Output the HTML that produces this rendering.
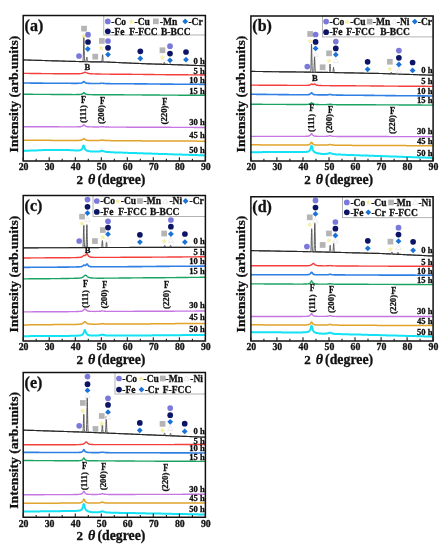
<!DOCTYPE html>
<html><head><meta charset="utf-8"><style>
html,body{margin:0;padding:0;background:#fff;}
body{width:445px;height:550px;overflow:hidden;font-family:"Liberation Serif",serif;}
svg{display:block;will-change:transform;}
</style></head><body>
<svg width="445" height="550" viewBox="0 0 445 550">
<rect width="445" height="550" fill="#fff"/>
<rect x="103.8" y="15.5" width="101.6" height="19.5" fill="#fff" stroke="#a0a0a0" stroke-width="0.8"/>
<polyline fill="none" stroke="#5a5a5a" stroke-width="1.0" stroke-linejoin="round" points="23.2,59.9 23.9,59.9 24.5,59.9 25.2,60.0 25.8,60.0 26.5,60.0 27.1,60.0 27.8,60.0 28.4,60.1 29.1,60.1 29.7,60.1 30.4,60.1 31.0,60.1 31.7,60.2 32.3,60.2 33.0,60.2 33.6,60.2 34.3,60.2 34.9,60.2 35.6,60.3 36.2,60.3 36.9,60.3 37.5,60.3 38.2,60.3 38.8,60.4 39.5,60.4 40.1,60.4 40.8,60.4 41.4,60.4 42.1,60.5 42.7,60.5 43.4,60.5 44.0,60.5 44.7,60.5 45.3,60.6 46.0,60.6 46.6,60.6 47.3,60.6 47.9,60.6 48.6,60.7 49.2,60.7 49.9,60.7 50.5,60.7 51.2,60.7 51.8,60.8 52.5,60.8 53.1,60.8 53.8,60.8 54.4,60.8 55.1,60.8 55.7,60.9 56.4,60.9 57.0,60.9 57.7,60.9 58.3,60.9 59.0,61.0 59.6,61.0 60.3,61.0 60.9,61.0 61.6,61.0 62.2,61.1 62.9,61.1 63.5,61.1 64.2,61.1 64.8,61.1 65.5,61.2 66.1,61.2 66.8,61.2 67.5,61.2 68.1,61.2 68.8,61.3 69.4,61.3 70.1,61.3 70.7,61.3 71.4,61.3 72.0,61.3 72.7,61.4 73.3,61.4 74.0,61.4 74.6,61.4 75.3,61.4 75.9,61.5 76.6,61.5 77.2,61.5 77.9,61.5 78.5,61.5 79.2,61.6 79.8,61.6 80.5,61.6 81.1,61.6 81.7,61.6 81.8,61.6 81.8,61.6 81.8,61.6 81.9,61.6 82.0,61.6 82.1,61.6 82.2,61.6 82.3,61.6 82.4,61.6 82.4,61.6 82.5,61.6 82.6,61.6 82.7,61.6 82.8,61.6 82.8,61.5 82.9,61.3 83.0,60.9 83.1,60.6 83.1,60.0 83.2,58.6 83.3,56.3 83.4,53.0 83.5,48.9 83.6,44.4 83.7,40.2 83.7,38.3 83.8,37.2 83.8,36.2 83.9,36.2 83.9,37.2 84.0,39.0 84.0,40.2 84.1,44.4 84.2,48.9 84.2,50.5 84.3,53.0 84.4,55.5 84.4,56.3 84.5,58.6 84.5,58.7 84.6,60.1 84.6,60.5 84.7,60.9 84.7,61.3 84.8,61.3 84.9,61.5 84.9,61.5 84.9,61.6 85.0,61.6 85.0,61.6 85.0,61.7 85.1,61.7 85.1,61.7 85.2,61.7 85.2,61.7 85.3,61.7 85.4,61.7 85.4,61.7 85.5,61.7 85.5,61.7 85.6,61.6 85.6,61.6 85.7,61.6 85.7,61.5 85.8,61.5 85.9,61.4 85.9,61.2 86.0,61.1 86.1,60.7 86.2,60.1 86.3,59.6 86.3,59.4 86.5,58.6 86.6,57.8 86.7,57.3 86.8,57.1 87.0,57.3 87.0,57.3 87.1,57.8 87.2,58.6 87.3,59.4 87.5,60.2 87.6,60.7 87.6,60.9 87.7,61.2 87.8,61.4 88.0,61.6 88.1,61.7 88.2,61.7 88.3,61.7 88.3,61.7 88.5,61.7 88.6,61.7 88.7,61.7 88.8,61.7 88.9,61.7 88.9,61.7 89.1,61.7 89.2,61.7 89.3,61.7 89.4,61.7 89.6,61.7 89.6,61.7 89.7,61.7 89.8,61.7 90.2,61.7 90.9,61.8 91.5,61.8 92.2,61.8 92.8,61.8 93.5,61.8 94.1,61.8 94.8,61.8 95.4,61.8 96.1,61.8 96.7,61.9 97.4,61.9 98.0,61.9 98.7,61.9 99.3,61.9 100.0,61.9 100.4,61.9 100.5,61.9 100.6,61.9 100.6,61.9 100.7,61.9 100.8,61.9 100.9,61.9 101.0,61.9 101.0,61.9 101.1,61.9 101.2,61.9 101.3,61.9 101.3,61.9 101.4,61.9 101.5,61.9 101.6,61.9 101.7,61.8 101.8,61.7 101.9,61.5 101.9,61.1 102.0,61.1 102.0,60.4 102.1,59.5 102.2,58.3 102.3,57.1 102.4,55.9 102.5,55.0 102.6,54.7 102.7,55.0 102.8,55.9 102.9,57.1 103.0,58.3 103.0,59.5 103.1,60.4 103.2,61.1 103.2,61.2 103.3,61.5 103.4,61.7 103.5,61.9 103.6,61.9 103.7,61.9 103.8,62.0 103.9,62.0 103.9,62.0 104.0,62.0 104.0,62.0 104.1,62.0 104.2,62.0 104.3,62.0 104.4,62.0 104.5,62.0 104.5,62.0 104.6,62.0 104.7,62.0 105.2,62.0 105.8,62.0 106.5,62.0 107.1,62.0 107.8,62.1 108.4,62.1 109.1,62.1 109.7,62.1 110.4,62.2 111.1,62.2 111.7,62.2 112.4,62.3 113.0,62.3 113.7,62.3 114.3,62.4 115.0,62.4 115.6,62.4 116.3,62.5 116.9,62.5 117.6,62.5 118.2,62.5 118.9,62.6 119.5,62.6 120.2,62.6 120.8,62.7 121.5,62.7 122.1,62.7 122.8,62.8 123.4,62.8 124.1,62.8 124.7,62.8 125.4,62.9 126.0,62.9 126.7,62.9 127.3,63.0 128.0,63.0 128.6,63.0 129.3,63.1 129.9,63.1 130.6,63.1 131.2,63.1 131.9,63.2 132.5,63.2 133.2,63.2 133.8,63.2 134.5,63.3 135.1,63.3 135.8,63.3 136.4,63.4 137.1,63.4 137.7,63.4 138.4,63.4 139.0,63.5 139.7,63.5 140.3,63.5 141.0,63.5 141.6,63.6 142.3,63.6 142.9,63.6 143.6,63.6 144.2,63.6 144.9,63.7 145.5,63.7 146.2,63.7 146.8,63.8 147.5,63.8 148.1,63.8 148.8,63.8 149.4,63.9 150.1,63.9 150.7,63.9 151.4,63.9 152.0,64.0 152.7,64.0 153.3,64.0 154.0,64.0 154.7,64.0 155.3,64.1 156.0,64.1 156.6,64.1 157.3,64.1 157.9,64.1 158.6,64.2 159.2,64.2 159.9,64.2 160.5,64.2 161.2,64.2 161.3,64.2 161.4,64.2 161.6,64.3 161.7,64.3 161.8,64.3 161.9,64.3 162.1,64.3 162.2,64.3 162.3,64.3 162.4,64.3 162.5,64.3 162.6,64.3 162.7,64.3 162.8,64.3 162.9,64.3 163.0,64.3 163.1,64.3 163.2,64.2 163.3,64.2 163.4,64.1 163.5,63.9 163.7,63.6 163.8,63.4 163.8,63.3 163.9,63.0 164.0,62.6 164.2,62.4 164.3,62.3 164.4,62.4 164.4,62.4 164.5,62.7 164.7,63.0 164.8,63.4 164.9,63.7 165.0,63.9 165.1,64.0 165.1,64.1 165.3,64.2 165.4,64.3 165.5,64.3 165.6,64.4 165.7,64.4 165.8,64.4 165.9,64.4 166.0,64.4 166.1,64.4 166.3,64.4 166.4,64.4 166.4,64.4 166.5,64.4 166.6,64.4 166.8,64.4 166.9,64.4 167.0,64.4 167.0,64.4 167.1,64.4 167.1,64.4 167.3,64.4 167.3,64.4 167.4,64.4 167.5,64.4 167.7,64.4 167.8,64.4 167.9,64.4 168.1,64.5 168.2,64.5 168.3,64.5 168.4,64.5 168.6,64.5 168.7,64.5 168.8,64.5 169.0,64.5 169.1,64.5 169.2,64.4 169.4,64.4 169.5,64.3 169.6,64.2 169.7,64.1 169.9,64.0 170.0,63.8 170.1,63.7 170.3,63.7 170.4,63.8 170.5,63.9 170.7,64.0 170.8,64.1 170.9,64.3 171.1,64.4 171.2,64.5 171.3,64.5 171.4,64.5 171.6,64.5 171.7,64.6 171.8,64.6 172.0,64.6 172.1,64.6 172.2,64.6 172.4,64.6 172.5,64.6 172.6,64.6 172.7,64.6 172.9,64.6 173.0,64.6 173.1,64.6 173.3,64.6 173.5,64.6 174.2,64.6 174.8,64.7 175.5,64.7 176.1,64.7 176.8,64.7 177.4,64.7 178.1,64.8 178.7,64.8 179.4,64.8 180.0,64.8 180.7,64.8 181.3,64.9 182.0,64.9 182.6,64.9 183.3,65.0 183.9,65.0 184.6,65.0 185.2,65.0 185.9,65.0 186.5,65.1 187.2,65.1 187.8,65.1 188.5,65.1 189.1,65.2 189.8,65.2 190.4,65.2 191.1,65.2 191.7,65.3 192.4,65.3 193.0,65.3 193.7,65.3 194.3,65.4 195.0,65.4 195.6,65.4 196.3,65.5 197.0,65.5 197.6,65.5 198.3,65.5 198.9,65.5 199.6,65.6 200.2,65.6 200.9,65.6 201.5,65.6 202.2,65.7 202.8,65.7 203.5,65.7 204.1,65.8 204.8,65.8 205.4,65.8"/>
<polyline fill="none" stroke="#262626" stroke-width="1.15" points="23.2,59.9 23.9,59.9 24.5,59.9 25.2,60.0 25.8,60.0 26.5,60.0 27.1,60.0 27.8,60.0 28.4,60.1 29.1,60.1 29.7,60.1 30.4,60.1 31.0,60.1 31.7,60.2 32.3,60.2 33.0,60.2 33.6,60.2 34.3,60.2 34.9,60.2 35.6,60.3 36.2,60.3 36.9,60.3 37.5,60.3 38.2,60.3 38.8,60.4 39.5,60.4 40.1,60.4 40.8,60.4 41.4,60.4 42.1,60.5 42.7,60.5 43.4,60.5 44.0,60.5 44.7,60.5 45.3,60.6 46.0,60.6 46.6,60.6 47.3,60.6 47.9,60.6 48.6,60.7 49.2,60.7 49.9,60.7 50.5,60.7 51.2,60.7 51.8,60.8 52.5,60.8 53.1,60.8 53.8,60.8 54.4,60.8 55.1,60.8 55.7,60.9 56.4,60.9 57.0,60.9 57.7,60.9 58.3,60.9 59.0,61.0 59.6,61.0 60.3,61.0 60.9,61.0 61.6,61.0 62.2,61.1 62.9,61.1 63.5,61.1 64.2,61.1 64.8,61.1 65.5,61.2 66.1,61.2 66.8,61.2 67.5,61.2 68.1,61.2 68.8,61.3 69.4,61.3 70.1,61.3 70.7,61.3 71.4,61.3 72.0,61.3 72.7,61.4 73.3,61.4 74.0,61.4 74.6,61.4 75.3,61.4 75.9,61.5 76.6,61.5 77.2,61.5 77.9,61.5 78.5,61.5 79.2,61.6 79.8,61.6 80.5,61.6 81.1,61.6 81.8,61.6 82.4,61.6 83.1,61.6 83.7,61.6 84.4,61.7 85.0,61.7 85.7,61.7 86.3,61.7 87.0,61.7 87.6,61.7 88.3,61.7 88.9,61.7 89.6,61.7 90.2,61.8 90.9,61.8 91.5,61.8 92.2,61.8 92.8,61.8 93.5,61.8 94.1,61.8 94.8,61.8 95.4,61.8 96.1,61.8 96.7,61.9 97.4,61.9 98.0,61.9 98.7,61.9 99.3,61.9 100.0,61.9 100.6,61.9 101.3,61.9 101.9,61.9 102.6,61.9 103.2,62.0 103.9,62.0 104.5,62.0 105.2,62.0 105.8,62.0 106.5,62.0 107.1,62.0 107.8,62.1 108.4,62.1 109.1,62.1 109.7,62.1 110.4,62.2 111.1,62.2 111.7,62.2 112.4,62.3 113.0,62.3 113.7,62.3 114.3,62.4 115.0,62.4 115.6,62.4 116.3,62.5 116.9,62.5 117.6,62.5 118.2,62.5 118.9,62.6 119.5,62.6 120.2,62.6 120.8,62.7 121.5,62.7 122.1,62.7 122.8,62.8 123.4,62.8 124.1,62.8 124.7,62.8 125.4,62.9 126.0,62.9 126.7,62.9 127.3,63.0 128.0,63.0 128.6,63.0 129.3,63.1 129.9,63.1 130.6,63.1 131.2,63.1 131.9,63.2 132.5,63.2 133.2,63.2 133.8,63.2 134.5,63.3 135.1,63.3 135.8,63.3 136.4,63.4 137.1,63.4 137.7,63.4 138.4,63.4 139.0,63.5 139.7,63.5 140.3,63.5 141.0,63.5 141.6,63.6 142.3,63.6 142.9,63.6 143.6,63.6 144.2,63.6 144.9,63.7 145.5,63.7 146.2,63.7 146.8,63.8 147.5,63.8 148.1,63.8 148.8,63.8 149.4,63.9 150.1,63.9 150.7,63.9 151.4,63.9 152.0,64.0 152.7,64.0 153.3,64.0 154.0,64.0 154.7,64.0 155.3,64.1 156.0,64.1 156.6,64.1 157.3,64.1 157.9,64.1 158.6,64.2 159.2,64.2 159.9,64.2 160.5,64.2 161.2,64.2 161.8,64.3 162.5,64.3 163.1,64.3 163.8,64.3 164.4,64.3 165.1,64.4 165.7,64.4 166.4,64.4 167.0,64.4 167.7,64.4 168.3,64.5 169.0,64.5 169.6,64.5 170.3,64.5 170.9,64.5 171.6,64.6 172.2,64.6 172.9,64.6 173.5,64.6 174.2,64.6 174.8,64.7 175.5,64.7 176.1,64.7 176.8,64.7 177.4,64.7 178.1,64.8 178.7,64.8 179.4,64.8 180.0,64.8 180.7,64.8 181.3,64.9 182.0,64.9 182.6,64.9 183.3,65.0 183.9,65.0 184.6,65.0 185.2,65.0 185.9,65.0 186.5,65.1 187.2,65.1 187.8,65.1 188.5,65.1 189.1,65.2 189.8,65.2 190.4,65.2 191.1,65.2 191.7,65.3 192.4,65.3 193.0,65.3 193.7,65.3 194.3,65.4 195.0,65.4 195.6,65.4 196.3,65.5 197.0,65.5 197.6,65.5 198.3,65.5 198.9,65.5 199.6,65.6 200.2,65.6 200.9,65.6 201.5,65.6 202.2,65.7 202.8,65.7 203.5,65.7 204.1,65.8 204.8,65.8 205.4,65.8"/>
<polyline fill="none" stroke="#f4403c" stroke-width="1.4" stroke-linejoin="round" points="23.2,73.4 23.9,73.4 24.5,73.4 25.2,73.4 25.8,73.4 26.5,73.4 27.1,73.4 27.8,73.4 28.4,73.4 29.1,73.4 29.7,73.5 30.4,73.5 31.0,73.5 31.7,73.5 32.3,73.5 33.0,73.5 33.6,73.5 34.3,73.5 34.9,73.5 35.6,73.5 36.2,73.5 36.9,73.5 37.5,73.5 38.2,73.5 38.8,73.5 39.5,73.5 40.1,73.5 40.8,73.5 41.4,73.6 42.1,73.6 42.7,73.6 43.4,73.6 44.0,73.6 44.7,73.6 45.3,73.6 46.0,73.6 46.6,73.6 47.3,73.6 47.9,73.6 48.6,73.6 49.2,73.6 49.9,73.6 50.5,73.6 51.2,73.6 51.8,73.6 52.5,73.6 53.1,73.7 53.8,73.7 54.4,73.7 55.1,73.7 55.7,73.7 56.4,73.7 57.0,73.7 57.7,73.7 58.3,73.7 59.0,73.7 59.6,73.7 60.3,73.7 60.9,73.7 61.6,73.7 62.2,73.7 62.9,73.7 63.5,73.7 64.2,73.7 64.8,73.7 65.5,73.7 66.1,73.8 66.8,73.8 67.5,73.8 68.1,73.8 68.8,73.8 69.4,73.8 70.1,73.8 70.7,73.8 71.1,73.8 71.4,73.8 71.7,73.8 72.0,73.8 72.3,73.8 72.7,73.8 72.9,73.8 73.3,73.8 73.4,73.8 74.0,73.8 74.0,73.8 74.6,73.8 75.2,73.8 75.3,73.8 75.8,73.8 75.9,73.8 76.4,73.8 76.6,73.8 77.0,73.8 77.2,73.7 77.5,73.7 77.9,73.7 78.1,73.7 78.5,73.7 78.7,73.7 79.2,73.7 79.3,73.7 79.8,73.6 79.9,73.6 80.5,73.6 81.1,73.5 81.1,73.5 81.6,73.4 81.8,73.4 82.2,73.3 82.4,73.2 82.8,73.1 83.1,73.0 83.4,72.9 83.7,72.8 84.0,72.7 84.4,72.5 84.6,72.4 85.0,72.3 85.2,72.3 85.7,72.4 85.7,72.4 86.3,72.7 86.9,72.9 87.0,73.0 87.5,73.2 87.6,73.2 88.1,73.3 88.3,73.4 88.7,73.5 88.9,73.5 89.3,73.6 89.6,73.6 89.8,73.7 90.2,73.7 90.4,73.7 90.9,73.8 91.0,73.8 91.5,73.8 91.6,73.8 92.2,73.8 92.8,73.9 92.8,73.9 93.4,73.9 93.5,73.9 93.9,73.9 94.1,73.9 94.5,73.9 94.8,73.9 95.1,73.9 95.4,74.0 95.7,74.0 96.1,74.0 96.3,74.0 96.7,74.0 96.9,74.0 97.4,74.0 97.5,74.0 98.0,74.0 98.6,74.0 98.7,74.0 99.2,74.0 99.3,74.0 100.0,74.0 100.6,74.0 101.3,74.1 101.9,74.1 102.6,74.1 103.2,74.1 103.9,74.1 104.5,74.1 105.2,74.1 105.8,74.1 106.5,74.1 107.1,74.1 107.8,74.1 108.4,74.1 109.1,74.1 109.7,74.1 110.4,74.2 111.1,74.2 111.7,74.2 112.4,74.2 113.0,74.2 113.7,74.2 114.3,74.2 115.0,74.2 115.6,74.2 116.3,74.2 116.9,74.2 117.6,74.2 118.2,74.2 118.9,74.2 119.5,74.2 120.2,74.2 120.8,74.3 121.5,74.3 122.1,74.3 122.8,74.3 123.4,74.3 124.1,74.3 124.7,74.3 125.4,74.3 126.0,74.3 126.7,74.3 127.3,74.3 128.0,74.3 128.6,74.3 129.3,74.3 129.9,74.3 130.6,74.3 131.2,74.3 131.9,74.4 132.5,74.4 133.2,74.4 133.8,74.4 134.5,74.4 135.1,74.4 135.8,74.4 136.4,74.4 137.1,74.4 137.7,74.4 138.4,74.4 139.0,74.4 139.7,74.4 140.3,74.4 141.0,74.4 141.6,74.4 142.3,74.4 142.9,74.4 143.6,74.5 144.2,74.5 144.9,74.5 145.5,74.5 146.2,74.5 146.8,74.5 147.5,74.5 148.1,74.5 148.8,74.5 149.4,74.5 150.1,74.5 150.7,74.5 151.4,74.5 152.0,74.5 152.7,74.5 153.3,74.5 154.0,74.5 154.7,74.6 155.3,74.6 156.0,74.6 156.6,74.6 157.3,74.6 157.9,74.6 158.6,74.6 159.2,74.6 159.9,74.6 160.5,74.6 161.2,74.6 161.8,74.6 162.5,74.6 163.1,74.6 163.8,74.6 164.4,74.6 165.1,74.6 165.7,74.7 166.4,74.7 167.0,74.7 167.7,74.7 168.3,74.7 169.0,74.7 169.6,74.7 170.3,74.7 170.9,74.7 171.6,74.7 172.2,74.7 172.9,74.7 173.5,74.7 174.2,74.7 174.8,74.7 175.5,74.7 176.1,74.7 176.8,74.7 177.4,74.8 178.1,74.8 178.7,74.8 179.4,74.8 180.0,74.8 180.7,74.8 181.3,74.8 182.0,74.8 182.6,74.8 183.3,74.8 183.9,74.8 184.6,74.8 185.2,74.8 185.9,74.8 186.5,74.8 187.2,74.8 187.8,74.8 188.5,74.9 189.1,74.9 189.8,74.9 190.4,74.9 191.1,74.9 191.7,74.9 192.4,74.9 193.0,74.9 193.7,74.9 194.3,74.9 195.0,74.9 195.6,74.9 196.3,74.9 197.0,74.9 197.6,74.9 198.3,74.9 198.9,74.9 199.6,74.9 200.2,75.0 200.9,75.0 201.5,75.0 202.2,75.0 202.8,75.0 203.5,75.0 204.1,75.0 204.8,75.0 205.4,75.0"/>
<polyline fill="none" stroke="#2f7fe4" stroke-width="1.6" stroke-linejoin="round" points="23.2,83.0 23.9,83.0 24.5,83.0 25.2,83.0 25.8,83.0 26.5,83.0 27.1,83.0 27.8,83.0 28.4,83.0 29.1,83.0 29.7,83.0 30.4,83.1 31.0,83.1 31.7,83.1 32.3,83.1 33.0,83.1 33.6,83.1 34.3,83.1 34.9,83.1 35.6,83.1 36.2,83.1 36.9,83.1 37.5,83.1 38.2,83.1 38.8,83.1 39.5,83.1 40.1,83.1 40.8,83.1 41.4,83.1 42.1,83.1 42.7,83.1 43.4,83.2 44.0,83.2 44.7,83.2 45.3,83.2 46.0,83.2 46.6,83.2 47.3,83.2 47.9,83.2 48.6,83.2 49.2,83.2 49.9,83.2 50.5,83.2 51.2,83.2 51.8,83.2 52.5,83.2 53.1,83.2 53.8,83.2 54.4,83.2 55.1,83.2 55.7,83.2 56.4,83.3 57.0,83.3 57.7,83.3 58.3,83.3 59.0,83.3 59.6,83.3 60.3,83.3 60.9,83.3 61.6,83.3 62.2,83.3 62.9,83.3 63.5,83.3 64.2,83.3 64.8,83.3 65.5,83.3 66.1,83.3 66.8,83.3 67.5,83.3 68.1,83.3 68.8,83.3 69.4,83.3 70.1,83.3 70.7,83.3 71.4,83.4 72.0,83.4 72.7,83.4 73.3,83.4 74.0,83.4 74.6,83.4 75.3,83.4 75.9,83.4 76.6,83.4 76.8,83.4 77.1,83.4 77.2,83.4 77.4,83.4 77.7,83.3 77.9,83.3 78.0,83.3 78.3,83.3 78.5,83.3 78.6,83.3 78.9,83.3 79.2,83.3 79.5,83.3 79.8,83.3 79.8,83.3 80.0,83.3 80.3,83.2 80.5,83.2 80.6,83.2 80.9,83.2 81.1,83.1 81.2,83.1 81.5,83.0 81.8,83.0 81.8,83.0 82.1,82.8 82.4,82.7 82.4,82.7 82.7,82.5 83.0,82.2 83.1,82.1 83.3,81.9 83.6,81.6 83.7,81.5 83.8,81.5 84.1,81.6 84.4,81.8 84.4,81.9 84.7,82.2 85.0,82.5 85.3,82.7 85.6,82.9 85.7,82.9 85.9,83.0 86.2,83.1 86.3,83.1 86.5,83.2 86.8,83.2 87.0,83.2 87.1,83.3 87.4,83.3 87.6,83.3 87.7,83.3 87.9,83.3 88.2,83.4 88.3,83.4 88.5,83.4 88.8,83.4 88.9,83.4 89.1,83.4 89.4,83.4 89.6,83.4 89.7,83.4 90.0,83.4 90.2,83.4 90.3,83.4 90.6,83.5 90.9,83.5 91.5,83.5 92.2,83.5 92.8,83.5 93.0,83.5 93.4,83.5 93.5,83.5 93.7,83.5 94.1,83.5 94.5,83.5 94.8,83.5 94.9,83.5 95.3,83.5 95.4,83.5 95.7,83.5 96.1,83.5 96.5,83.5 96.7,83.5 96.9,83.5 97.3,83.5 97.4,83.5 97.6,83.5 98.0,83.5 98.4,83.5 98.7,83.5 98.8,83.5 99.2,83.5 99.3,83.5 99.6,83.5 100.0,83.5 100.4,83.4 100.6,83.4 100.8,83.4 101.2,83.3 101.3,83.3 101.6,83.3 101.9,83.2 102.3,83.2 102.6,83.2 102.7,83.2 103.1,83.3 103.2,83.3 103.5,83.4 103.9,83.4 104.3,83.5 104.5,83.5 104.7,83.5 105.1,83.5 105.2,83.5 105.5,83.5 105.8,83.6 106.2,83.6 106.5,83.6 106.6,83.6 107.0,83.6 107.1,83.6 107.4,83.6 107.8,83.6 108.2,83.6 108.4,83.6 108.6,83.6 109.0,83.6 109.1,83.6 109.4,83.6 109.7,83.6 110.1,83.6 110.4,83.7 110.5,83.7 110.9,83.7 111.1,83.7 111.3,83.7 111.7,83.7 112.4,83.7 113.0,83.7 113.7,83.7 114.3,83.7 115.0,83.7 115.6,83.7 116.3,83.7 116.9,83.7 117.6,83.7 118.2,83.7 118.9,83.7 119.5,83.7 120.2,83.7 120.8,83.7 121.5,83.8 122.1,83.8 122.8,83.8 123.4,83.8 124.1,83.8 124.7,83.8 125.4,83.8 126.0,83.8 126.7,83.8 127.3,83.8 128.0,83.8 128.6,83.8 129.3,83.8 129.9,83.8 130.6,83.8 131.2,83.8 131.9,83.8 132.5,83.8 133.2,83.8 133.8,83.8 134.5,83.9 135.1,83.9 135.8,83.9 136.4,83.9 137.1,83.9 137.7,83.9 138.4,83.9 139.0,83.9 139.7,83.9 140.3,83.9 141.0,83.9 141.6,83.9 142.3,83.9 142.9,83.9 143.6,83.9 144.2,83.9 144.9,83.9 145.5,83.9 146.2,83.9 146.8,83.9 147.5,84.0 148.1,84.0 148.8,84.0 149.4,84.0 150.1,84.0 150.7,84.0 151.4,84.0 152.0,84.0 152.7,84.0 153.3,84.0 154.0,84.0 154.7,84.0 155.3,84.0 156.0,84.0 156.6,84.0 157.3,84.0 157.9,84.0 158.6,84.0 159.2,84.0 159.9,84.0 160.5,84.1 161.2,84.1 161.8,84.1 162.5,84.1 163.1,84.1 163.8,84.1 164.4,84.1 165.1,84.1 165.7,84.1 166.4,84.1 167.0,84.1 167.7,84.1 168.3,84.1 169.0,84.1 169.6,84.1 170.3,84.1 170.9,84.1 171.6,84.1 172.2,84.1 172.9,84.1 173.5,84.2 174.2,84.2 174.8,84.2 175.5,84.2 176.1,84.2 176.8,84.2 177.4,84.2 178.1,84.2 178.7,84.2 179.4,84.2 180.0,84.2 180.7,84.2 181.3,84.2 182.0,84.2 182.6,84.2 183.3,84.2 183.9,84.2 184.6,84.2 185.2,84.2 185.9,84.2 186.5,84.3 187.2,84.3 187.8,84.3 188.5,84.3 189.1,84.3 189.8,84.3 190.4,84.3 191.1,84.3 191.7,84.3 192.4,84.3 193.0,84.3 193.7,84.3 194.3,84.3 195.0,84.3 195.6,84.3 196.3,84.3 197.0,84.3 197.6,84.3 198.3,84.3 198.9,84.3 199.6,84.4 200.2,84.4 200.9,84.4 201.5,84.4 202.2,84.4 202.8,84.4 203.5,84.4 204.1,84.4 204.8,84.4 205.4,84.4"/>
<polyline fill="none" stroke="#1aa362" stroke-width="1.4" stroke-linejoin="round" points="23.2,94.3 23.9,94.3 24.5,94.3 25.2,94.3 25.8,94.3 26.5,94.3 27.1,94.3 27.8,94.3 28.4,94.3 29.1,94.3 29.7,94.3 30.4,94.3 31.0,94.3 31.7,94.3 32.3,94.3 33.0,94.4 33.6,94.4 34.3,94.4 34.9,94.4 35.6,94.4 36.2,94.4 36.9,94.4 37.5,94.4 38.2,94.4 38.8,94.4 39.5,94.4 40.1,94.4 40.8,94.4 41.4,94.4 42.1,94.4 42.7,94.4 43.4,94.4 44.0,94.4 44.7,94.4 45.3,94.4 46.0,94.4 46.6,94.4 47.3,94.4 47.9,94.4 48.6,94.4 49.2,94.4 49.9,94.4 50.5,94.4 51.2,94.5 51.8,94.5 52.5,94.5 53.1,94.5 53.8,94.5 54.4,94.5 55.1,94.5 55.7,94.5 56.4,94.5 57.0,94.5 57.7,94.5 58.3,94.5 59.0,94.5 59.6,94.5 60.3,94.5 60.9,94.5 61.6,94.5 62.2,94.5 62.9,94.5 63.5,94.5 64.2,94.5 64.8,94.5 65.5,94.5 66.1,94.5 66.8,94.5 67.5,94.5 68.1,94.5 68.8,94.5 69.4,94.5 70.1,94.5 70.7,94.5 71.4,94.5 72.0,94.5 72.7,94.6 73.3,94.6 74.0,94.6 74.6,94.6 75.3,94.6 75.9,94.5 76.6,94.5 76.8,94.5 77.1,94.5 77.2,94.5 77.4,94.5 77.7,94.5 77.9,94.5 78.0,94.5 78.3,94.5 78.5,94.5 78.6,94.5 78.9,94.5 79.2,94.5 79.5,94.5 79.8,94.5 79.8,94.5 80.0,94.4 80.3,94.4 80.5,94.4 80.6,94.4 80.9,94.4 81.1,94.3 81.2,94.3 81.5,94.2 81.8,94.2 81.8,94.2 82.1,94.0 82.4,93.9 82.4,93.9 82.7,93.7 83.0,93.4 83.1,93.3 83.3,93.1 83.6,92.8 83.7,92.8 83.8,92.7 84.1,92.8 84.4,93.0 84.4,93.1 84.7,93.4 85.0,93.7 85.3,93.9 85.6,94.1 85.7,94.1 85.9,94.2 86.2,94.3 86.3,94.3 86.5,94.3 86.8,94.4 87.0,94.4 87.1,94.4 87.4,94.5 87.6,94.5 87.7,94.5 87.9,94.5 88.2,94.5 88.3,94.5 88.5,94.5 88.8,94.6 88.9,94.6 89.1,94.6 89.4,94.6 89.6,94.6 89.7,94.6 90.0,94.6 90.2,94.6 90.3,94.6 90.6,94.6 90.9,94.6 91.5,94.6 92.2,94.6 92.8,94.7 93.5,94.7 94.1,94.7 94.8,94.7 95.4,94.7 96.1,94.7 96.7,94.7 97.4,94.7 98.0,94.7 98.7,94.7 99.3,94.7 100.0,94.7 100.6,94.7 101.3,94.7 101.9,94.7 102.6,94.7 103.2,94.7 103.9,94.7 104.5,94.7 105.2,94.7 105.8,94.7 106.5,94.8 107.1,94.8 107.8,94.8 108.4,94.8 109.1,94.8 109.7,94.8 110.4,94.8 111.1,94.8 111.7,94.8 112.4,94.8 113.0,94.8 113.7,94.8 114.3,94.8 115.0,94.8 115.6,94.8 116.3,94.8 116.9,94.8 117.6,94.8 118.2,94.8 118.9,94.8 119.5,94.8 120.2,94.8 120.8,94.8 121.5,94.8 122.1,94.8 122.8,94.8 123.4,94.8 124.1,94.9 124.7,94.9 125.4,94.9 126.0,94.9 126.7,94.9 127.3,94.9 128.0,94.9 128.6,94.9 129.3,94.9 129.9,94.9 130.6,94.9 131.2,94.9 131.9,94.9 132.5,94.9 133.2,94.9 133.8,94.9 134.5,94.9 135.1,94.9 135.8,94.9 136.4,94.9 137.1,94.9 137.7,94.9 138.4,94.9 139.0,94.9 139.7,94.9 140.3,94.9 141.0,94.9 141.6,94.9 142.3,95.0 142.9,95.0 143.6,95.0 144.2,95.0 144.9,95.0 145.5,95.0 146.2,95.0 146.8,95.0 147.5,95.0 148.1,95.0 148.8,95.0 149.4,95.0 150.1,95.0 150.7,95.0 151.4,95.0 152.0,95.0 152.7,95.0 153.3,95.0 154.0,95.0 154.7,95.0 155.3,95.0 156.0,95.0 156.6,95.0 157.3,95.0 157.9,95.0 158.6,95.0 159.2,95.0 159.9,95.0 160.5,95.1 161.2,95.1 161.8,95.1 162.5,95.1 163.1,95.1 163.8,95.1 164.4,95.1 165.1,95.1 165.7,95.1 166.4,95.1 167.0,95.1 167.7,95.1 168.3,95.1 169.0,95.1 169.6,95.1 170.3,95.1 170.9,95.1 171.6,95.1 172.2,95.1 172.9,95.1 173.5,95.1 174.2,95.1 174.8,95.1 175.5,95.1 176.1,95.1 176.8,95.1 177.4,95.1 178.1,95.1 178.7,95.2 179.4,95.2 180.0,95.2 180.7,95.2 181.3,95.2 182.0,95.2 182.6,95.2 183.3,95.2 183.9,95.2 184.6,95.2 185.2,95.2 185.9,95.2 186.5,95.2 187.2,95.2 187.8,95.2 188.5,95.2 189.1,95.2 189.8,95.2 190.4,95.2 191.1,95.2 191.7,95.2 192.4,95.2 193.0,95.2 193.7,95.2 194.3,95.2 195.0,95.2 195.6,95.2 196.3,95.2 197.0,95.3 197.6,95.3 198.3,95.3 198.9,95.3 199.6,95.3 200.2,95.3 200.9,95.3 201.5,95.3 202.2,95.3 202.8,95.3 203.5,95.3 204.1,95.3 204.8,95.3 205.4,95.3"/>
<polyline fill="none" stroke="#c676e2" stroke-width="1.4" stroke-linejoin="round" points="23.2,126.7 23.9,126.7 24.5,126.7 25.2,126.7 25.8,126.7 26.5,126.7 27.1,126.7 27.8,126.7 28.4,126.7 29.1,126.7 29.7,126.7 30.4,126.7 31.0,126.7 31.7,126.7 32.3,126.7 33.0,126.7 33.6,126.7 34.3,126.7 34.9,126.7 35.6,126.8 36.2,126.8 36.9,126.8 37.5,126.8 38.2,126.8 38.8,126.8 39.5,126.8 40.1,126.8 40.8,126.8 41.4,126.8 42.1,126.8 42.7,126.8 43.4,126.8 44.0,126.8 44.7,126.8 45.3,126.8 46.0,126.8 46.6,126.8 47.3,126.8 47.9,126.8 48.6,126.8 49.2,126.8 49.9,126.8 50.5,126.8 51.2,126.8 51.8,126.8 52.5,126.8 53.1,126.8 53.8,126.8 54.4,126.8 55.1,126.8 55.7,126.8 56.4,126.8 57.0,126.8 57.7,126.8 58.3,126.8 59.0,126.9 59.6,126.9 60.3,126.9 60.9,126.9 61.6,126.9 62.2,126.9 62.9,126.9 63.5,126.9 64.2,126.9 64.8,126.9 65.5,126.9 66.1,126.9 66.8,126.9 67.5,126.9 68.1,126.9 68.8,126.9 69.4,126.9 70.1,126.9 70.7,126.9 71.4,126.9 72.0,126.9 72.7,126.9 73.3,126.9 74.0,126.9 74.6,126.9 75.3,126.9 75.9,126.9 76.0,126.9 76.4,126.9 76.6,126.9 76.7,126.9 77.0,126.9 77.2,126.9 77.3,126.9 77.7,126.8 77.9,126.8 78.0,126.8 78.3,126.8 78.5,126.8 78.6,126.8 79.0,126.8 79.2,126.8 79.3,126.8 79.6,126.8 79.8,126.7 79.9,126.7 80.3,126.7 80.5,126.7 80.6,126.6 80.9,126.6 81.1,126.5 81.2,126.5 81.6,126.4 81.8,126.3 81.9,126.3 82.2,126.1 82.4,126.0 82.5,125.9 82.9,125.6 83.1,125.3 83.2,125.2 83.5,124.9 83.7,124.8 83.8,124.8 84.2,124.9 84.4,125.1 84.5,125.2 84.8,125.6 85.0,125.8 85.2,125.9 85.5,126.1 85.7,126.2 85.8,126.3 86.1,126.4 86.3,126.5 86.5,126.5 86.8,126.6 87.0,126.7 87.1,126.7 87.4,126.7 87.6,126.7 87.8,126.8 88.1,126.8 88.3,126.8 88.4,126.8 88.7,126.8 88.9,126.8 89.1,126.9 89.4,126.9 89.6,126.9 89.7,126.9 90.0,126.9 90.2,126.9 90.4,126.9 90.7,126.9 90.9,126.9 91.0,126.9 91.3,126.9 91.5,126.9 91.7,126.9 92.2,126.9 92.8,126.9 93.0,127.0 93.4,127.0 93.5,127.0 93.7,127.0 94.1,127.0 94.5,127.0 94.8,127.0 94.9,127.0 95.3,127.0 95.4,127.0 95.7,127.0 96.1,127.0 96.5,127.0 96.7,127.0 96.9,127.0 97.3,127.0 97.4,127.0 97.6,127.0 98.0,127.0 98.4,127.0 98.7,127.0 98.8,126.9 99.2,126.9 99.3,126.9 99.6,126.9 100.0,126.9 100.4,126.9 100.6,126.8 100.8,126.8 101.2,126.8 101.3,126.8 101.6,126.7 101.9,126.7 102.3,126.6 102.6,126.6 102.7,126.7 103.1,126.7 103.2,126.7 103.5,126.8 103.9,126.8 104.3,126.9 104.5,126.9 104.7,126.9 105.1,127.0 105.2,127.0 105.5,127.0 105.8,127.0 106.2,127.0 106.5,127.0 106.6,127.0 107.0,127.0 107.1,127.0 107.4,127.0 107.8,127.0 108.2,127.0 108.4,127.0 108.6,127.0 109.0,127.0 109.1,127.1 109.4,127.1 109.7,127.1 110.1,127.1 110.4,127.1 110.5,127.1 110.9,127.1 111.1,127.1 111.3,127.1 111.7,127.1 112.4,127.1 113.0,127.1 113.7,127.1 114.3,127.1 115.0,127.1 115.6,127.1 116.3,127.1 116.9,127.1 117.6,127.1 118.2,127.1 118.9,127.1 119.5,127.1 120.2,127.1 120.8,127.1 121.5,127.1 122.1,127.1 122.8,127.1 123.4,127.1 124.1,127.1 124.7,127.1 125.4,127.1 126.0,127.1 126.7,127.2 127.3,127.2 128.0,127.2 128.6,127.2 129.3,127.2 129.9,127.2 130.6,127.2 131.2,127.2 131.9,127.2 132.5,127.2 133.2,127.2 133.8,127.2 134.5,127.2 135.1,127.2 135.8,127.2 136.4,127.2 137.1,127.2 137.7,127.2 138.4,127.2 139.0,127.2 139.7,127.2 140.3,127.2 141.0,127.2 141.6,127.2 142.3,127.2 142.9,127.2 143.6,127.2 144.2,127.2 144.9,127.2 145.5,127.2 146.2,127.2 146.8,127.2 147.5,127.2 148.1,127.2 148.8,127.3 149.4,127.3 150.1,127.3 150.7,127.3 151.4,127.3 152.0,127.3 152.7,127.3 153.3,127.3 154.0,127.3 154.7,127.3 155.3,127.3 156.0,127.3 156.6,127.3 157.3,127.3 157.9,127.3 158.6,127.3 159.2,127.3 159.9,127.3 160.5,127.3 161.2,127.3 161.8,127.3 162.5,127.3 163.1,127.3 163.8,127.3 164.4,127.3 165.1,127.3 165.7,127.3 166.4,127.3 167.0,127.3 167.7,127.3 168.3,127.3 169.0,127.3 169.6,127.3 170.3,127.3 170.9,127.3 171.6,127.4 172.2,127.4 172.9,127.4 173.5,127.4 174.2,127.4 174.8,127.4 175.5,127.4 176.1,127.4 176.8,127.4 177.4,127.4 178.1,127.4 178.7,127.4 179.4,127.4 180.0,127.4 180.7,127.4 181.3,127.4 182.0,127.4 182.6,127.4 183.3,127.4 183.9,127.4 184.6,127.4 185.2,127.4 185.9,127.4 186.5,127.4 187.2,127.4 187.8,127.4 188.5,127.4 189.1,127.4 189.8,127.4 190.4,127.4 191.1,127.4 191.7,127.4 192.4,127.4 193.0,127.4 193.7,127.4 194.3,127.5 195.0,127.5 195.6,127.5 196.3,127.5 197.0,127.5 197.6,127.5 198.3,127.5 198.9,127.5 199.6,127.5 200.2,127.5 200.9,127.5 201.5,127.5 202.2,127.5 202.8,127.5 203.5,127.5 204.1,127.5 204.8,127.5 205.4,127.5"/>
<polyline fill="none" stroke="#e1a32a" stroke-width="1.5" stroke-linejoin="round" points="23.2,140.2 23.9,140.2 24.5,140.2 25.2,140.2 25.8,140.2 26.5,140.2 27.1,140.2 27.8,140.2 28.4,140.2 29.1,140.2 29.7,140.2 30.4,140.2 31.0,140.2 31.7,140.2 32.3,140.2 33.0,140.3 33.6,140.3 34.3,140.3 34.9,140.3 35.6,140.3 36.2,140.3 36.9,140.3 37.5,140.3 38.2,140.3 38.8,140.3 39.5,140.3 40.1,140.3 40.8,140.3 41.4,140.3 42.1,140.3 42.7,140.3 43.4,140.3 44.0,140.3 44.7,140.3 45.3,140.3 46.0,140.3 46.6,140.3 47.3,140.3 47.9,140.3 48.6,140.3 49.2,140.3 49.9,140.3 50.5,140.3 51.2,140.3 51.8,140.4 52.5,140.4 53.1,140.4 53.8,140.4 54.4,140.4 55.1,140.4 55.7,140.4 56.4,140.4 57.0,140.4 57.7,140.4 58.3,140.4 59.0,140.4 59.6,140.4 60.3,140.4 60.9,140.4 61.6,140.4 62.2,140.4 62.9,140.4 63.5,140.4 64.2,140.4 64.8,140.4 65.5,140.4 66.1,140.4 66.8,140.4 67.5,140.4 68.1,140.4 68.8,140.4 69.4,140.4 70.1,140.4 70.7,140.4 71.4,140.4 72.0,140.4 72.7,140.4 73.3,140.4 74.0,140.4 74.6,140.4 75.3,140.4 75.9,140.4 76.0,140.4 76.4,140.4 76.6,140.4 76.7,140.4 77.0,140.4 77.2,140.4 77.3,140.4 77.7,140.4 77.9,140.4 78.0,140.4 78.3,140.4 78.5,140.4 78.6,140.4 79.0,140.4 79.2,140.4 79.3,140.4 79.6,140.3 79.8,140.3 79.9,140.3 80.3,140.3 80.5,140.3 80.6,140.2 80.9,140.2 81.1,140.2 81.2,140.1 81.6,140.0 81.8,140.0 81.9,139.9 82.2,139.8 82.4,139.7 82.5,139.6 82.9,139.3 83.1,139.1 83.2,139.0 83.5,138.7 83.7,138.6 83.8,138.6 84.2,138.7 84.4,138.9 84.5,139.0 84.8,139.3 85.0,139.5 85.2,139.6 85.5,139.8 85.7,139.9 85.8,140.0 86.1,140.1 86.3,140.1 86.5,140.2 86.8,140.2 87.0,140.3 87.1,140.3 87.4,140.3 87.6,140.3 87.8,140.4 88.1,140.4 88.3,140.4 88.4,140.4 88.7,140.4 88.9,140.4 89.1,140.4 89.4,140.5 89.6,140.5 89.7,140.5 90.0,140.5 90.2,140.5 90.4,140.5 90.7,140.5 90.9,140.5 91.0,140.5 91.3,140.5 91.4,140.5 91.5,140.5 91.7,140.5 91.9,140.5 92.2,140.5 92.3,140.5 92.8,140.5 92.8,140.5 93.2,140.5 93.5,140.5 93.7,140.5 94.1,140.5 94.6,140.5 94.8,140.5 95.0,140.5 95.4,140.5 95.5,140.5 96.0,140.5 96.1,140.5 96.4,140.5 96.7,140.5 96.9,140.5 97.3,140.5 97.4,140.5 97.8,140.5 98.0,140.5 98.2,140.5 98.7,140.5 99.1,140.5 99.3,140.4 99.6,140.4 100.0,140.4 100.1,140.4 100.5,140.3 100.6,140.3 101.0,140.2 101.3,140.2 101.4,140.1 101.9,140.1 101.9,140.0 102.3,140.0 102.6,140.0 102.8,140.1 103.2,140.2 103.7,140.2 103.9,140.3 104.2,140.3 104.5,140.4 104.6,140.4 105.1,140.5 105.2,140.5 105.5,140.5 105.8,140.5 106.0,140.5 106.4,140.6 106.5,140.6 106.9,140.6 107.1,140.6 107.3,140.6 107.8,140.6 108.3,140.6 108.4,140.6 108.7,140.6 109.1,140.6 109.2,140.6 109.6,140.6 109.7,140.6 110.1,140.6 110.4,140.6 110.5,140.6 111.0,140.7 111.1,140.7 111.4,140.7 111.7,140.7 111.9,140.7 112.4,140.7 112.8,140.7 113.0,140.7 113.3,140.7 113.7,140.7 114.3,140.7 115.0,140.7 115.6,140.7 116.3,140.7 116.9,140.7 117.6,140.7 118.2,140.7 118.9,140.7 119.5,140.7 120.2,140.7 120.8,140.7 121.5,140.7 122.1,140.7 122.8,140.7 123.4,140.7 124.1,140.7 124.7,140.8 125.4,140.8 126.0,140.8 126.7,140.8 127.3,140.8 128.0,140.8 128.6,140.8 129.3,140.8 129.9,140.8 130.6,140.8 131.2,140.8 131.9,140.8 132.5,140.8 133.2,140.8 133.8,140.8 134.5,140.8 135.1,140.8 135.8,140.8 136.4,140.8 137.1,140.8 137.7,140.8 138.4,140.8 139.0,140.8 139.7,140.8 140.3,140.8 141.0,140.8 141.6,140.8 142.3,140.9 142.9,140.9 143.6,140.9 144.2,140.9 144.9,140.9 145.5,140.9 146.2,140.9 146.8,140.9 147.5,140.9 148.1,140.9 148.8,140.9 149.4,140.9 150.1,140.9 150.7,140.9 151.4,140.9 152.0,140.9 152.7,140.9 153.3,140.9 154.0,140.9 154.7,140.9 155.3,140.9 156.0,140.9 156.6,140.9 157.3,140.9 157.9,140.9 158.6,140.9 159.2,140.9 159.9,140.9 160.5,141.0 161.2,141.0 161.8,141.0 162.5,141.0 163.1,141.0 163.8,141.0 164.4,141.0 165.1,141.0 165.7,141.0 166.4,141.0 167.0,141.0 167.7,141.0 168.3,141.0 169.0,141.0 169.6,141.0 170.3,141.0 170.9,141.0 171.6,141.0 172.2,141.0 172.9,141.0 173.5,141.0 174.2,141.0 174.8,141.0 175.5,141.0 176.1,141.0 176.8,141.0 177.4,141.0 178.1,141.0 178.7,141.1 179.4,141.1 180.0,141.1 180.7,141.1 181.3,141.1 182.0,141.1 182.6,141.1 183.3,141.1 183.9,141.1 184.6,141.1 185.2,141.1 185.9,141.1 186.5,141.1 187.2,141.1 187.8,141.1 188.5,141.1 189.1,141.1 189.8,141.1 190.4,141.1 191.1,141.1 191.7,141.1 192.4,141.1 193.0,141.1 193.7,141.1 194.3,141.1 195.0,141.1 195.6,141.1 196.3,141.1 197.0,141.2 197.6,141.2 198.3,141.2 198.9,141.2 199.6,141.2 200.2,141.2 200.9,141.2 201.5,141.2 202.2,141.2 202.8,141.2 203.5,141.2 204.1,141.2 204.8,141.2 205.4,141.2"/>
<polyline fill="none" stroke="#12e2f4" stroke-width="2.0" stroke-linejoin="round" points="23.2,150.9 23.9,150.9 24.5,150.8 25.2,150.8 25.8,150.8 26.5,150.8 27.1,150.7 27.8,150.7 28.4,150.7 29.1,150.7 29.7,150.6 30.4,150.6 31.0,150.6 31.7,150.6 32.3,150.5 33.0,150.5 33.6,150.5 34.3,150.5 34.9,150.4 35.6,150.4 36.2,150.4 36.9,150.4 37.5,150.3 38.2,150.3 38.8,150.3 39.5,150.3 40.1,150.2 40.8,150.2 41.4,150.2 42.1,150.2 42.7,150.1 43.4,150.1 44.0,150.1 44.7,150.1 45.3,150.0 46.0,150.0 46.6,150.0 47.3,150.0 47.9,149.9 48.6,149.9 49.2,149.9 49.9,149.9 50.5,149.9 51.2,149.9 51.8,149.9 52.5,149.9 53.1,149.9 53.8,150.0 54.4,150.0 55.1,150.0 55.7,150.0 56.4,150.0 57.0,150.0 57.7,150.0 58.3,150.0 59.0,150.0 59.6,150.0 60.3,150.0 60.9,150.1 61.6,150.1 62.2,150.1 62.9,150.1 63.5,150.1 64.2,150.1 64.8,150.1 65.5,150.1 66.1,150.1 66.8,150.1 67.5,150.1 68.1,150.1 68.8,150.1 69.4,150.1 70.1,150.2 70.7,150.2 71.4,150.2 72.0,150.3 72.7,150.3 73.3,150.3 74.0,150.3 74.6,150.4 75.3,150.4 75.9,150.4 76.6,150.4 76.9,150.4 77.1,150.4 77.2,150.4 77.4,150.4 77.7,150.4 77.9,150.4 78.0,150.4 78.3,150.4 78.5,150.4 78.6,150.4 78.9,150.4 79.2,150.4 79.2,150.4 79.5,150.3 79.8,150.3 79.8,150.3 80.1,150.2 80.4,150.1 80.5,150.1 80.7,150.0 81.0,149.9 81.1,149.8 81.2,149.7 81.5,149.5 81.8,149.3 81.8,149.2 82.1,148.8 82.4,148.2 82.7,147.4 83.0,146.6 83.1,146.4 83.3,145.8 83.6,145.5 83.7,145.6 83.9,145.9 84.2,146.7 84.4,147.3 84.5,147.6 84.8,148.4 85.0,148.9 85.1,149.0 85.3,149.5 85.6,149.8 85.7,149.9 85.9,150.1 86.2,150.3 86.3,150.4 86.5,150.5 86.8,150.6 87.0,150.7 87.1,150.7 87.4,150.8 87.6,150.9 87.7,150.9 88.0,151.0 88.3,151.1 88.6,151.1 88.9,151.2 88.9,151.2 89.2,151.2 89.4,151.2 89.6,151.3 89.7,151.3 89.8,151.3 90.0,151.3 90.2,151.3 90.3,151.4 90.4,151.4 90.6,151.4 90.9,151.4 91.4,151.5 91.5,151.5 91.9,151.5 92.2,151.5 92.4,151.5 92.8,151.5 93.0,151.5 93.5,151.5 94.0,151.6 94.1,151.6 94.5,151.6 94.8,151.6 95.0,151.6 95.4,151.6 95.6,151.6 96.1,151.6 96.6,151.6 96.7,151.6 97.1,151.6 97.4,151.6 97.6,151.6 98.0,151.6 98.2,151.6 98.7,151.5 99.2,151.5 99.3,151.5 99.7,151.4 100.0,151.4 100.2,151.3 100.6,151.2 100.8,151.1 101.3,151.0 101.8,150.8 101.9,150.8 102.3,150.8 102.6,150.8 102.9,150.9 103.2,151.0 103.4,151.0 103.9,151.3 104.4,151.4 104.5,151.5 104.9,151.6 105.2,151.7 105.5,151.7 105.8,151.8 106.0,151.8 106.5,151.9 107.0,151.9 107.1,152.0 107.5,152.0 107.8,152.0 108.1,152.0 108.4,152.1 108.6,152.1 109.1,152.1 109.6,152.1 109.7,152.1 110.1,152.2 110.4,152.2 110.7,152.2 111.1,152.2 111.2,152.2 111.7,152.2 112.2,152.3 112.4,152.3 112.7,152.3 113.0,152.3 113.3,152.3 113.7,152.3 113.8,152.3 114.3,152.4 115.0,152.4 115.6,152.4 116.3,152.4 116.9,152.5 117.6,152.5 118.2,152.5 118.9,152.5 119.5,152.6 120.2,152.6 120.8,152.6 121.5,152.6 122.1,152.6 122.8,152.7 123.4,152.7 124.1,152.7 124.7,152.7 125.4,152.8 126.0,152.8 126.7,152.8 127.3,152.8 128.0,152.8 128.6,152.9 129.3,152.9 129.9,152.9 130.6,152.9 131.2,153.0 131.9,153.0 132.5,153.0 133.2,153.0 133.8,153.0 134.5,153.1 135.1,153.1 135.8,153.1 136.4,153.1 137.1,153.2 137.7,153.2 138.4,153.2 139.0,153.2 139.7,153.2 140.3,153.3 141.0,153.3 141.6,153.3 142.3,153.3 142.9,153.3 143.6,153.4 144.2,153.4 144.9,153.4 145.5,153.4 146.2,153.5 146.8,153.5 147.5,153.5 148.1,153.5 148.8,153.5 149.4,153.6 150.1,153.6 150.7,153.6 151.4,153.6 152.0,153.7 152.7,153.7 153.3,153.7 154.0,153.7 154.7,153.7 155.3,153.8 156.0,153.8 156.6,153.8 157.3,153.8 157.9,153.8 158.6,153.9 159.2,153.9 159.9,153.9 160.5,153.9 161.2,154.0 161.8,154.0 162.5,154.0 163.1,154.0 163.8,154.0 164.4,154.1 165.1,154.1 165.7,154.1 166.4,154.1 167.0,154.1 167.7,154.2 168.3,154.2 169.0,154.2 169.6,154.2 170.3,154.3 170.9,154.3 171.6,154.3 172.2,154.3 172.9,154.3 173.5,154.4 174.2,154.4 174.8,154.4 175.5,154.4 176.1,154.4 176.8,154.5 177.4,154.5 178.1,154.5 178.7,154.5 179.4,154.5 180.0,154.6 180.7,154.6 181.3,154.6 182.0,154.6 182.6,154.7 183.3,154.7 183.9,154.7 184.6,154.7 185.2,154.7 185.9,154.8 186.5,154.8 187.2,154.8 187.8,154.8 188.5,154.8 189.1,154.9 189.8,154.9 190.4,154.9 191.1,154.9 191.7,155.0 192.4,155.0 193.0,155.0 193.7,155.0 194.3,155.0 195.0,155.1 195.6,155.1 196.3,155.1 197.0,155.1 197.6,155.1 198.3,155.2 198.9,155.2 199.6,155.2 200.2,155.2 200.9,155.3 201.5,155.3 202.2,155.3 202.8,155.3 203.5,155.3 204.1,155.4 204.8,155.4 205.4,155.4"/>
<rect x="81.2" y="25.8" width="5.7" height="5.7" fill="#b4b4b4"/>
<polygon points="83.50,32.90 84.29,34.81 86.35,34.97 84.78,36.32 85.26,38.33 83.50,37.25 81.74,38.33 82.22,36.32 80.65,34.97 82.71,34.81" fill="#f6efa8"/>
<circle cx="88.0" cy="34.7" r="2.85" fill="#7a78da"/>
<circle cx="88.0" cy="42.0" r="2.85" fill="#0c1565"/>
<path d="M87.8 46.1L90.7 49.0L87.8 51.9L84.9 49.0Z" fill="#1a72d8"/>
<circle cx="79.0" cy="56.0" r="2.85" fill="#7a78da"/>
<rect x="92.4" y="53.8" width="5.7" height="5.7" fill="#b4b4b4"/>
<rect x="99.0" y="38.1" width="5.7" height="5.7" fill="#b4b4b4"/>
<polygon points="101.10,45.10 101.89,47.01 103.95,47.17 102.38,48.52 102.86,50.53 101.10,49.45 99.34,50.53 99.82,48.52 98.25,47.17 100.31,47.01" fill="#f6efa8"/>
<circle cx="108.0" cy="41.0" r="2.85" fill="#7a78da"/>
<circle cx="108.0" cy="47.8" r="2.85" fill="#0c1565"/>
<path d="M108.0 51.7L110.9 54.6L108.0 57.5L105.1 54.6Z" fill="#1a72d8"/>
<circle cx="140.3" cy="51.3" r="2.85" fill="#0c1565"/>
<path d="M140.3 55.6L143.2 58.5L140.3 61.4L137.4 58.5Z" fill="#1a72d8"/>
<rect x="159.6" y="47.4" width="5.7" height="5.7" fill="#b4b4b4"/>
<polygon points="162.40,54.70 163.19,56.61 165.25,56.77 163.68,58.12 164.16,60.13 162.40,59.05 160.64,60.13 161.12,58.12 159.55,56.77 161.61,56.61" fill="#f6efa8"/>
<circle cx="170.0" cy="46.2" r="2.85" fill="#7a78da"/>
<circle cx="170.0" cy="53.6" r="2.85" fill="#0c1565"/>
<path d="M170.0 57.4L172.9 60.3L170.0 63.2L167.1 60.3Z" fill="#1a72d8"/>
<circle cx="186.0" cy="52.0" r="2.85" fill="#0c1565"/>
<path d="M186.0 56.8L188.9 59.7L186.0 62.6L183.1 59.7Z" fill="#1a72d8"/>
<circle cx="107.8" cy="21.4" r="2.85" fill="#7a78da"/>
<text x="111.3" y="24.6" font-family="Liberation Serif" font-weight="bold" stroke="#111" stroke-width="0.3" font-size="9.5" fill="#111">-Co</text>
<polygon points="131.30,18.70 132.09,20.61 134.15,20.77 132.58,22.12 133.06,24.13 131.30,23.05 129.54,24.13 130.02,22.12 128.45,20.77 130.51,20.61" fill="#f6efa8"/>
<text x="134.6" y="24.6" font-family="Liberation Serif" font-weight="bold" stroke="#111" stroke-width="0.3" font-size="9.5" fill="#111">-Cu</text>
<rect x="153.0" y="18.5" width="5.7" height="5.7" fill="#b4b4b4"/>
<text x="159.8" y="24.6" font-family="Liberation Serif" font-weight="bold" stroke="#111" stroke-width="0.3" font-size="9.5" fill="#111">-Mn</text>
<path d="M185.2 18.5L188.1 21.4L185.2 24.3L182.3 21.4Z" fill="#1a72d8"/>
<text x="188.4" y="24.6" font-family="Liberation Serif" font-weight="bold" stroke="#111" stroke-width="0.3" font-size="9.5" fill="#111">-Cr</text>
<circle cx="107.8" cy="31.3" r="2.85" fill="#0c1565"/>
<text x="111.3" y="34.5" font-family="Liberation Serif" font-weight="bold" stroke="#111" stroke-width="0.3" font-size="9.5" fill="#111">-Fe</text>
<text x="129.2" y="34.5" font-family="Liberation Serif" font-weight="bold" stroke="#111" stroke-width="0.3" font-size="9.5" fill="#111">F-FCC</text>
<text x="161.0" y="34.5" font-family="Liberation Serif" font-weight="bold" stroke="#111" stroke-width="0.3" font-size="9.5" fill="#111">B-BCC</text>
<path d="M23.2 15.5H205.4V161.0H23.2Z" fill="none" stroke="#111" stroke-width="1.5"/>
<path d="M23.2 161.0V157.2M36.2 161.0V158.7M49.2 161.0V157.2M62.2 161.0V158.7M75.3 161.0V157.2M88.3 161.0V158.7M101.3 161.0V157.2M114.3 161.0V158.7M127.3 161.0V157.2M140.3 161.0V158.7M153.3 161.0V157.2M166.4 161.0V158.7M179.4 161.0V157.2M192.4 161.0V158.7M205.4 161.0V157.2" stroke="#1a1a1a" stroke-width="1.1"/>
<text x="23.6" y="170.3" font-family="Liberation Serif" font-weight="bold" stroke="#111" stroke-width="0.3" font-size="9.8" text-anchor="middle" fill="#111">20</text>
<text x="49.6" y="170.3" font-family="Liberation Serif" font-weight="bold" stroke="#111" stroke-width="0.3" font-size="9.8" text-anchor="middle" fill="#111">30</text>
<text x="75.7" y="170.3" font-family="Liberation Serif" font-weight="bold" stroke="#111" stroke-width="0.3" font-size="9.8" text-anchor="middle" fill="#111">40</text>
<text x="101.7" y="170.3" font-family="Liberation Serif" font-weight="bold" stroke="#111" stroke-width="0.3" font-size="9.8" text-anchor="middle" fill="#111">50</text>
<text x="127.7" y="170.3" font-family="Liberation Serif" font-weight="bold" stroke="#111" stroke-width="0.3" font-size="9.8" text-anchor="middle" fill="#111">60</text>
<text x="153.8" y="170.3" font-family="Liberation Serif" font-weight="bold" stroke="#111" stroke-width="0.3" font-size="9.8" text-anchor="middle" fill="#111">70</text>
<text x="179.8" y="170.3" font-family="Liberation Serif" font-weight="bold" stroke="#111" stroke-width="0.3" font-size="9.8" text-anchor="middle" fill="#111">80</text>
<text x="205.8" y="170.3" font-family="Liberation Serif" font-weight="bold" stroke="#111" stroke-width="0.3" font-size="9.8" text-anchor="middle" fill="#111">90</text>
<text x="76.5" y="184.0" font-family="Liberation Serif" font-weight="bold" stroke="#111" stroke-width="0.3" font-size="13" fill="#111">2</text>
<text x="88.0" y="184.1" font-family="Liberation Serif" font-weight="bold" stroke="#111" stroke-width="0.3" font-style="italic" font-size="14" fill="#111">&#952;</text>
<text x="97.4" y="184.0" font-family="Liberation Serif" font-weight="bold" stroke="#111" stroke-width="0.3" font-size="13.8" fill="#111">(degree)</text>
<text transform="translate(17.6 152.4) rotate(-90) scale(1 0.93)" font-family="Liberation Serif" font-weight="bold" stroke="#111" stroke-width="0.3" font-size="13.65" fill="#111">Intensity (arb.units)</text>
<text x="24.6" y="30.5" font-family="Liberation Serif" font-weight="bold" stroke="#111" stroke-width="0.3" font-size="16" fill="#111">(a)</text>
<text x="204.8" y="63.6" font-family="Liberation Serif" font-weight="bold" stroke="#111" stroke-width="0.3" font-size="8.6" text-anchor="end" fill="#111">0 h</text>
<text x="204.8" y="73.7" font-family="Liberation Serif" font-weight="bold" stroke="#111" stroke-width="0.3" font-size="8.6" text-anchor="end" fill="#111">5 h</text>
<text x="204.8" y="82.8" font-family="Liberation Serif" font-weight="bold" stroke="#111" stroke-width="0.3" font-size="8.6" text-anchor="end" fill="#111">10 h</text>
<text x="204.8" y="93.9" font-family="Liberation Serif" font-weight="bold" stroke="#111" stroke-width="0.3" font-size="8.6" text-anchor="end" fill="#111">15 h</text>
<text x="204.8" y="125.4" font-family="Liberation Serif" font-weight="bold" stroke="#111" stroke-width="0.3" font-size="8.6" text-anchor="end" fill="#111">30 h</text>
<text x="204.8" y="137.5" font-family="Liberation Serif" font-weight="bold" stroke="#111" stroke-width="0.3" font-size="8.6" text-anchor="end" fill="#111">45 h</text>
<text x="204.8" y="152.5" font-family="Liberation Serif" font-weight="bold" stroke="#111" stroke-width="0.3" font-size="8.6" text-anchor="end" fill="#111">50 h</text>
<text transform="translate(83.5 102.6) scale(0.85 1)" font-family="Liberation Serif" font-weight="bold" stroke="#111" stroke-width="0.3" font-size="9.6" text-anchor="middle" fill="#111">F</text>
<text transform="translate(85.5 123.1) rotate(-90) scale(1 0.84)" font-family="Liberation Serif" font-weight="bold" stroke="#111" stroke-width="0.3" font-size="8.8" fill="#111">(111)</text>
<text transform="translate(102.4 103.8) scale(0.85 1)" font-family="Liberation Serif" font-weight="bold" stroke="#111" stroke-width="0.3" font-size="9.6" text-anchor="middle" fill="#111">F</text>
<text transform="translate(104.3 124.0) rotate(-90) scale(1 0.84)" font-family="Liberation Serif" font-weight="bold" stroke="#111" stroke-width="0.3" font-size="8.8" fill="#111">(200)</text>
<text transform="translate(164.8 104.6) scale(0.85 1)" font-family="Liberation Serif" font-weight="bold" stroke="#111" stroke-width="0.3" font-size="9.6" text-anchor="middle" fill="#111">F</text>
<text transform="translate(166.6 124.5) rotate(-90) scale(1 0.84)" font-family="Liberation Serif" font-weight="bold" stroke="#111" stroke-width="0.3" font-size="8.8" fill="#111">(220)</text>
<rect x="322.4" y="16.0" width="110.7" height="20.9" fill="#fff" stroke="#a0a0a0" stroke-width="0.8"/>
<polyline fill="none" stroke="#5a5a5a" stroke-width="1.0" stroke-linejoin="round" points="250.9,71.4 251.6,71.4 252.2,71.4 252.9,71.4 253.5,71.4 254.2,71.4 254.8,71.4 255.5,71.5 256.1,71.5 256.8,71.5 257.4,71.5 258.1,71.5 258.7,71.5 259.4,71.5 260.0,71.5 260.7,71.5 261.3,71.5 262.0,71.5 262.6,71.5 263.3,71.6 263.9,71.6 264.6,71.6 265.2,71.6 265.9,71.6 266.5,71.6 267.2,71.6 267.8,71.6 268.5,71.6 269.1,71.6 269.8,71.6 270.4,71.6 271.1,71.6 271.7,71.7 272.4,71.7 273.0,71.7 273.7,71.7 274.3,71.7 275.0,71.7 275.6,71.7 276.3,71.7 276.9,71.7 277.6,71.7 278.2,71.7 278.9,71.7 279.5,71.8 280.2,71.8 280.8,71.8 281.5,71.8 282.1,71.8 282.8,71.8 283.4,71.8 284.1,71.8 284.7,71.8 285.4,71.8 286.0,71.8 286.7,71.8 287.3,71.8 288.0,71.9 288.6,71.9 289.3,71.9 289.9,71.9 290.6,71.9 291.2,71.9 291.9,71.9 292.5,71.9 293.2,71.9 293.8,71.9 294.5,71.9 295.2,71.9 295.8,71.9 296.5,72.0 297.1,72.0 297.8,72.0 298.4,72.0 299.1,72.0 299.7,72.0 300.4,72.0 301.0,72.0 301.7,72.0 302.3,72.0 303.0,72.0 303.6,72.0 304.3,72.1 304.9,72.1 305.6,72.1 306.2,72.1 306.9,72.1 307.5,72.1 308.2,72.1 308.8,72.1 309.4,72.1 309.5,72.1 309.5,72.1 309.5,72.1 309.6,72.1 309.7,72.1 309.8,72.1 309.9,72.1 310.0,72.1 310.1,72.1 310.1,72.1 310.2,72.1 310.3,72.1 310.4,72.1 310.5,72.1 310.5,72.0 310.6,71.8 310.7,71.3 310.8,71.0 310.8,70.4 310.9,68.8 311.0,66.2 311.1,62.6 311.2,58.1 311.3,53.1 311.4,48.4 311.4,46.3 311.5,45.2 311.5,44.0 311.6,45.2 311.7,48.4 311.8,53.1 311.9,58.1 312.0,62.6 312.1,65.3 312.1,66.2 312.2,68.8 312.3,70.4 312.4,71.2 312.4,71.3 312.4,71.8 312.5,71.8 312.5,72.0 312.6,72.0 312.6,72.1 312.6,72.1 312.7,72.2 312.7,72.2 312.8,72.2 312.8,72.2 312.9,72.2 312.9,72.2 313.0,72.2 313.0,72.2 313.1,72.2 313.1,72.2 313.2,72.2 313.2,72.2 313.3,72.2 313.3,72.2 313.4,72.2 313.4,72.2 313.5,72.2 313.5,72.2 313.5,72.1 313.6,72.1 313.6,72.0 313.6,72.0 313.7,71.7 313.8,71.2 313.9,70.3 314.0,68.8 314.0,68.2 314.1,66.7 314.2,64.1 314.3,61.2 314.4,58.5 314.5,56.6 314.5,55.9 314.6,56.6 314.7,57.3 314.7,58.5 314.8,61.2 314.9,64.1 315.0,66.7 315.1,68.8 315.2,70.3 315.3,71.2 315.3,71.6 315.4,71.7 315.5,72.0 315.5,72.1 315.6,72.2 315.7,72.2 315.8,72.2 315.9,72.2 316.0,72.2 316.0,72.2 316.1,72.2 316.2,72.2 316.3,72.2 316.4,72.2 316.5,72.2 316.5,72.2 316.6,72.2 316.6,72.3 317.3,72.3 317.9,72.3 318.6,72.3 319.2,72.3 319.9,72.3 320.5,72.3 321.2,72.3 321.8,72.3 322.5,72.4 323.1,72.4 323.8,72.4 324.4,72.4 325.1,72.4 325.7,72.4 326.4,72.4 327.0,72.4 327.7,72.4 327.8,72.4 327.9,72.5 328.0,72.5 328.1,72.5 328.2,72.5 328.3,72.5 328.3,72.5 328.4,72.5 328.5,72.5 328.6,72.5 328.7,72.5 328.8,72.5 328.8,72.5 328.9,72.5 329.0,72.4 329.0,72.4 329.1,72.4 329.2,72.2 329.3,71.9 329.4,71.5 329.5,70.7 329.6,69.6 329.6,68.6 329.7,68.2 329.8,66.7 329.8,65.3 329.9,64.3 330.0,64.0 330.1,64.3 330.2,65.3 330.3,66.5 330.3,66.7 330.4,68.2 330.5,69.6 330.6,70.7 330.7,71.5 330.8,72.0 330.9,72.2 330.9,72.4 331.0,72.5 331.1,72.5 331.2,72.5 331.3,72.5 331.4,72.5 331.4,72.5 331.4,72.5 331.5,72.5 331.5,72.5 331.6,72.5 331.6,72.5 331.6,72.5 331.7,72.5 331.7,72.5 331.8,72.5 331.8,72.5 331.9,72.5 331.9,72.5 331.9,72.5 332.0,72.5 332.0,72.5 332.1,72.5 332.1,72.5 332.2,72.5 332.2,72.5 332.3,72.5 332.4,72.5 332.5,72.5 332.5,72.5 332.6,72.5 332.7,72.4 332.8,72.2 332.9,72.0 332.9,71.9 333.0,71.4 333.1,70.7 333.2,69.9 333.3,69.0 333.4,68.1 333.5,67.5 333.5,67.2 333.6,67.5 333.7,68.1 333.8,69.0 333.9,69.9 334.0,70.8 334.1,71.4 334.2,71.9 334.2,72.0 334.3,72.2 334.4,72.4 334.5,72.5 334.5,72.5 334.6,72.6 334.7,72.6 334.8,72.6 334.8,72.6 334.9,72.6 335.0,72.6 335.1,72.6 335.2,72.6 335.3,72.6 335.4,72.6 335.5,72.6 335.5,72.6 335.5,72.6 335.6,72.6 336.1,72.6 336.8,72.6 337.4,72.6 338.1,72.6 338.8,72.6 339.4,72.7 340.1,72.7 340.7,72.7 341.4,72.7 342.0,72.7 342.7,72.7 343.3,72.7 344.0,72.7 344.6,72.8 345.3,72.8 345.9,72.8 346.6,72.8 347.2,72.8 347.9,72.8 348.5,72.8 349.2,72.8 349.8,72.9 350.5,72.9 351.1,72.9 351.8,72.9 352.4,72.9 353.1,72.9 353.7,72.9 354.4,73.0 355.0,73.0 355.7,73.0 356.3,73.0 357.0,73.0 357.6,73.0 358.3,73.0 358.9,73.0 359.6,73.1 360.2,73.1 360.9,73.1 361.5,73.1 362.2,73.1 362.8,73.1 363.5,73.1 364.1,73.2 364.8,73.2 365.4,73.2 366.1,73.2 366.7,73.2 367.4,73.2 368.0,73.2 368.7,73.2 369.3,73.3 370.0,73.3 370.6,73.3 371.3,73.3 371.9,73.3 372.6,73.3 373.2,73.3 373.9,73.4 374.5,73.4 375.2,73.4 375.8,73.4 376.5,73.4 377.1,73.4 377.8,73.4 378.4,73.4 379.1,73.5 379.7,73.5 380.4,73.5 381.1,73.5 381.7,73.5 382.4,73.5 383.0,73.6 383.7,73.6 384.3,73.6 385.0,73.6 385.6,73.6 386.3,73.7 386.9,73.7 387.6,73.7 388.2,73.7 388.2,73.7 388.4,73.7 388.5,73.7 388.6,73.7 388.7,73.8 388.9,73.8 388.9,73.8 389.0,73.8 389.1,73.8 389.2,73.8 389.3,73.8 389.5,73.8 389.5,73.8 389.6,73.8 389.7,73.8 389.8,73.8 390.0,73.8 390.1,73.7 390.2,73.7 390.2,73.7 390.3,73.6 390.5,73.5 390.6,73.3 390.7,73.1 390.8,72.8 390.8,72.8 391.0,72.6 391.1,72.4 391.2,72.3 391.3,72.4 391.4,72.6 391.5,72.6 391.6,72.8 391.7,73.1 391.8,73.3 391.9,73.5 392.1,73.7 392.1,73.7 392.2,73.8 392.3,73.8 392.4,73.9 392.6,73.9 392.7,73.9 392.8,73.9 392.8,73.9 392.9,73.9 393.1,73.9 393.2,73.9 393.3,73.9 393.4,73.9 393.4,73.9 393.6,73.9 393.7,73.9 393.8,73.9 393.9,73.9 394.0,73.9 394.1,73.9 394.2,73.9 394.2,73.9 394.3,73.9 394.5,73.9 394.6,73.9 394.7,73.9 394.8,74.0 395.0,74.0 395.1,74.0 395.2,74.0 395.3,74.0 395.4,74.0 395.5,74.0 395.6,74.0 395.7,74.0 395.8,74.0 396.0,74.0 396.0,74.0 396.1,73.9 396.2,73.9 396.3,73.8 396.4,73.7 396.6,73.5 396.7,73.3 396.7,73.3 396.8,73.0 396.9,72.8 397.1,72.6 397.2,72.5 397.3,72.6 397.3,72.6 397.4,72.8 397.6,73.0 397.7,73.3 397.8,73.5 397.9,73.7 398.0,73.8 398.1,73.9 398.2,74.0 398.3,74.0 398.4,74.0 398.5,74.1 398.6,74.1 398.7,74.1 398.8,74.1 398.9,74.1 399.0,74.1 399.2,74.1 399.3,74.1 399.3,74.1 399.4,74.1 399.5,74.1 399.7,74.1 399.8,74.1 399.9,74.1 399.9,74.1 400.0,74.1 400.2,74.1 400.6,74.1 401.2,74.2 401.9,74.2 402.5,74.2 403.2,74.2 403.8,74.2 404.5,74.3 405.1,74.3 405.8,74.3 406.4,74.3 407.1,74.3 407.7,74.4 408.4,74.4 409.0,74.4 409.7,74.4 410.3,74.5 411.0,74.5 411.6,74.5 412.3,74.5 412.9,74.5 413.6,74.6 414.2,74.6 414.9,74.6 415.5,74.6 416.2,74.6 416.8,74.7 417.5,74.7 418.1,74.7 418.8,74.7 419.4,74.8 420.1,74.8 420.7,74.8 421.4,74.8 422.0,74.8 422.7,74.9 423.3,74.9 424.0,74.9 424.7,74.9 425.3,74.9 426.0,75.0 426.6,75.0 427.3,75.0 427.9,75.0 428.6,75.1 429.2,75.1 429.9,75.1 430.5,75.1 431.2,75.1 431.8,75.2 432.5,75.2 433.1,75.2"/>
<polyline fill="none" stroke="#262626" stroke-width="1.15" points="250.9,71.4 251.6,71.4 252.2,71.4 252.9,71.4 253.5,71.4 254.2,71.4 254.8,71.4 255.5,71.5 256.1,71.5 256.8,71.5 257.4,71.5 258.1,71.5 258.7,71.5 259.4,71.5 260.0,71.5 260.7,71.5 261.3,71.5 262.0,71.5 262.6,71.5 263.3,71.6 263.9,71.6 264.6,71.6 265.2,71.6 265.9,71.6 266.5,71.6 267.2,71.6 267.8,71.6 268.5,71.6 269.1,71.6 269.8,71.6 270.4,71.6 271.1,71.6 271.7,71.7 272.4,71.7 273.0,71.7 273.7,71.7 274.3,71.7 275.0,71.7 275.6,71.7 276.3,71.7 276.9,71.7 277.6,71.7 278.2,71.7 278.9,71.7 279.5,71.8 280.2,71.8 280.8,71.8 281.5,71.8 282.1,71.8 282.8,71.8 283.4,71.8 284.1,71.8 284.7,71.8 285.4,71.8 286.0,71.8 286.7,71.8 287.3,71.8 288.0,71.9 288.6,71.9 289.3,71.9 289.9,71.9 290.6,71.9 291.2,71.9 291.9,71.9 292.5,71.9 293.2,71.9 293.8,71.9 294.5,71.9 295.2,71.9 295.8,71.9 296.5,72.0 297.1,72.0 297.8,72.0 298.4,72.0 299.1,72.0 299.7,72.0 300.4,72.0 301.0,72.0 301.7,72.0 302.3,72.0 303.0,72.0 303.6,72.0 304.3,72.1 304.9,72.1 305.6,72.1 306.2,72.1 306.9,72.1 307.5,72.1 308.2,72.1 308.8,72.1 309.5,72.1 310.1,72.1 310.8,72.1 311.4,72.2 312.1,72.2 312.7,72.2 313.4,72.2 314.0,72.2 314.7,72.2 315.3,72.2 316.0,72.2 316.6,72.2 317.3,72.3 317.9,72.3 318.6,72.3 319.2,72.3 319.9,72.3 320.5,72.3 321.2,72.3 321.8,72.3 322.5,72.4 323.1,72.4 323.8,72.4 324.4,72.4 325.1,72.4 325.7,72.4 326.4,72.4 327.0,72.4 327.7,72.4 328.3,72.5 329.0,72.5 329.6,72.5 330.3,72.5 330.9,72.5 331.6,72.5 332.2,72.5 332.9,72.5 333.5,72.5 334.2,72.6 334.8,72.6 335.5,72.6 336.1,72.6 336.8,72.6 337.4,72.6 338.1,72.6 338.8,72.6 339.4,72.7 340.1,72.7 340.7,72.7 341.4,72.7 342.0,72.7 342.7,72.7 343.3,72.7 344.0,72.7 344.6,72.8 345.3,72.8 345.9,72.8 346.6,72.8 347.2,72.8 347.9,72.8 348.5,72.8 349.2,72.8 349.8,72.9 350.5,72.9 351.1,72.9 351.8,72.9 352.4,72.9 353.1,72.9 353.7,72.9 354.4,73.0 355.0,73.0 355.7,73.0 356.3,73.0 357.0,73.0 357.6,73.0 358.3,73.0 358.9,73.0 359.6,73.1 360.2,73.1 360.9,73.1 361.5,73.1 362.2,73.1 362.8,73.1 363.5,73.1 364.1,73.2 364.8,73.2 365.4,73.2 366.1,73.2 366.7,73.2 367.4,73.2 368.0,73.2 368.7,73.2 369.3,73.3 370.0,73.3 370.6,73.3 371.3,73.3 371.9,73.3 372.6,73.3 373.2,73.3 373.9,73.4 374.5,73.4 375.2,73.4 375.8,73.4 376.5,73.4 377.1,73.4 377.8,73.4 378.4,73.4 379.1,73.5 379.7,73.5 380.4,73.5 381.1,73.5 381.7,73.5 382.4,73.5 383.0,73.6 383.7,73.6 384.3,73.6 385.0,73.6 385.6,73.6 386.3,73.7 386.9,73.7 387.6,73.7 388.2,73.7 388.9,73.8 389.5,73.8 390.2,73.8 390.8,73.8 391.5,73.8 392.1,73.9 392.8,73.9 393.4,73.9 394.1,73.9 394.7,73.9 395.4,74.0 396.0,74.0 396.7,74.0 397.3,74.0 398.0,74.1 398.6,74.1 399.3,74.1 399.9,74.1 400.6,74.1 401.2,74.2 401.9,74.2 402.5,74.2 403.2,74.2 403.8,74.2 404.5,74.3 405.1,74.3 405.8,74.3 406.4,74.3 407.1,74.3 407.7,74.4 408.4,74.4 409.0,74.4 409.7,74.4 410.3,74.5 411.0,74.5 411.6,74.5 412.3,74.5 412.9,74.5 413.6,74.6 414.2,74.6 414.9,74.6 415.5,74.6 416.2,74.6 416.8,74.7 417.5,74.7 418.1,74.7 418.8,74.7 419.4,74.8 420.1,74.8 420.7,74.8 421.4,74.8 422.0,74.8 422.7,74.9 423.3,74.9 424.0,74.9 424.7,74.9 425.3,74.9 426.0,75.0 426.6,75.0 427.3,75.0 427.9,75.0 428.6,75.1 429.2,75.1 429.9,75.1 430.5,75.1 431.2,75.1 431.8,75.2 432.5,75.2 433.1,75.2"/>
<polyline fill="none" stroke="#f4403c" stroke-width="1.4" stroke-linejoin="round" points="250.9,85.1 251.6,85.1 252.2,85.1 252.9,85.1 253.5,85.1 254.2,85.1 254.8,85.1 255.5,85.1 256.1,85.1 256.8,85.1 257.4,85.1 258.1,85.1 258.7,85.2 259.4,85.2 260.0,85.2 260.7,85.2 261.3,85.2 262.0,85.2 262.6,85.2 263.3,85.2 263.9,85.2 264.6,85.2 265.2,85.2 265.9,85.2 266.5,85.2 267.2,85.2 267.8,85.2 268.5,85.2 269.1,85.2 269.8,85.2 270.4,85.2 271.1,85.2 271.7,85.2 272.4,85.3 273.0,85.3 273.7,85.3 274.3,85.3 275.0,85.3 275.6,85.3 276.3,85.3 276.9,85.3 277.6,85.3 278.2,85.3 278.9,85.3 279.5,85.3 280.2,85.3 280.8,85.3 281.5,85.3 282.1,85.3 282.8,85.3 283.4,85.3 284.1,85.3 284.7,85.3 285.4,85.3 286.0,85.3 286.7,85.3 287.3,85.4 288.0,85.4 288.6,85.4 289.3,85.4 289.9,85.4 290.6,85.4 291.2,85.4 291.9,85.4 292.5,85.4 293.2,85.4 293.8,85.4 294.5,85.4 295.2,85.4 295.8,85.4 296.5,85.4 297.1,85.4 297.8,85.4 298.4,85.4 299.1,85.4 299.7,85.4 300.4,85.4 301.0,85.4 301.7,85.4 302.3,85.4 303.0,85.4 303.6,85.4 304.3,85.4 304.5,85.4 304.8,85.4 304.9,85.4 305.1,85.4 305.4,85.4 305.6,85.4 305.7,85.4 306.0,85.4 306.2,85.4 306.3,85.4 306.6,85.4 306.9,85.4 307.2,85.4 307.5,85.4 307.5,85.4 307.6,85.4 307.7,85.3 307.9,85.3 308.0,85.3 308.2,85.3 308.2,85.3 308.3,85.3 308.5,85.3 308.6,85.3 308.8,85.2 308.9,85.2 309.1,85.2 309.2,85.2 309.4,85.1 309.5,85.1 309.5,85.1 309.7,85.0 309.8,85.0 310.0,84.9 310.1,84.9 310.1,84.9 310.3,84.8 310.4,84.7 310.6,84.6 310.7,84.5 310.8,84.4 310.9,84.4 311.0,84.3 311.2,84.1 311.3,84.1 311.4,84.0 311.5,84.0 311.5,84.0 311.7,84.0 311.8,84.0 312.0,84.1 312.1,84.1 312.1,84.2 312.3,84.3 312.4,84.3 312.6,84.4 312.7,84.5 312.9,84.5 313.0,84.5 313.2,84.5 313.3,84.5 313.4,84.5 313.5,84.5 313.6,84.4 313.8,84.4 313.9,84.3 314.0,84.2 314.1,84.2 314.2,84.1 314.4,84.0 314.5,84.0 314.7,84.0 314.8,84.0 315.0,84.1 315.1,84.2 315.3,84.3 315.3,84.4 315.4,84.4 315.6,84.6 315.6,84.6 315.8,84.8 315.9,84.8 316.0,84.8 316.1,84.9 316.2,85.0 316.4,85.1 316.5,85.1 316.6,85.1 316.7,85.2 316.8,85.2 317.0,85.2 317.1,85.3 317.3,85.3 317.3,85.3 317.4,85.3 317.6,85.3 317.7,85.3 317.9,85.4 317.9,85.4 318.0,85.4 318.2,85.4 318.3,85.4 318.5,85.4 318.6,85.4 318.8,85.4 319.1,85.5 319.2,85.5 319.4,85.5 319.7,85.5 319.9,85.5 319.9,85.5 320.2,85.5 320.5,85.5 320.8,85.5 321.1,85.5 321.2,85.5 321.4,85.5 321.7,85.5 321.8,85.6 322.5,85.6 323.1,85.6 323.8,85.6 324.4,85.6 325.1,85.6 325.7,85.6 326.4,85.6 327.0,85.6 327.7,85.6 328.3,85.6 329.0,85.6 329.6,85.6 330.3,85.7 330.9,85.7 331.6,85.7 332.2,85.7 332.9,85.7 333.5,85.7 334.2,85.7 334.8,85.7 335.5,85.7 336.1,85.7 336.8,85.7 337.4,85.7 338.1,85.7 338.8,85.7 339.4,85.7 340.1,85.7 340.7,85.7 341.4,85.7 342.0,85.7 342.7,85.8 343.3,85.8 344.0,85.8 344.6,85.8 345.3,85.8 345.9,85.8 346.6,85.8 347.2,85.8 347.9,85.8 348.5,85.8 349.2,85.8 349.8,85.8 350.5,85.8 351.1,85.8 351.8,85.8 352.4,85.8 353.1,85.8 353.7,85.8 354.4,85.8 355.0,85.8 355.7,85.8 356.3,85.9 357.0,85.9 357.6,85.9 358.3,85.9 358.9,85.9 359.6,85.9 360.2,85.9 360.9,85.9 361.5,85.9 362.2,85.9 362.8,85.9 363.5,85.9 364.1,85.9 364.8,85.9 365.4,85.9 366.1,85.9 366.7,85.9 367.4,85.9 368.0,85.9 368.7,85.9 369.3,85.9 370.0,85.9 370.6,86.0 371.3,86.0 371.9,86.0 372.6,86.0 373.2,86.0 373.9,86.0 374.5,86.0 375.2,86.0 375.8,86.0 376.5,86.0 377.1,86.0 377.8,86.0 378.4,86.0 379.1,86.0 379.7,86.0 380.4,86.0 381.1,86.0 381.7,86.0 382.4,86.0 383.0,86.0 383.7,86.0 384.3,86.1 385.0,86.1 385.6,86.1 386.3,86.1 386.9,86.1 387.6,86.1 388.2,86.1 388.9,86.1 389.5,86.1 390.2,86.1 390.8,86.1 391.5,86.1 392.1,86.1 392.8,86.1 393.4,86.1 394.1,86.1 394.7,86.1 395.4,86.1 396.0,86.1 396.7,86.1 397.3,86.1 398.0,86.1 398.6,86.2 399.3,86.2 399.9,86.2 400.6,86.2 401.2,86.2 401.9,86.2 402.5,86.2 403.2,86.2 403.8,86.2 404.5,86.2 405.1,86.2 405.8,86.2 406.4,86.2 407.1,86.2 407.7,86.2 408.4,86.2 409.0,86.2 409.7,86.2 410.3,86.2 411.0,86.2 411.6,86.2 412.3,86.3 412.9,86.3 413.6,86.3 414.2,86.3 414.9,86.3 415.5,86.3 416.2,86.3 416.8,86.3 417.5,86.3 418.1,86.3 418.8,86.3 419.4,86.3 420.1,86.3 420.7,86.3 421.4,86.3 422.0,86.3 422.7,86.3 423.3,86.3 424.0,86.3 424.7,86.3 425.3,86.3 426.0,86.3 426.6,86.4 427.3,86.4 427.9,86.4 428.6,86.4 429.2,86.4 429.9,86.4 430.5,86.4 431.2,86.4 431.8,86.4 432.5,86.4 433.1,86.4"/>
<polyline fill="none" stroke="#2f7fe4" stroke-width="1.6" stroke-linejoin="round" points="250.9,94.3 251.6,94.3 252.2,94.3 252.9,94.3 253.5,94.3 254.2,94.3 254.8,94.3 255.5,94.3 256.1,94.3 256.8,94.4 257.4,94.4 258.1,94.4 258.7,94.4 259.4,94.4 260.0,94.4 260.7,94.4 261.3,94.4 262.0,94.4 262.6,94.4 263.3,94.4 263.9,94.4 264.6,94.4 265.2,94.4 265.9,94.4 266.5,94.4 267.2,94.5 267.8,94.5 268.5,94.5 269.1,94.5 269.8,94.5 270.4,94.5 271.1,94.5 271.7,94.5 272.4,94.5 273.0,94.5 273.7,94.5 274.3,94.5 275.0,94.5 275.6,94.5 276.3,94.5 276.9,94.5 277.6,94.5 278.2,94.6 278.9,94.6 279.5,94.6 280.2,94.6 280.8,94.6 281.5,94.6 282.1,94.6 282.8,94.6 283.4,94.6 284.1,94.6 284.7,94.6 285.4,94.6 286.0,94.6 286.7,94.6 287.3,94.6 288.0,94.6 288.6,94.6 289.3,94.7 289.9,94.7 290.6,94.7 291.2,94.7 291.9,94.7 292.5,94.7 293.2,94.7 293.8,94.7 294.5,94.7 295.2,94.7 295.8,94.7 296.5,94.7 297.1,94.7 297.8,94.7 298.4,94.7 299.1,94.7 299.7,94.7 300.4,94.7 301.0,94.7 301.7,94.7 302.3,94.8 303.0,94.8 303.6,94.8 304.3,94.8 304.9,94.7 305.3,94.7 305.6,94.7 305.8,94.7 306.1,94.7 306.2,94.7 306.3,94.7 306.6,94.7 306.9,94.7 307.1,94.7 307.4,94.7 307.5,94.7 307.6,94.7 307.9,94.7 308.2,94.6 308.4,94.6 308.7,94.6 308.8,94.6 308.9,94.5 309.2,94.5 309.5,94.4 309.7,94.3 310.0,94.2 310.1,94.1 310.2,94.0 310.5,93.8 310.8,93.4 311.0,93.1 311.3,92.8 311.4,92.7 311.5,92.7 311.8,92.8 312.1,93.1 312.3,93.5 312.6,93.8 312.7,93.9 312.9,94.0 313.1,94.2 313.4,94.3 313.6,94.4 313.9,94.5 314.0,94.6 314.2,94.6 314.4,94.6 314.7,94.7 314.9,94.7 315.2,94.7 315.3,94.7 315.5,94.7 315.7,94.8 316.0,94.8 316.2,94.8 316.5,94.8 316.6,94.8 316.8,94.8 317.0,94.8 317.3,94.8 317.5,94.8 317.9,94.9 318.6,94.9 319.2,94.9 319.9,94.9 320.5,94.9 320.7,94.9 321.1,94.9 321.2,94.9 321.4,94.9 321.8,94.9 322.2,94.9 322.5,94.9 322.6,94.9 323.0,94.9 323.1,94.9 323.4,94.9 323.8,94.9 324.2,94.9 324.4,94.9 324.6,94.9 325.0,94.9 325.1,94.9 325.3,94.9 325.7,94.9 326.1,94.9 326.4,94.9 326.5,94.9 326.9,94.9 327.0,94.9 327.3,94.9 327.7,94.8 328.1,94.8 328.3,94.7 328.5,94.7 328.9,94.6 329.0,94.6 329.3,94.5 329.6,94.5 330.0,94.4 330.3,94.5 330.4,94.5 330.8,94.6 330.9,94.6 331.2,94.7 331.6,94.7 332.0,94.8 332.2,94.9 332.4,94.9 332.8,94.9 332.9,94.9 333.2,94.9 333.5,95.0 333.9,95.0 334.2,95.0 334.3,95.0 334.7,95.0 334.8,95.0 335.1,95.0 335.5,95.0 335.9,95.0 336.1,95.1 336.3,95.1 336.7,95.1 336.8,95.1 337.1,95.1 337.4,95.1 337.8,95.1 338.1,95.1 338.2,95.1 338.6,95.1 338.8,95.1 339.0,95.1 339.4,95.1 340.1,95.1 340.7,95.1 341.4,95.1 342.0,95.1 342.7,95.1 343.3,95.2 344.0,95.2 344.6,95.2 345.3,95.2 345.9,95.2 346.6,95.2 347.2,95.2 347.9,95.2 348.5,95.2 349.2,95.2 349.8,95.2 350.5,95.2 351.1,95.2 351.8,95.2 352.4,95.2 353.1,95.2 353.7,95.3 354.4,95.3 355.0,95.3 355.7,95.3 356.3,95.3 357.0,95.3 357.6,95.3 358.3,95.3 358.9,95.3 359.6,95.3 360.2,95.3 360.9,95.3 361.5,95.3 362.2,95.3 362.8,95.3 363.5,95.3 364.1,95.4 364.8,95.4 365.4,95.4 366.1,95.4 366.7,95.4 367.4,95.4 368.0,95.4 368.7,95.4 369.3,95.4 370.0,95.4 370.6,95.4 371.3,95.4 371.9,95.4 372.6,95.4 373.2,95.4 373.9,95.4 374.5,95.5 375.2,95.5 375.8,95.5 376.5,95.5 377.1,95.5 377.8,95.5 378.4,95.5 379.1,95.5 379.7,95.5 380.4,95.5 381.1,95.5 381.7,95.5 382.4,95.5 383.0,95.5 383.7,95.5 384.3,95.5 385.0,95.5 385.6,95.6 386.3,95.6 386.9,95.6 387.6,95.6 388.2,95.6 388.9,95.6 389.5,95.6 390.2,95.6 390.8,95.6 391.5,95.6 392.1,95.6 392.8,95.6 393.4,95.6 394.1,95.6 394.7,95.6 395.4,95.6 396.0,95.7 396.7,95.7 397.3,95.7 398.0,95.7 398.6,95.7 399.3,95.7 399.9,95.7 400.6,95.7 401.2,95.7 401.9,95.7 402.5,95.7 403.2,95.7 403.8,95.7 404.5,95.7 405.1,95.7 405.8,95.7 406.4,95.8 407.1,95.8 407.7,95.8 408.4,95.8 409.0,95.8 409.7,95.8 410.3,95.8 411.0,95.8 411.6,95.8 412.3,95.8 412.9,95.8 413.6,95.8 414.2,95.8 414.9,95.8 415.5,95.8 416.2,95.8 416.8,95.8 417.5,95.9 418.1,95.9 418.8,95.9 419.4,95.9 420.1,95.9 420.7,95.9 421.4,95.9 422.0,95.9 422.7,95.9 423.3,95.9 424.0,95.9 424.7,95.9 425.3,95.9 426.0,95.9 426.6,95.9 427.3,95.9 427.9,96.0 428.6,96.0 429.2,96.0 429.9,96.0 430.5,96.0 431.2,96.0 431.8,96.0 432.5,96.0 433.1,96.0"/>
<polyline fill="none" stroke="#1aa362" stroke-width="1.4" stroke-linejoin="round" points="250.9,104.3 251.6,104.3 252.2,104.3 252.9,104.3 253.5,104.3 254.2,104.3 254.8,104.3 255.5,104.3 256.1,104.3 256.8,104.3 257.4,104.3 258.1,104.3 258.7,104.3 259.4,104.3 260.0,104.3 260.7,104.3 261.3,104.3 262.0,104.3 262.6,104.4 263.3,104.4 263.9,104.4 264.6,104.4 265.2,104.4 265.9,104.4 266.5,104.4 267.2,104.4 267.8,104.4 268.5,104.4 269.1,104.4 269.8,104.4 270.4,104.4 271.1,104.4 271.7,104.4 272.4,104.4 273.0,104.4 273.7,104.4 274.3,104.4 275.0,104.4 275.6,104.4 276.3,104.4 276.9,104.4 277.6,104.4 278.2,104.4 278.9,104.4 279.5,104.4 280.2,104.4 280.8,104.4 281.5,104.4 282.1,104.4 282.8,104.4 283.4,104.4 284.1,104.4 284.7,104.4 285.4,104.4 286.0,104.4 286.7,104.5 287.3,104.5 288.0,104.5 288.6,104.5 289.3,104.5 289.9,104.5 290.6,104.5 291.2,104.5 291.9,104.5 292.5,104.5 293.2,104.5 293.8,104.5 294.5,104.5 295.2,104.5 295.8,104.5 296.5,104.5 297.1,104.5 297.8,104.5 298.4,104.5 299.1,104.5 299.7,104.5 300.4,104.5 301.0,104.5 301.7,104.5 302.3,104.5 303.0,104.5 303.6,104.5 304.3,104.5 304.5,104.5 304.8,104.5 304.9,104.5 305.1,104.5 305.4,104.5 305.6,104.5 305.7,104.5 306.0,104.5 306.2,104.5 306.3,104.5 306.6,104.4 306.9,104.4 307.2,104.4 307.5,104.4 307.5,104.4 307.7,104.4 308.0,104.4 308.2,104.4 308.3,104.3 308.6,104.3 308.8,104.3 308.9,104.3 309.2,104.2 309.5,104.1 309.5,104.1 309.8,104.0 310.1,103.9 310.1,103.8 310.4,103.7 310.7,103.4 310.8,103.3 311.0,103.1 311.3,102.9 311.4,102.8 311.5,102.8 311.8,102.9 312.1,103.1 312.1,103.1 312.4,103.4 312.7,103.7 313.0,103.9 313.3,104.0 313.4,104.0 313.6,104.1 313.9,104.2 314.0,104.2 314.2,104.3 314.5,104.3 314.7,104.4 314.8,104.4 315.1,104.4 315.3,104.4 315.4,104.4 315.6,104.4 315.9,104.5 316.0,104.5 316.2,104.5 316.5,104.5 316.6,104.5 316.8,104.5 317.1,104.5 317.3,104.5 317.4,104.5 317.7,104.5 317.9,104.5 318.0,104.5 318.3,104.5 318.6,104.5 319.2,104.6 319.9,104.6 320.5,104.6 320.7,104.6 321.1,104.6 321.2,104.6 321.4,104.6 321.8,104.6 322.2,104.6 322.5,104.6 322.6,104.6 323.0,104.6 323.1,104.6 323.4,104.6 323.8,104.6 324.2,104.6 324.4,104.6 324.6,104.6 325.0,104.6 325.1,104.6 325.3,104.6 325.7,104.6 326.1,104.6 326.4,104.6 326.5,104.6 326.9,104.5 327.0,104.5 327.3,104.5 327.7,104.5 328.1,104.5 328.3,104.4 328.5,104.4 328.9,104.4 329.0,104.4 329.3,104.3 329.6,104.3 330.0,104.2 330.3,104.3 330.4,104.3 330.8,104.3 330.9,104.3 331.2,104.4 331.6,104.4 332.0,104.5 332.2,104.5 332.4,104.5 332.8,104.6 332.9,104.6 333.2,104.6 333.5,104.6 333.9,104.6 334.2,104.6 334.3,104.6 334.7,104.6 334.8,104.6 335.1,104.6 335.5,104.6 335.9,104.6 336.1,104.6 336.3,104.6 336.7,104.7 336.8,104.7 337.1,104.7 337.4,104.7 337.8,104.7 338.1,104.7 338.2,104.7 338.6,104.7 338.8,104.7 339.0,104.7 339.4,104.7 340.1,104.7 340.7,104.7 341.4,104.7 342.0,104.7 342.7,104.7 343.3,104.7 344.0,104.7 344.6,104.7 345.3,104.7 345.9,104.7 346.6,104.7 347.2,104.7 347.9,104.7 348.5,104.7 349.2,104.7 349.8,104.7 350.5,104.7 351.1,104.7 351.8,104.7 352.4,104.7 353.1,104.7 353.7,104.7 354.4,104.8 355.0,104.8 355.7,104.8 356.3,104.8 357.0,104.8 357.6,104.8 358.3,104.8 358.9,104.8 359.6,104.8 360.2,104.8 360.9,104.8 361.5,104.8 362.2,104.8 362.8,104.8 363.5,104.8 364.1,104.8 364.8,104.8 365.4,104.8 366.1,104.8 366.7,104.8 367.4,104.8 368.0,104.8 368.7,104.8 369.3,104.8 370.0,104.8 370.6,104.8 371.3,104.8 371.9,104.8 372.6,104.8 373.2,104.8 373.9,104.8 374.5,104.8 375.2,104.8 375.8,104.8 376.5,104.9 377.1,104.9 377.8,104.9 378.4,104.9 379.1,104.9 379.7,104.9 380.4,104.9 381.1,104.9 381.7,104.9 382.4,104.9 383.0,104.9 383.7,104.9 384.3,104.9 385.0,104.9 385.6,104.9 386.3,104.9 386.9,104.9 387.6,104.9 388.2,104.9 388.9,104.9 389.5,104.9 390.2,104.9 390.8,104.9 391.5,104.9 392.1,104.9 392.8,104.9 393.4,104.9 394.1,104.9 394.7,104.9 395.4,104.9 396.0,104.9 396.7,104.9 397.3,104.9 398.0,104.9 398.6,104.9 399.3,105.0 399.9,105.0 400.6,105.0 401.2,105.0 401.9,105.0 402.5,105.0 403.2,105.0 403.8,105.0 404.5,105.0 405.1,105.0 405.8,105.0 406.4,105.0 407.1,105.0 407.7,105.0 408.4,105.0 409.0,105.0 409.7,105.0 410.3,105.0 411.0,105.0 411.6,105.0 412.3,105.0 412.9,105.0 413.6,105.0 414.2,105.0 414.9,105.0 415.5,105.0 416.2,105.0 416.8,105.0 417.5,105.0 418.1,105.0 418.8,105.0 419.4,105.0 420.1,105.0 420.7,105.0 421.4,105.0 422.0,105.1 422.7,105.1 423.3,105.1 424.0,105.1 424.7,105.1 425.3,105.1 426.0,105.1 426.6,105.1 427.3,105.1 427.9,105.1 428.6,105.1 429.2,105.1 429.9,105.1 430.5,105.1 431.2,105.1 431.8,105.1 432.5,105.1 433.1,105.1"/>
<polyline fill="none" stroke="#c676e2" stroke-width="1.4" stroke-linejoin="round" points="250.9,136.4 251.6,136.4 252.2,136.4 252.9,136.4 253.5,136.4 254.2,136.4 254.8,136.4 255.5,136.4 256.1,136.4 256.8,136.4 257.4,136.4 258.1,136.4 258.7,136.4 259.4,136.4 260.0,136.4 260.7,136.4 261.3,136.4 262.0,136.4 262.6,136.4 263.3,136.4 263.9,136.4 264.6,136.4 265.2,136.4 265.9,136.4 266.5,136.4 267.2,136.4 267.8,136.4 268.5,136.4 269.1,136.4 269.8,136.4 270.4,136.4 271.1,136.4 271.7,136.4 272.4,136.4 273.0,136.4 273.7,136.4 274.3,136.4 275.0,136.4 275.6,136.4 276.3,136.4 276.9,136.4 277.6,136.4 278.2,136.4 278.9,136.4 279.5,136.4 280.2,136.4 280.8,136.4 281.5,136.4 282.1,136.4 282.8,136.4 283.4,136.4 284.1,136.4 284.7,136.4 285.4,136.4 286.0,136.4 286.7,136.4 287.3,136.4 288.0,136.4 288.6,136.4 289.3,136.4 289.9,136.4 290.6,136.4 291.2,136.4 291.9,136.4 292.5,136.4 293.2,136.4 293.8,136.4 294.5,136.4 295.2,136.4 295.8,136.4 296.5,136.4 297.1,136.4 297.8,136.4 298.4,136.4 299.1,136.4 299.7,136.4 300.4,136.4 301.0,136.4 301.7,136.4 302.3,136.4 303.0,136.4 303.6,136.4 304.3,136.4 304.5,136.4 304.8,136.4 304.9,136.4 305.1,136.4 305.4,136.4 305.6,136.3 305.7,136.3 306.0,136.3 306.2,136.3 306.3,136.3 306.6,136.3 306.9,136.3 307.2,136.3 307.5,136.2 307.5,136.2 307.7,136.2 308.0,136.2 308.2,136.1 308.3,136.1 308.6,136.1 308.8,136.0 308.9,136.0 309.2,135.9 309.5,135.8 309.5,135.7 309.8,135.6 310.1,135.3 310.1,135.3 310.4,135.0 310.7,134.6 310.8,134.5 311.0,134.1 311.3,133.7 311.4,133.6 311.5,133.6 311.8,133.7 312.1,134.0 312.1,134.1 312.4,134.6 312.7,135.0 313.0,135.3 313.3,135.6 313.4,135.6 313.6,135.7 313.9,135.9 314.0,135.9 314.2,136.0 314.5,136.1 314.7,136.1 314.8,136.1 315.1,136.2 315.3,136.2 315.4,136.2 315.6,136.2 315.9,136.3 316.0,136.3 316.2,136.3 316.5,136.3 316.6,136.3 316.8,136.3 317.1,136.3 317.3,136.3 317.4,136.3 317.7,136.4 317.9,136.4 318.0,136.4 318.3,136.4 318.6,136.4 319.2,136.4 319.9,136.4 320.5,136.4 320.7,136.4 321.1,136.4 321.2,136.4 321.4,136.4 321.8,136.4 322.2,136.4 322.5,136.4 322.6,136.4 323.0,136.4 323.1,136.4 323.4,136.4 323.8,136.4 324.2,136.4 324.4,136.4 324.6,136.4 325.0,136.4 325.1,136.4 325.3,136.4 325.7,136.4 326.1,136.4 326.4,136.3 326.5,136.3 326.9,136.3 327.0,136.3 327.3,136.3 327.7,136.2 328.1,136.2 328.3,136.1 328.5,136.1 328.9,136.0 329.0,135.9 329.3,135.8 329.6,135.7 330.0,135.7 330.3,135.7 330.4,135.7 330.8,135.8 330.9,135.9 331.2,136.0 331.6,136.1 332.0,136.2 332.2,136.2 332.4,136.2 332.8,136.3 332.9,136.3 333.2,136.3 333.5,136.4 333.9,136.4 334.2,136.4 334.3,136.4 334.7,136.4 334.8,136.4 335.1,136.4 335.5,136.4 335.9,136.4 336.1,136.4 336.3,136.4 336.7,136.4 336.8,136.4 337.1,136.5 337.4,136.5 337.8,136.5 338.1,136.5 338.2,136.5 338.6,136.5 338.8,136.5 339.0,136.5 339.4,136.5 340.1,136.5 340.7,136.5 341.4,136.5 342.0,136.5 342.7,136.5 343.3,136.5 344.0,136.5 344.6,136.5 345.3,136.5 345.9,136.5 346.6,136.5 347.2,136.5 347.9,136.5 348.5,136.5 349.2,136.5 349.8,136.5 350.5,136.5 351.1,136.5 351.8,136.5 352.4,136.5 353.1,136.5 353.7,136.5 354.4,136.5 355.0,136.5 355.7,136.5 356.3,136.5 357.0,136.5 357.6,136.5 358.3,136.5 358.9,136.5 359.6,136.5 360.2,136.5 360.9,136.5 361.5,136.5 362.2,136.5 362.8,136.5 363.5,136.5 364.1,136.5 364.8,136.5 365.4,136.5 366.1,136.5 366.7,136.5 367.4,136.5 368.0,136.5 368.7,136.5 369.3,136.5 370.0,136.5 370.6,136.5 371.3,136.5 371.9,136.5 372.6,136.5 373.2,136.5 373.9,136.5 374.5,136.5 375.2,136.5 375.8,136.5 376.5,136.5 377.1,136.5 377.8,136.5 378.4,136.5 379.1,136.5 379.7,136.5 380.4,136.5 381.1,136.5 381.7,136.5 382.4,136.5 383.0,136.5 383.7,136.5 384.3,136.5 385.0,136.5 385.6,136.5 386.3,136.5 386.9,136.5 387.6,136.5 388.2,136.5 388.9,136.6 389.5,136.6 390.2,136.6 390.8,136.6 391.5,136.6 392.1,136.6 392.8,136.6 393.4,136.6 394.1,136.6 394.7,136.6 395.4,136.6 396.0,136.6 396.7,136.6 397.3,136.6 398.0,136.6 398.6,136.6 399.3,136.6 399.9,136.6 400.6,136.6 401.2,136.6 401.9,136.6 402.5,136.6 403.2,136.6 403.8,136.6 404.5,136.6 405.1,136.6 405.8,136.6 406.4,136.6 407.1,136.6 407.7,136.6 408.4,136.6 409.0,136.6 409.7,136.6 410.3,136.6 411.0,136.6 411.6,136.6 412.3,136.6 412.9,136.6 413.6,136.6 414.2,136.6 414.9,136.6 415.5,136.6 416.2,136.6 416.8,136.6 417.5,136.6 418.1,136.6 418.8,136.6 419.4,136.6 420.1,136.6 420.7,136.6 421.4,136.6 422.0,136.6 422.7,136.6 423.3,136.6 424.0,136.6 424.7,136.6 425.3,136.6 426.0,136.6 426.6,136.6 427.3,136.6 427.9,136.6 428.6,136.6 429.2,136.6 429.9,136.6 430.5,136.6 431.2,136.6 431.8,136.6 432.5,136.6 433.1,136.6"/>
<polyline fill="none" stroke="#e1a32a" stroke-width="1.5" stroke-linejoin="round" points="250.9,144.8 251.6,144.8 252.2,144.8 252.9,144.8 253.5,144.8 254.2,144.8 254.8,144.8 255.5,144.8 256.1,144.8 256.8,144.8 257.4,144.8 258.1,144.8 258.7,144.8 259.4,144.8 260.0,144.8 260.7,144.9 261.3,144.9 262.0,144.9 262.6,144.9 263.3,144.9 263.9,144.9 264.6,144.9 265.2,144.9 265.9,144.9 266.5,144.9 267.2,144.9 267.8,144.9 268.5,144.9 269.1,144.9 269.8,144.9 270.4,144.9 271.1,144.9 271.7,144.9 272.4,144.9 273.0,144.9 273.7,144.9 274.3,144.9 275.0,144.9 275.6,144.9 276.3,144.9 276.9,144.9 277.6,144.9 278.2,144.9 278.9,144.9 279.5,145.0 280.2,145.0 280.8,145.0 281.5,145.0 282.1,145.0 282.8,145.0 283.4,145.0 284.1,145.0 284.7,145.0 285.4,145.0 286.0,145.0 286.7,145.0 287.3,145.0 288.0,145.0 288.6,145.0 289.3,145.0 289.9,145.0 290.6,145.0 291.2,145.0 291.9,145.0 292.5,145.0 293.2,145.0 293.8,145.0 294.5,145.0 295.2,145.0 295.8,145.0 296.5,145.0 297.1,145.0 297.8,145.0 298.4,145.0 299.1,145.0 299.7,145.0 300.4,145.0 301.0,145.0 301.7,145.0 302.3,145.0 303.0,145.0 303.6,145.0 304.3,145.0 304.5,145.0 304.8,145.0 304.9,145.0 305.1,145.0 305.4,145.0 305.6,145.0 305.7,145.0 306.0,145.0 306.2,145.0 306.3,145.0 306.6,144.9 306.9,144.9 307.2,144.9 307.5,144.9 307.5,144.9 307.7,144.9 308.0,144.8 308.2,144.8 308.3,144.8 308.6,144.7 308.8,144.7 308.9,144.6 309.2,144.5 309.5,144.4 309.5,144.4 309.8,144.2 310.1,144.0 310.1,144.0 310.4,143.7 310.7,143.3 310.8,143.1 311.0,142.8 311.3,142.4 311.4,142.3 311.5,142.2 311.8,142.4 312.1,142.7 312.1,142.8 312.4,143.3 312.7,143.7 313.0,144.0 313.3,144.2 313.4,144.3 313.6,144.4 313.9,144.6 314.0,144.6 314.2,144.7 314.5,144.7 314.7,144.8 314.8,144.8 315.1,144.9 315.3,144.9 315.4,144.9 315.6,144.9 315.9,145.0 316.0,145.0 316.2,145.0 316.5,145.0 316.6,145.0 316.8,145.0 317.1,145.0 317.3,145.0 317.4,145.0 317.7,145.1 317.9,145.1 318.0,145.1 318.3,145.1 318.6,145.1 319.2,145.1 319.9,145.1 320.5,145.1 320.7,145.1 321.1,145.1 321.2,145.1 321.4,145.1 321.8,145.1 322.2,145.1 322.5,145.1 322.6,145.1 323.0,145.1 323.1,145.1 323.4,145.1 323.8,145.1 324.2,145.1 324.4,145.1 324.6,145.1 325.0,145.1 325.1,145.1 325.3,145.1 325.7,145.1 326.1,145.1 326.4,145.1 326.5,145.1 326.9,145.0 327.0,145.0 327.3,145.0 327.7,145.0 328.1,144.9 328.3,144.8 328.5,144.8 328.9,144.7 329.0,144.7 329.3,144.6 329.6,144.5 330.0,144.4 330.3,144.4 330.4,144.5 330.8,144.6 330.9,144.6 331.2,144.7 331.6,144.8 332.0,144.9 332.2,145.0 332.4,145.0 332.8,145.0 332.9,145.1 333.2,145.1 333.5,145.1 333.9,145.1 334.2,145.2 334.3,145.2 334.7,145.2 334.8,145.2 335.1,145.2 335.5,145.2 335.9,145.2 336.1,145.2 336.3,145.2 336.7,145.2 336.8,145.2 337.1,145.2 337.4,145.2 337.8,145.2 338.1,145.2 338.2,145.2 338.6,145.3 338.8,145.3 339.0,145.3 339.4,145.3 340.1,145.3 340.7,145.3 341.4,145.3 342.0,145.3 342.7,145.3 343.3,145.3 344.0,145.3 344.6,145.3 345.3,145.3 345.9,145.3 346.6,145.3 347.2,145.3 347.9,145.3 348.5,145.3 349.2,145.3 349.8,145.3 350.5,145.3 351.1,145.3 351.8,145.3 352.4,145.4 353.1,145.4 353.7,145.4 354.4,145.4 355.0,145.4 355.7,145.4 356.3,145.4 357.0,145.4 357.6,145.4 358.3,145.4 358.9,145.4 359.6,145.4 360.2,145.4 360.9,145.4 361.5,145.4 362.2,145.4 362.8,145.4 363.5,145.4 364.1,145.4 364.8,145.4 365.4,145.4 366.1,145.4 366.7,145.4 367.4,145.4 368.0,145.4 368.7,145.4 369.3,145.4 370.0,145.5 370.6,145.5 371.3,145.5 371.9,145.5 372.6,145.5 373.2,145.5 373.9,145.5 374.5,145.5 375.2,145.5 375.8,145.5 376.5,145.5 377.1,145.5 377.8,145.5 378.4,145.5 379.1,145.5 379.7,145.5 380.4,145.5 381.1,145.5 381.7,145.5 382.4,145.5 383.0,145.5 383.7,145.5 384.3,145.5 385.0,145.5 385.6,145.5 386.3,145.5 386.9,145.5 387.6,145.5 388.2,145.6 388.9,145.6 389.5,145.6 390.2,145.6 390.8,145.6 391.5,145.6 392.1,145.6 392.8,145.6 393.4,145.6 394.1,145.6 394.7,145.6 395.4,145.6 396.0,145.6 396.7,145.6 397.3,145.6 398.0,145.6 398.6,145.6 399.3,145.6 399.9,145.6 400.6,145.6 401.2,145.6 401.9,145.6 402.5,145.6 403.2,145.6 403.8,145.6 404.5,145.6 405.1,145.6 405.8,145.6 406.4,145.7 407.1,145.7 407.7,145.7 408.4,145.7 409.0,145.7 409.7,145.7 410.3,145.7 411.0,145.7 411.6,145.7 412.3,145.7 412.9,145.7 413.6,145.7 414.2,145.7 414.9,145.7 415.5,145.7 416.2,145.7 416.8,145.7 417.5,145.7 418.1,145.7 418.8,145.7 419.4,145.7 420.1,145.7 420.7,145.7 421.4,145.7 422.0,145.7 422.7,145.7 423.3,145.7 424.0,145.7 424.7,145.8 425.3,145.8 426.0,145.8 426.6,145.8 427.3,145.8 427.9,145.8 428.6,145.8 429.2,145.8 429.9,145.8 430.5,145.8 431.2,145.8 431.8,145.8 432.5,145.8 433.1,145.8"/>
<polyline fill="none" stroke="#12e2f4" stroke-width="2.0" stroke-linejoin="round" points="250.9,152.2 251.6,152.2 252.2,152.2 252.9,152.2 253.5,152.2 254.2,152.2 254.8,152.2 255.5,152.2 256.1,152.2 256.8,152.2 257.4,152.2 258.1,152.2 258.7,152.2 259.4,152.2 260.0,152.2 260.7,152.2 261.3,152.2 262.0,152.2 262.6,152.1 263.3,152.1 263.9,152.1 264.6,152.1 265.2,152.1 265.9,152.1 266.5,152.1 267.2,152.1 267.8,152.1 268.5,152.1 269.1,152.1 269.8,152.1 270.4,152.1 271.1,152.1 271.7,152.1 272.4,152.1 273.0,152.1 273.7,152.1 274.3,152.1 275.0,152.1 275.6,152.1 276.3,152.1 276.9,152.1 277.6,152.1 278.2,152.1 278.9,152.1 279.5,152.1 280.2,152.1 280.8,152.1 281.5,152.1 282.1,152.1 282.8,152.1 283.4,152.1 284.1,152.1 284.7,152.1 285.4,152.1 286.0,152.0 286.7,152.0 287.3,152.0 288.0,152.0 288.6,152.0 289.3,152.0 289.9,152.0 290.6,152.0 291.2,152.0 291.9,152.0 292.5,152.0 293.2,152.0 293.8,152.0 294.5,152.0 295.2,152.0 295.8,152.0 296.5,152.0 297.1,152.0 297.8,152.0 298.4,152.0 299.1,151.9 299.7,151.9 300.4,151.9 301.0,151.9 301.7,151.9 302.3,151.9 303.0,151.9 303.6,151.9 304.3,151.9 304.5,151.9 304.8,151.9 304.9,151.9 305.1,151.9 305.4,151.9 305.6,151.9 305.7,151.9 306.0,151.9 306.2,151.9 306.3,151.9 306.6,151.8 306.9,151.8 307.2,151.8 307.5,151.7 307.5,151.7 307.7,151.7 308.0,151.6 308.2,151.6 308.3,151.5 308.6,151.4 308.8,151.3 308.9,151.2 309.2,151.0 309.5,150.7 309.5,150.7 309.8,150.3 310.1,149.7 310.1,149.7 310.4,149.0 310.7,148.1 310.8,147.7 311.0,147.0 311.3,146.0 311.4,145.7 311.5,145.7 311.8,146.1 312.1,146.9 312.1,147.1 312.4,148.3 312.7,149.3 313.0,150.1 313.3,150.8 313.4,150.9 313.6,151.2 313.9,151.6 314.0,151.7 314.2,151.9 314.5,152.1 314.7,152.2 314.8,152.3 315.1,152.4 315.3,152.6 315.4,152.6 315.6,152.7 315.9,152.8 316.0,152.8 316.2,152.9 316.5,153.0 316.6,153.0 316.8,153.0 317.1,153.1 317.3,153.2 317.4,153.2 317.5,153.2 317.7,153.2 317.9,153.3 318.0,153.3 318.1,153.3 318.3,153.4 318.6,153.4 319.1,153.5 319.2,153.5 319.6,153.6 319.9,153.6 320.1,153.7 320.5,153.7 320.7,153.8 321.2,153.8 321.7,153.9 321.8,153.9 322.2,153.9 322.5,153.9 322.7,153.9 323.1,153.9 323.3,153.9 323.8,153.9 324.3,153.9 324.4,153.9 324.8,153.9 325.1,153.9 325.3,153.9 325.7,153.9 325.9,153.9 326.4,153.8 326.9,153.8 327.0,153.8 327.4,153.7 327.7,153.7 327.9,153.6 328.3,153.5 328.5,153.5 329.0,153.3 329.5,153.1 329.6,153.1 330.0,153.1 330.3,153.1 330.6,153.2 330.9,153.3 331.1,153.4 331.6,153.6 332.1,153.8 332.2,153.8 332.6,153.9 332.9,154.0 333.2,154.0 333.5,154.1 333.7,154.1 334.2,154.2 334.7,154.3 334.8,154.3 335.2,154.3 335.5,154.3 335.8,154.4 336.1,154.4 336.3,154.4 336.8,154.4 337.3,154.5 337.4,154.5 337.8,154.5 338.1,154.5 338.4,154.5 338.8,154.5 338.9,154.6 339.4,154.6 339.9,154.6 340.1,154.6 340.4,154.6 340.7,154.6 341.0,154.6 341.4,154.7 341.5,154.7 342.0,154.7 342.7,154.7 343.3,154.7 344.0,154.8 344.6,154.8 345.3,154.8 345.9,154.8 346.6,154.9 347.2,154.9 347.9,154.9 348.5,154.9 349.2,155.0 349.8,155.0 350.5,155.0 351.1,155.0 351.8,155.1 352.4,155.1 353.1,155.1 353.7,155.1 354.4,155.2 355.0,155.2 355.7,155.2 356.3,155.2 357.0,155.3 357.6,155.3 358.3,155.3 358.9,155.3 359.6,155.3 360.2,155.4 360.9,155.4 361.5,155.4 362.2,155.4 362.8,155.5 363.5,155.5 364.1,155.5 364.8,155.5 365.4,155.6 366.1,155.6 366.7,155.6 367.4,155.6 368.0,155.6 368.7,155.7 369.3,155.7 370.0,155.7 370.6,155.7 371.3,155.8 371.9,155.8 372.6,155.8 373.2,155.8 373.9,155.8 374.5,155.9 375.2,155.9 375.8,155.9 376.5,155.9 377.1,156.0 377.8,156.0 378.4,156.0 379.1,156.0 379.7,156.1 380.4,156.1 381.1,156.1 381.7,156.1 382.4,156.1 383.0,156.2 383.7,156.2 384.3,156.2 385.0,156.2 385.6,156.3 386.3,156.3 386.9,156.3 387.6,156.3 388.2,156.3 388.9,156.4 389.5,156.4 390.2,156.4 390.8,156.4 391.5,156.5 392.1,156.5 392.8,156.5 393.4,156.5 394.1,156.5 394.7,156.6 395.4,156.6 396.0,156.6 396.7,156.6 397.3,156.7 398.0,156.7 398.6,156.7 399.3,156.7 399.9,156.8 400.6,156.8 401.2,156.8 401.9,156.8 402.5,156.8 403.2,156.9 403.8,156.9 404.5,156.9 405.1,156.9 405.8,157.0 406.4,157.0 407.1,157.0 407.7,157.0 408.4,157.0 409.0,157.1 409.7,157.1 410.3,157.1 411.0,157.1 411.6,157.2 412.3,157.2 412.9,157.2 413.6,157.2 414.2,157.2 414.9,157.3 415.5,157.3 416.2,157.3 416.8,157.3 417.5,157.4 418.1,157.4 418.8,157.4 419.4,157.4 420.1,157.4 420.7,157.5 421.4,157.5 422.0,157.5 422.7,157.5 423.3,157.6 424.0,157.6 424.7,157.6 425.3,157.6 426.0,157.7 426.6,157.7 427.3,157.7 427.9,157.7 428.6,157.7 429.2,157.8 429.9,157.8 430.5,157.8 431.2,157.8 431.8,157.9 432.5,157.9 433.1,157.9"/>
<rect x="307.3" y="31.1" width="5.7" height="5.7" fill="#b4b4b4"/>
<polygon points="310.20,38.30 310.99,40.21 313.05,40.37 311.48,41.72 311.96,43.73 310.20,42.65 308.44,43.73 308.92,41.72 307.35,40.37 309.41,40.21" fill="#f6efa8"/>
<circle cx="315.6" cy="34.5" r="2.85" fill="#7a78da"/>
<circle cx="315.6" cy="41.9" r="2.85" fill="#0c1565"/>
<path d="M315.6 45.5L318.5 48.4L315.6 51.3L312.7 48.4Z" fill="#1a72d8"/>
<path d="M315.6 51.5L318.3 56.4L312.9 56.4Z" fill="#fff" stroke="#e2e2e2" stroke-width="0.7"/>
<circle cx="307.3" cy="66.6" r="2.85" fill="#7a78da"/>
<rect x="319.8" y="64.4" width="5.7" height="5.7" fill="#b4b4b4"/>
<rect x="326.2" y="50.5" width="5.7" height="5.7" fill="#b4b4b4"/>
<polygon points="329.10,57.80 329.89,59.71 331.95,59.87 330.38,61.22 330.86,63.23 329.10,62.15 327.34,63.23 327.82,61.22 326.25,59.87 328.31,59.71" fill="#f6efa8"/>
<circle cx="335.8" cy="41.6" r="2.85" fill="#7a78da"/>
<circle cx="335.8" cy="48.4" r="2.85" fill="#0c1565"/>
<path d="M335.8 51.8L338.7 54.7L335.8 57.6L332.9 54.7Z" fill="#1a72d8"/>
<path d="M335.8 57.8L338.5 62.7L333.1 62.7Z" fill="#fff" stroke="#e2e2e2" stroke-width="0.7"/>
<circle cx="367.6" cy="61.8" r="2.85" fill="#0c1565"/>
<path d="M367.6 66.4L370.5 69.3L367.6 72.2L364.7 69.3Z" fill="#1a72d8"/>
<rect x="387.0" y="58.9" width="5.7" height="5.7" fill="#b4b4b4"/>
<polygon points="389.90,65.90 390.69,67.81 392.75,67.97 391.18,69.32 391.66,71.33 389.90,70.25 388.14,71.33 388.62,69.32 387.05,67.97 389.11,67.81" fill="#f6efa8"/>
<circle cx="398.9" cy="50.6" r="2.85" fill="#7a78da"/>
<circle cx="398.9" cy="57.8" r="2.85" fill="#0c1565"/>
<path d="M398.9 61.6L401.8 64.5L398.9 67.4L396.0 64.5Z" fill="#1a72d8"/>
<path d="M398.9 68.1L401.6 73.0L396.2 73.0Z" fill="#fff" stroke="#e2e2e2" stroke-width="0.7"/>
<circle cx="412.6" cy="62.5" r="2.85" fill="#0c1565"/>
<path d="M412.6 67.5L415.5 70.4L412.6 73.3L409.7 70.4Z" fill="#1a72d8"/>
<circle cx="326.1" cy="21.6" r="2.85" fill="#7a78da"/>
<text x="329.4" y="24.8" font-family="Liberation Serif" font-weight="bold" stroke="#111" stroke-width="0.3" font-size="9.5" fill="#111">-Co</text>
<polygon points="347.00,18.90 347.79,20.81 349.85,20.97 348.28,22.32 348.76,24.33 347.00,23.25 345.24,24.33 345.72,22.32 344.15,20.97 346.21,20.81" fill="#f6efa8"/>
<text x="350.2" y="24.8" font-family="Liberation Serif" font-weight="bold" stroke="#111" stroke-width="0.3" font-size="9.5" fill="#111">-Cu</text>
<rect x="366.8" y="18.8" width="5.7" height="5.7" fill="#b4b4b4"/>
<text x="372.8" y="24.8" font-family="Liberation Serif" font-weight="bold" stroke="#111" stroke-width="0.3" font-size="9.5" fill="#111">-Mn</text>
<path d="M394.3 18.9L397.0 23.8L391.6 23.8Z" fill="#fff" stroke="#e2e2e2" stroke-width="0.7"/>
<text x="396.8" y="24.8" font-family="Liberation Serif" font-weight="bold" stroke="#111" stroke-width="0.3" font-size="9.5" fill="#111">-Ni</text>
<path d="M414.8 18.7L417.7 21.6L414.8 24.5L411.9 21.6Z" fill="#1a72d8"/>
<text x="417.8" y="24.8" font-family="Liberation Serif" font-weight="bold" stroke="#111" stroke-width="0.3" font-size="9.5" fill="#111">-Cr</text>
<circle cx="326.1" cy="32.2" r="2.85" fill="#0c1565"/>
<text x="329.4" y="35.4" font-family="Liberation Serif" font-weight="bold" stroke="#111" stroke-width="0.3" font-size="9.5" fill="#111">-Fe</text>
<text x="346.3" y="35.4" font-family="Liberation Serif" font-weight="bold" stroke="#111" stroke-width="0.3" font-size="9.5" fill="#111">F-FCC</text>
<text x="380.2" y="35.4" font-family="Liberation Serif" font-weight="bold" stroke="#111" stroke-width="0.3" font-size="9.5" fill="#111">B-BCC</text>
<path d="M250.9 16.0H433.1V161.0H250.9Z" fill="none" stroke="#111" stroke-width="1.5"/>
<path d="M250.9 161.0V157.2M263.9 161.0V158.7M276.9 161.0V157.2M289.9 161.0V158.7M303.0 161.0V157.2M316.0 161.0V158.7M329.0 161.0V157.2M342.0 161.0V158.7M355.0 161.0V157.2M368.0 161.0V158.7M381.1 161.0V157.2M394.1 161.0V158.7M407.1 161.0V157.2M420.1 161.0V158.7M433.1 161.0V157.2" stroke="#1a1a1a" stroke-width="1.1"/>
<text x="251.3" y="170.3" font-family="Liberation Serif" font-weight="bold" stroke="#111" stroke-width="0.3" font-size="9.8" text-anchor="middle" fill="#111">20</text>
<text x="277.3" y="170.3" font-family="Liberation Serif" font-weight="bold" stroke="#111" stroke-width="0.3" font-size="9.8" text-anchor="middle" fill="#111">30</text>
<text x="303.4" y="170.3" font-family="Liberation Serif" font-weight="bold" stroke="#111" stroke-width="0.3" font-size="9.8" text-anchor="middle" fill="#111">40</text>
<text x="329.4" y="170.3" font-family="Liberation Serif" font-weight="bold" stroke="#111" stroke-width="0.3" font-size="9.8" text-anchor="middle" fill="#111">50</text>
<text x="355.4" y="170.3" font-family="Liberation Serif" font-weight="bold" stroke="#111" stroke-width="0.3" font-size="9.8" text-anchor="middle" fill="#111">60</text>
<text x="381.4" y="170.3" font-family="Liberation Serif" font-weight="bold" stroke="#111" stroke-width="0.3" font-size="9.8" text-anchor="middle" fill="#111">70</text>
<text x="407.5" y="170.3" font-family="Liberation Serif" font-weight="bold" stroke="#111" stroke-width="0.3" font-size="9.8" text-anchor="middle" fill="#111">80</text>
<text x="433.5" y="170.3" font-family="Liberation Serif" font-weight="bold" stroke="#111" stroke-width="0.3" font-size="9.8" text-anchor="middle" fill="#111">90</text>
<text x="304.2" y="184.0" font-family="Liberation Serif" font-weight="bold" stroke="#111" stroke-width="0.3" font-size="13" fill="#111">2</text>
<text x="315.7" y="184.1" font-family="Liberation Serif" font-weight="bold" stroke="#111" stroke-width="0.3" font-style="italic" font-size="14" fill="#111">&#952;</text>
<text x="325.1" y="184.0" font-family="Liberation Serif" font-weight="bold" stroke="#111" stroke-width="0.3" font-size="13.8" fill="#111">(degree)</text>
<text transform="translate(245.3 152.4) rotate(-90) scale(1 0.93)" font-family="Liberation Serif" font-weight="bold" stroke="#111" stroke-width="0.3" font-size="13.65" fill="#111">Intensity (arb.units)</text>
<text x="252.3" y="31.0" font-family="Liberation Serif" font-weight="bold" stroke="#111" stroke-width="0.3" font-size="16" fill="#111">(b)</text>
<text x="432.5" y="73.1" font-family="Liberation Serif" font-weight="bold" stroke="#111" stroke-width="0.3" font-size="8.6" text-anchor="end" fill="#111">0 h</text>
<text x="432.5" y="84.4" font-family="Liberation Serif" font-weight="bold" stroke="#111" stroke-width="0.3" font-size="8.6" text-anchor="end" fill="#111">5 h</text>
<text x="432.5" y="93.7" font-family="Liberation Serif" font-weight="bold" stroke="#111" stroke-width="0.3" font-size="8.6" text-anchor="end" fill="#111">10 h</text>
<text x="432.5" y="103.2" font-family="Liberation Serif" font-weight="bold" stroke="#111" stroke-width="0.3" font-size="8.6" text-anchor="end" fill="#111">15 h</text>
<text x="432.5" y="133.7" font-family="Liberation Serif" font-weight="bold" stroke="#111" stroke-width="0.3" font-size="8.6" text-anchor="end" fill="#111">30 h</text>
<text x="432.5" y="143.5" font-family="Liberation Serif" font-weight="bold" stroke="#111" stroke-width="0.3" font-size="8.6" text-anchor="end" fill="#111">45 h</text>
<text x="432.5" y="155.6" font-family="Liberation Serif" font-weight="bold" stroke="#111" stroke-width="0.3" font-size="8.6" text-anchor="end" fill="#111">50 h</text>
<text transform="translate(311.7 111.0) scale(0.85 1)" font-family="Liberation Serif" font-weight="bold" stroke="#111" stroke-width="0.3" font-size="9.6" text-anchor="middle" fill="#111">F</text>
<text transform="translate(313.9 131.9) rotate(-90) scale(1 0.84)" font-family="Liberation Serif" font-weight="bold" stroke="#111" stroke-width="0.3" font-size="8.8" fill="#111">(111)</text>
<text transform="translate(330.5 112.5) scale(0.85 1)" font-family="Liberation Serif" font-weight="bold" stroke="#111" stroke-width="0.3" font-size="9.6" text-anchor="middle" fill="#111">F</text>
<text transform="translate(332.4 133.0) rotate(-90) scale(1 0.84)" font-family="Liberation Serif" font-weight="bold" stroke="#111" stroke-width="0.3" font-size="8.8" fill="#111">(200)</text>
<text transform="translate(392.4 113.5) scale(0.85 1)" font-family="Liberation Serif" font-weight="bold" stroke="#111" stroke-width="0.3" font-size="9.6" text-anchor="middle" fill="#111">F</text>
<text transform="translate(394.7 134.0) rotate(-90) scale(1 0.84)" font-family="Liberation Serif" font-weight="bold" stroke="#111" stroke-width="0.3" font-size="8.8" fill="#111">(220)</text>
<rect x="93.0" y="195.5" width="112.4" height="21.0" fill="#fff" stroke="#a0a0a0" stroke-width="0.8"/>
<polyline fill="none" stroke="#5a5a5a" stroke-width="1.0" stroke-linejoin="round" points="23.2,247.8 23.9,247.8 24.5,247.8 25.2,247.8 25.8,247.8 26.5,247.8 27.1,247.8 27.8,247.8 28.4,247.8 29.1,247.8 29.7,247.8 30.4,247.8 31.0,247.8 31.7,247.8 32.3,247.8 33.0,247.8 33.6,247.8 34.3,247.8 34.9,247.8 35.6,247.8 36.2,247.8 36.9,247.8 37.5,247.8 38.2,247.8 38.8,247.7 39.5,247.7 40.1,247.7 40.8,247.7 41.4,247.7 42.1,247.7 42.7,247.7 43.4,247.7 44.0,247.7 44.7,247.7 45.3,247.7 46.0,247.7 46.6,247.7 47.3,247.7 47.9,247.7 48.6,247.7 49.2,247.7 49.9,247.7 50.5,247.7 51.2,247.7 51.8,247.7 52.5,247.7 53.1,247.7 53.8,247.7 54.4,247.7 55.1,247.7 55.7,247.7 56.4,247.7 57.0,247.7 57.7,247.7 58.3,247.7 59.0,247.7 59.6,247.7 60.3,247.7 60.9,247.7 61.6,247.7 62.2,247.7 62.9,247.7 63.5,247.7 64.2,247.7 64.8,247.7 65.5,247.7 66.1,247.7 66.8,247.7 67.5,247.7 68.1,247.7 68.8,247.7 69.4,247.6 70.1,247.6 70.7,247.6 71.4,247.6 72.0,247.6 72.7,247.6 73.3,247.6 74.0,247.6 74.6,247.6 75.3,247.6 75.9,247.6 76.6,247.6 77.2,247.6 77.9,247.6 78.5,247.6 79.2,247.6 79.8,247.6 80.5,247.6 81.1,247.6 81.6,247.6 81.7,247.6 81.8,247.6 81.9,247.6 81.9,247.6 82.0,247.6 82.1,247.6 82.2,247.6 82.3,247.6 82.4,247.6 82.4,247.6 82.5,247.6 82.6,247.6 82.7,247.6 82.8,247.5 82.9,247.3 83.0,246.9 83.0,246.2 83.1,245.9 83.1,244.9 83.2,242.8 83.3,239.9 83.4,236.3 83.5,232.2 83.6,228.5 83.7,225.9 83.7,225.2 83.8,224.9 83.9,225.9 84.0,228.5 84.0,232.2 84.1,236.2 84.2,239.9 84.3,242.8 84.4,244.1 84.4,244.9 84.5,246.2 84.6,246.9 84.7,247.3 84.8,247.5 84.9,247.6 85.0,247.6 85.0,247.6 85.0,247.6 85.1,247.6 85.2,247.6 85.3,247.6 85.4,247.6 85.5,247.6 85.6,247.6 85.7,247.6 85.7,247.6 85.8,247.5 85.9,247.5 86.0,247.3 86.0,246.9 86.1,246.2 86.2,244.9 86.3,242.8 86.4,239.8 86.5,236.1 86.6,232.1 86.7,228.3 86.8,225.7 86.9,224.7 87.0,225.7 87.0,225.9 87.1,228.3 87.1,232.1 87.2,236.1 87.3,239.8 87.4,242.8 87.5,244.8 87.6,246.2 87.6,246.4 87.7,246.9 87.8,247.3 87.9,247.5 88.0,247.5 88.1,247.6 88.1,247.6 88.2,247.6 88.3,247.6 88.3,247.6 88.4,247.6 88.5,247.6 88.6,247.6 88.7,247.6 88.8,247.6 88.9,247.6 88.9,247.6 89.0,247.6 89.6,247.6 90.2,247.6 90.9,247.6 91.5,247.6 92.2,247.6 92.8,247.6 93.5,247.6 94.1,247.6 94.8,247.6 95.4,247.6 96.1,247.6 96.7,247.6 97.4,247.6 98.0,247.6 98.7,247.6 99.3,247.5 100.0,247.5 100.2,247.5 100.3,247.5 100.4,247.5 100.5,247.5 100.6,247.5 100.6,247.5 100.7,247.5 100.7,247.5 100.8,247.5 100.9,247.5 101.0,247.5 101.1,247.5 101.2,247.5 101.3,247.5 101.4,247.5 101.5,247.5 101.6,247.3 101.7,247.1 101.7,246.7 101.8,246.1 101.9,245.2 101.9,245.0 102.0,244.0 102.1,242.8 102.2,241.7 102.3,240.8 102.4,240.5 102.5,240.8 102.6,241.7 102.6,242.0 102.7,242.8 102.7,244.0 102.8,245.2 102.9,246.1 103.0,246.7 103.1,247.1 103.2,247.3 103.2,247.4 103.3,247.4 103.4,247.5 103.5,247.5 103.6,247.5 103.7,247.5 103.7,247.5 103.8,247.5 103.9,247.5 103.9,247.5 104.0,247.5 104.1,247.5 104.2,247.5 104.3,247.5 104.3,247.5 104.4,247.5 104.4,247.5 104.5,247.5 104.5,247.5 104.5,247.5 104.6,247.5 104.7,247.5 104.8,247.5 104.9,247.5 104.9,247.5 105.0,247.5 105.1,247.5 105.2,247.5 105.2,247.5 105.3,247.5 105.4,247.5 105.5,247.5 105.6,247.5 105.7,247.4 105.8,247.2 105.8,246.9 105.9,246.9 105.9,246.4 106.0,245.7 106.1,244.8 106.2,243.9 106.3,243.0 106.4,242.4 106.5,242.1 106.6,242.4 106.7,243.0 106.8,243.9 106.9,244.8 107.0,245.7 107.0,246.4 107.1,246.9 107.1,246.9 107.2,247.2 107.3,247.4 107.4,247.5 107.5,247.5 107.6,247.5 107.7,247.5 107.8,247.5 107.8,247.5 107.9,247.5 108.0,247.5 108.0,247.5 108.1,247.5 108.2,247.5 108.3,247.5 108.4,247.5 108.4,247.5 108.5,247.5 108.6,247.5 109.1,247.5 109.7,247.5 110.4,247.5 111.1,247.5 111.7,247.5 112.4,247.5 113.0,247.5 113.7,247.5 114.3,247.5 115.0,247.5 115.6,247.5 116.3,247.5 116.9,247.5 117.6,247.5 118.2,247.5 118.9,247.5 119.5,247.5 120.2,247.5 120.8,247.5 121.5,247.5 122.1,247.5 122.8,247.5 123.4,247.5 124.1,247.5 124.7,247.5 125.4,247.5 126.0,247.5 126.7,247.5 127.3,247.5 128.0,247.5 128.6,247.5 129.3,247.5 129.9,247.4 130.6,247.4 131.2,247.4 131.9,247.4 132.5,247.4 133.2,247.4 133.8,247.4 134.5,247.4 135.1,247.4 135.8,247.4 136.4,247.4 137.1,247.4 137.7,247.4 138.4,247.4 139.0,247.4 139.7,247.4 140.3,247.4 141.0,247.4 141.6,247.4 142.3,247.4 142.9,247.4 143.6,247.4 144.2,247.4 144.9,247.4 145.5,247.4 146.2,247.4 146.8,247.4 147.5,247.4 148.1,247.4 148.8,247.4 149.4,247.4 150.1,247.4 150.7,247.4 151.4,247.4 152.0,247.4 152.7,247.4 153.3,247.4 154.0,247.4 154.7,247.4 155.3,247.4 156.0,247.4 156.6,247.4 157.3,247.4 157.9,247.4 158.6,247.4 159.2,247.4 159.9,247.3 160.5,247.3 161.2,247.3 161.7,247.3 161.8,247.3 161.8,247.3 162.0,247.3 162.1,247.3 162.2,247.3 162.3,247.3 162.4,247.3 162.5,247.3 162.6,247.3 162.7,247.3 162.8,247.3 162.9,247.3 163.1,247.3 163.1,247.3 163.2,247.3 163.3,247.3 163.4,247.3 163.6,247.3 163.7,247.2 163.8,247.1 163.8,247.1 163.9,246.9 164.1,246.7 164.2,246.3 164.3,246.0 164.4,245.7 164.4,245.7 164.5,245.4 164.7,245.3 164.8,245.4 164.9,245.7 165.0,246.0 165.1,246.0 165.2,246.3 165.3,246.7 165.4,246.9 165.5,247.1 165.7,247.2 165.7,247.2 165.8,247.3 165.9,247.3 166.0,247.3 166.2,247.3 166.3,247.3 166.4,247.3 166.4,247.3 166.5,247.3 166.7,247.3 166.8,247.3 166.9,247.3 167.0,247.3 167.0,247.3 167.1,247.3 167.3,247.3 167.4,247.3 167.5,247.3 167.6,247.3 167.6,247.3 167.7,247.3 167.7,247.3 167.8,247.3 167.9,247.3 168.1,247.3 168.2,247.3 168.3,247.3 168.3,247.3 168.4,247.3 168.6,247.3 168.7,247.3 168.8,247.3 168.9,247.3 169.0,247.3 169.0,247.3 169.2,247.3 169.3,247.3 169.4,247.3 169.5,247.2 169.6,247.1 169.7,247.1 169.8,246.9 169.9,246.6 170.0,246.3 170.2,246.0 170.3,245.7 170.3,245.6 170.4,245.4 170.5,245.3 170.7,245.4 170.8,245.6 170.9,246.0 170.9,246.0 171.0,246.3 171.1,246.6 171.3,246.9 171.4,247.1 171.5,247.2 171.6,247.2 171.6,247.3 171.8,247.3 171.9,247.3 172.0,247.3 172.1,247.3 172.2,247.3 172.3,247.3 172.4,247.3 172.5,247.3 172.6,247.3 172.8,247.3 172.9,247.3 172.9,247.3 173.0,247.3 173.1,247.3 173.2,247.3 173.4,247.3 173.5,247.3 173.5,247.3 174.2,247.3 174.8,247.3 175.5,247.3 176.1,247.3 176.8,247.3 177.4,247.3 178.1,247.3 178.7,247.3 179.4,247.3 180.0,247.3 180.7,247.3 181.3,247.3 182.0,247.3 182.6,247.3 183.3,247.3 183.9,247.3 184.6,247.3 185.2,247.3 185.9,247.3 186.5,247.3 187.2,247.3 187.8,247.3 188.5,247.3 189.1,247.3 189.8,247.3 190.4,247.2 191.1,247.2 191.7,247.2 192.4,247.2 193.0,247.2 193.7,247.2 194.3,247.2 195.0,247.2 195.6,247.2 196.3,247.2 197.0,247.2 197.6,247.2 198.3,247.2 198.9,247.2 199.6,247.2 200.2,247.2 200.9,247.2 201.5,247.2 202.2,247.2 202.8,247.2 203.5,247.2 204.1,247.2 204.8,247.2 205.4,247.2"/>
<polyline fill="none" stroke="#262626" stroke-width="1.15" points="23.2,247.8 23.9,247.8 24.5,247.8 25.2,247.8 25.8,247.8 26.5,247.8 27.1,247.8 27.8,247.8 28.4,247.8 29.1,247.8 29.7,247.8 30.4,247.8 31.0,247.8 31.7,247.8 32.3,247.8 33.0,247.8 33.6,247.8 34.3,247.8 34.9,247.8 35.6,247.8 36.2,247.8 36.9,247.8 37.5,247.8 38.2,247.8 38.8,247.7 39.5,247.7 40.1,247.7 40.8,247.7 41.4,247.7 42.1,247.7 42.7,247.7 43.4,247.7 44.0,247.7 44.7,247.7 45.3,247.7 46.0,247.7 46.6,247.7 47.3,247.7 47.9,247.7 48.6,247.7 49.2,247.7 49.9,247.7 50.5,247.7 51.2,247.7 51.8,247.7 52.5,247.7 53.1,247.7 53.8,247.7 54.4,247.7 55.1,247.7 55.7,247.7 56.4,247.7 57.0,247.7 57.7,247.7 58.3,247.7 59.0,247.7 59.6,247.7 60.3,247.7 60.9,247.7 61.6,247.7 62.2,247.7 62.9,247.7 63.5,247.7 64.2,247.7 64.8,247.7 65.5,247.7 66.1,247.7 66.8,247.7 67.5,247.7 68.1,247.7 68.8,247.7 69.4,247.6 70.1,247.6 70.7,247.6 71.4,247.6 72.0,247.6 72.7,247.6 73.3,247.6 74.0,247.6 74.6,247.6 75.3,247.6 75.9,247.6 76.6,247.6 77.2,247.6 77.9,247.6 78.5,247.6 79.2,247.6 79.8,247.6 80.5,247.6 81.1,247.6 81.8,247.6 82.4,247.6 83.1,247.6 83.7,247.6 84.4,247.6 85.0,247.6 85.7,247.6 86.3,247.6 87.0,247.6 87.6,247.6 88.3,247.6 88.9,247.6 89.6,247.6 90.2,247.6 90.9,247.6 91.5,247.6 92.2,247.6 92.8,247.6 93.5,247.6 94.1,247.6 94.8,247.6 95.4,247.6 96.1,247.6 96.7,247.6 97.4,247.6 98.0,247.6 98.7,247.6 99.3,247.5 100.0,247.5 100.6,247.5 101.3,247.5 101.9,247.5 102.6,247.5 103.2,247.5 103.9,247.5 104.5,247.5 105.2,247.5 105.8,247.5 106.5,247.5 107.1,247.5 107.8,247.5 108.4,247.5 109.1,247.5 109.7,247.5 110.4,247.5 111.1,247.5 111.7,247.5 112.4,247.5 113.0,247.5 113.7,247.5 114.3,247.5 115.0,247.5 115.6,247.5 116.3,247.5 116.9,247.5 117.6,247.5 118.2,247.5 118.9,247.5 119.5,247.5 120.2,247.5 120.8,247.5 121.5,247.5 122.1,247.5 122.8,247.5 123.4,247.5 124.1,247.5 124.7,247.5 125.4,247.5 126.0,247.5 126.7,247.5 127.3,247.5 128.0,247.5 128.6,247.5 129.3,247.5 129.9,247.4 130.6,247.4 131.2,247.4 131.9,247.4 132.5,247.4 133.2,247.4 133.8,247.4 134.5,247.4 135.1,247.4 135.8,247.4 136.4,247.4 137.1,247.4 137.7,247.4 138.4,247.4 139.0,247.4 139.7,247.4 140.3,247.4 141.0,247.4 141.6,247.4 142.3,247.4 142.9,247.4 143.6,247.4 144.2,247.4 144.9,247.4 145.5,247.4 146.2,247.4 146.8,247.4 147.5,247.4 148.1,247.4 148.8,247.4 149.4,247.4 150.1,247.4 150.7,247.4 151.4,247.4 152.0,247.4 152.7,247.4 153.3,247.4 154.0,247.4 154.7,247.4 155.3,247.4 156.0,247.4 156.6,247.4 157.3,247.4 157.9,247.4 158.6,247.4 159.2,247.4 159.9,247.3 160.5,247.3 161.2,247.3 161.8,247.3 162.5,247.3 163.1,247.3 163.8,247.3 164.4,247.3 165.1,247.3 165.7,247.3 166.4,247.3 167.0,247.3 167.7,247.3 168.3,247.3 169.0,247.3 169.6,247.3 170.3,247.3 170.9,247.3 171.6,247.3 172.2,247.3 172.9,247.3 173.5,247.3 174.2,247.3 174.8,247.3 175.5,247.3 176.1,247.3 176.8,247.3 177.4,247.3 178.1,247.3 178.7,247.3 179.4,247.3 180.0,247.3 180.7,247.3 181.3,247.3 182.0,247.3 182.6,247.3 183.3,247.3 183.9,247.3 184.6,247.3 185.2,247.3 185.9,247.3 186.5,247.3 187.2,247.3 187.8,247.3 188.5,247.3 189.1,247.3 189.8,247.3 190.4,247.2 191.1,247.2 191.7,247.2 192.4,247.2 193.0,247.2 193.7,247.2 194.3,247.2 195.0,247.2 195.6,247.2 196.3,247.2 197.0,247.2 197.6,247.2 198.3,247.2 198.9,247.2 199.6,247.2 200.2,247.2 200.9,247.2 201.5,247.2 202.2,247.2 202.8,247.2 203.5,247.2 204.1,247.2 204.8,247.2 205.4,247.2"/>
<polyline fill="none" stroke="#f4403c" stroke-width="1.4" stroke-linejoin="round" points="23.2,258.0 23.9,258.0 24.5,258.0 25.2,258.0 25.8,258.0 26.5,258.0 27.1,258.0 27.8,258.0 28.4,258.0 29.1,258.0 29.7,258.0 30.4,258.0 31.0,257.9 31.7,257.9 32.3,257.9 33.0,257.9 33.6,257.9 34.3,257.9 34.9,257.9 35.6,257.9 36.2,257.9 36.9,257.9 37.5,257.9 38.2,257.9 38.8,257.9 39.5,257.9 40.1,257.9 40.8,257.9 41.4,257.9 42.1,257.9 42.7,257.9 43.4,257.9 44.0,257.9 44.7,257.9 45.3,257.8 46.0,257.8 46.6,257.8 47.3,257.8 47.9,257.8 48.6,257.8 49.2,257.8 49.9,257.8 50.5,257.8 51.2,257.8 51.8,257.8 52.5,257.8 53.1,257.8 53.8,257.8 54.4,257.8 55.1,257.8 55.7,257.8 56.4,257.8 57.0,257.8 57.7,257.8 58.3,257.8 59.0,257.8 59.6,257.7 60.3,257.7 60.9,257.7 61.6,257.7 62.2,257.7 62.9,257.7 63.5,257.7 64.2,257.7 64.8,257.7 65.5,257.7 66.1,257.7 66.8,257.7 67.5,257.7 68.1,257.7 68.8,257.7 69.4,257.7 70.1,257.7 70.7,257.6 71.4,257.6 72.0,257.6 72.7,257.6 73.3,257.6 74.0,257.6 74.6,257.6 75.3,257.6 75.9,257.6 76.0,257.6 76.4,257.5 76.6,257.5 76.7,257.5 77.0,257.5 77.2,257.5 77.3,257.5 77.7,257.5 77.9,257.5 78.0,257.5 78.3,257.5 78.5,257.5 78.6,257.5 79.0,257.4 79.2,257.4 79.3,257.4 79.5,257.4 79.6,257.4 79.8,257.4 79.9,257.3 80.1,257.3 80.3,257.3 80.5,257.3 80.6,257.3 80.8,257.2 80.9,257.2 81.1,257.2 81.2,257.1 81.4,257.1 81.6,257.0 81.8,257.0 81.9,256.9 82.1,256.8 82.2,256.7 82.4,256.6 82.5,256.5 82.7,256.4 82.9,256.3 83.1,256.1 83.2,255.9 83.4,255.8 83.5,255.6 83.7,255.5 83.8,255.5 84.0,255.4 84.2,255.5 84.4,255.5 84.5,255.5 84.7,255.6 84.8,255.6 85.0,255.6 85.2,255.6 85.3,255.5 85.5,255.4 85.7,255.2 85.8,255.1 86.0,254.9 86.1,254.7 86.3,254.4 86.5,254.2 86.6,253.9 86.8,253.8 87.0,253.7 87.1,253.8 87.3,254.0 87.4,254.2 87.6,254.5 87.8,254.8 87.9,255.1 88.1,255.3 88.3,255.6 88.4,255.8 88.6,256.1 88.7,256.2 88.9,256.4 89.1,256.5 89.3,256.6 89.4,256.7 89.6,256.8 89.7,256.8 89.9,256.9 90.0,256.9 90.2,257.0 90.4,257.0 90.6,257.1 90.7,257.1 90.9,257.1 91.0,257.2 91.2,257.2 91.3,257.2 91.5,257.2 91.7,257.2 91.9,257.3 92.2,257.3 92.5,257.3 92.8,257.3 93.2,257.4 93.5,257.4 93.8,257.4 94.1,257.4 94.5,257.4 94.8,257.4 95.4,257.4 96.1,257.4 96.7,257.4 97.4,257.4 98.0,257.4 98.7,257.4 99.3,257.4 100.0,257.4 100.6,257.4 101.3,257.4 101.9,257.4 102.6,257.4 103.2,257.4 103.9,257.4 104.5,257.4 105.2,257.4 105.8,257.4 106.5,257.4 107.1,257.4 107.8,257.4 108.4,257.4 109.1,257.4 109.7,257.4 110.4,257.4 111.1,257.4 111.7,257.4 112.4,257.4 113.0,257.4 113.7,257.4 114.3,257.4 115.0,257.4 115.6,257.4 116.3,257.4 116.9,257.4 117.6,257.4 118.2,257.4 118.9,257.4 119.5,257.4 120.2,257.4 120.8,257.3 121.5,257.3 122.1,257.3 122.8,257.3 123.4,257.3 124.1,257.3 124.7,257.3 125.4,257.3 126.0,257.3 126.7,257.3 127.3,257.3 128.0,257.3 128.6,257.3 129.3,257.3 129.9,257.3 130.6,257.3 131.2,257.3 131.9,257.3 132.5,257.3 133.2,257.3 133.8,257.3 134.5,257.3 135.1,257.3 135.8,257.3 136.4,257.3 137.1,257.2 137.7,257.2 138.4,257.2 139.0,257.2 139.7,257.2 140.3,257.2 141.0,257.2 141.6,257.2 142.3,257.2 142.9,257.2 143.6,257.2 144.2,257.2 144.9,257.2 145.5,257.2 146.2,257.2 146.8,257.2 147.5,257.2 148.1,257.2 148.8,257.2 149.4,257.2 150.1,257.2 150.7,257.2 151.4,257.2 152.0,257.1 152.7,257.1 153.3,257.1 154.0,257.1 154.7,257.1 155.3,257.1 156.0,257.1 156.6,257.1 157.3,257.1 157.9,257.1 158.6,257.1 159.2,257.1 159.9,257.1 160.5,257.1 161.2,257.1 161.8,257.1 162.5,257.1 163.1,257.1 163.8,257.1 164.4,257.1 165.1,257.1 165.7,257.1 166.4,257.1 167.0,257.1 167.7,257.0 168.3,257.0 169.0,257.0 169.6,257.0 170.3,257.0 170.9,257.0 171.6,257.0 172.2,257.0 172.9,257.0 173.5,257.0 174.2,257.0 174.8,257.0 175.5,257.0 176.1,257.0 176.8,257.0 177.4,257.0 178.1,257.0 178.7,257.0 179.4,257.0 180.0,257.0 180.7,257.0 181.3,257.0 182.0,257.0 182.6,256.9 183.3,256.9 183.9,256.9 184.6,256.9 185.2,256.9 185.9,256.9 186.5,256.9 187.2,256.9 187.8,256.9 188.5,256.9 189.1,256.9 189.8,256.9 190.4,256.9 191.1,256.9 191.7,256.9 192.4,256.9 193.0,256.9 193.7,256.9 194.3,256.9 195.0,256.9 195.6,256.9 196.3,256.9 197.0,256.9 197.6,256.9 198.3,256.8 198.9,256.8 199.6,256.8 200.2,256.8 200.9,256.8 201.5,256.8 202.2,256.8 202.8,256.8 203.5,256.8 204.1,256.8 204.8,256.8 205.4,256.8"/>
<polyline fill="none" stroke="#2f7fe4" stroke-width="1.6" stroke-linejoin="round" points="23.2,267.4 23.9,267.4 24.5,267.4 25.2,267.4 25.8,267.4 26.5,267.4 27.1,267.4 27.8,267.4 28.4,267.4 29.1,267.4 29.7,267.4 30.4,267.3 31.0,267.3 31.7,267.3 32.3,267.3 33.0,267.3 33.6,267.3 34.3,267.3 34.9,267.3 35.6,267.3 36.2,267.3 36.9,267.3 37.5,267.3 38.2,267.3 38.8,267.3 39.5,267.3 40.1,267.3 40.8,267.3 41.4,267.3 42.1,267.3 42.7,267.3 43.4,267.3 44.0,267.2 44.7,267.2 45.3,267.2 46.0,267.2 46.6,267.2 47.3,267.2 47.9,267.2 48.6,267.2 49.2,267.2 49.9,267.2 50.5,267.2 51.2,267.2 51.8,267.2 52.5,267.2 53.1,267.2 53.8,267.2 54.4,267.2 55.1,267.2 55.7,267.2 56.4,267.2 57.0,267.2 57.7,267.1 58.3,267.1 59.0,267.1 59.6,267.1 60.3,267.1 60.9,267.1 61.6,267.1 62.2,267.1 62.9,267.1 63.5,267.1 64.2,267.1 64.8,267.1 65.5,267.1 66.1,267.1 66.8,267.1 67.5,267.1 68.1,267.1 68.8,267.1 69.4,267.0 70.1,267.0 70.7,267.0 71.4,267.0 72.0,267.0 72.7,267.0 73.3,267.0 74.0,267.0 74.6,267.0 75.3,267.0 75.9,267.0 76.6,266.9 76.8,266.9 77.1,266.9 77.2,266.9 77.4,266.9 77.7,266.9 77.9,266.9 78.0,266.9 78.3,266.9 78.5,266.9 78.6,266.9 78.9,266.9 79.2,266.9 79.5,266.8 79.8,266.8 79.8,266.8 79.9,266.8 80.0,266.8 80.2,266.8 80.3,266.8 80.5,266.7 80.5,266.7 80.6,266.7 80.8,266.7 80.9,266.7 81.1,266.6 81.2,266.6 81.4,266.6 81.5,266.6 81.7,266.5 81.8,266.5 81.8,266.5 82.0,266.4 82.1,266.4 82.3,266.3 82.4,266.2 82.4,266.2 82.6,266.1 82.7,266.0 82.9,265.9 83.0,265.8 83.1,265.7 83.2,265.6 83.3,265.5 83.5,265.3 83.6,265.3 83.7,265.2 83.8,265.2 83.8,265.1 84.0,265.1 84.1,265.1 84.3,265.2 84.4,265.2 84.4,265.3 84.6,265.4 84.7,265.4 84.9,265.5 85.0,265.5 85.2,265.5 85.3,265.4 85.5,265.4 85.6,265.3 85.7,265.3 85.8,265.2 85.9,265.1 86.1,264.8 86.2,264.7 86.3,264.5 86.4,264.4 86.5,264.3 86.7,264.1 86.8,264.0 87.0,264.0 87.1,264.0 87.3,264.1 87.4,264.3 87.6,264.6 87.6,264.7 87.7,264.7 87.9,265.0 87.9,265.2 88.1,265.4 88.2,265.5 88.3,265.6 88.4,265.7 88.5,265.8 88.7,266.0 88.8,266.1 88.9,266.1 89.0,266.2 89.1,266.2 89.3,266.3 89.4,266.3 89.6,266.4 89.6,266.4 89.7,266.4 89.9,266.5 90.0,266.5 90.2,266.5 90.2,266.6 90.3,266.6 90.5,266.6 90.6,266.6 90.8,266.6 90.9,266.6 91.1,266.7 91.4,266.7 91.5,266.7 91.7,266.7 92.0,266.7 92.2,266.7 92.2,266.7 92.5,266.8 92.8,266.8 93.1,266.8 93.4,266.8 93.5,266.8 93.7,266.8 94.0,266.8 94.1,266.8 94.8,266.8 95.4,266.8 96.1,266.8 96.7,266.8 97.4,266.8 98.0,266.8 98.7,266.8 99.3,266.8 100.0,266.8 100.6,266.8 101.3,266.8 101.9,266.8 102.6,266.8 103.2,266.8 103.9,266.8 104.5,266.8 105.2,266.8 105.8,266.8 106.5,266.8 107.1,266.8 107.8,266.8 108.4,266.8 109.1,266.8 109.7,266.8 110.4,266.8 111.1,266.8 111.7,266.8 112.4,266.8 113.0,266.8 113.7,266.7 114.3,266.7 115.0,266.7 115.6,266.7 116.3,266.7 116.9,266.7 117.6,266.7 118.2,266.7 118.9,266.7 119.5,266.7 120.2,266.7 120.8,266.7 121.5,266.7 122.1,266.7 122.8,266.7 123.4,266.7 124.1,266.7 124.7,266.7 125.4,266.7 126.0,266.7 126.7,266.7 127.3,266.7 128.0,266.6 128.6,266.6 129.3,266.6 129.9,266.6 130.6,266.6 131.2,266.6 131.9,266.6 132.5,266.6 133.2,266.6 133.8,266.6 134.5,266.6 135.1,266.6 135.8,266.6 136.4,266.6 137.1,266.6 137.7,266.6 138.4,266.6 139.0,266.6 139.7,266.6 140.3,266.6 141.0,266.6 141.6,266.6 142.3,266.5 142.9,266.5 143.6,266.5 144.2,266.5 144.9,266.5 145.5,266.5 146.2,266.5 146.8,266.5 147.5,266.5 148.1,266.5 148.8,266.5 149.4,266.5 150.1,266.5 150.7,266.5 151.4,266.5 152.0,266.5 152.7,266.5 153.3,266.5 154.0,266.5 154.7,266.5 155.3,266.5 156.0,266.5 156.6,266.4 157.3,266.4 157.9,266.4 158.6,266.4 159.2,266.4 159.9,266.4 160.5,266.4 161.2,266.4 161.8,266.4 162.5,266.4 163.1,266.4 163.8,266.4 164.4,266.4 165.1,266.4 165.7,266.4 166.4,266.4 167.0,266.4 167.7,266.4 168.3,266.4 169.0,266.4 169.6,266.4 170.3,266.3 170.9,266.3 171.6,266.3 172.2,266.3 172.9,266.3 173.5,266.3 174.2,266.3 174.8,266.3 175.5,266.3 176.1,266.3 176.8,266.3 177.4,266.3 178.1,266.3 178.7,266.3 179.4,266.3 180.0,266.3 180.7,266.3 181.3,266.3 182.0,266.3 182.6,266.3 183.3,266.3 183.9,266.3 184.6,266.2 185.2,266.2 185.9,266.2 186.5,266.2 187.2,266.2 187.8,266.2 188.5,266.2 189.1,266.2 189.8,266.2 190.4,266.2 191.1,266.2 191.7,266.2 192.4,266.2 193.0,266.2 193.7,266.2 194.3,266.2 195.0,266.2 195.6,266.2 196.3,266.2 197.0,266.2 197.6,266.2 198.3,266.2 198.9,266.1 199.6,266.1 200.2,266.1 200.9,266.1 201.5,266.1 202.2,266.1 202.8,266.1 203.5,266.1 204.1,266.1 204.8,266.1 205.4,266.1"/>
<polyline fill="none" stroke="#1aa362" stroke-width="1.4" stroke-linejoin="round" points="23.2,278.9 23.9,278.9 24.5,278.9 25.2,278.9 25.8,278.9 26.5,278.9 27.1,278.9 27.8,278.9 28.4,278.9 29.1,278.8 29.7,278.8 30.4,278.8 31.0,278.8 31.7,278.8 32.3,278.8 33.0,278.8 33.6,278.8 34.3,278.8 34.9,278.8 35.6,278.8 36.2,278.8 36.9,278.8 37.5,278.8 38.2,278.8 38.8,278.8 39.5,278.8 40.1,278.7 40.8,278.7 41.4,278.7 42.1,278.7 42.7,278.7 43.4,278.7 44.0,278.7 44.7,278.7 45.3,278.7 46.0,278.7 46.6,278.7 47.3,278.7 47.9,278.7 48.6,278.7 49.2,278.7 49.9,278.7 50.5,278.6 51.2,278.6 51.8,278.6 52.5,278.6 53.1,278.6 53.8,278.6 54.4,278.6 55.1,278.6 55.7,278.6 56.4,278.6 57.0,278.6 57.7,278.6 58.3,278.6 59.0,278.6 59.6,278.6 60.3,278.6 60.9,278.5 61.6,278.5 62.2,278.5 62.9,278.5 63.5,278.5 64.2,278.5 64.8,278.5 65.5,278.5 66.1,278.5 66.8,278.5 67.5,278.5 68.1,278.5 68.8,278.5 69.4,278.4 70.1,278.4 70.7,278.4 71.4,278.4 72.0,278.4 72.7,278.4 72.9,278.4 73.3,278.4 73.4,278.4 74.0,278.4 74.5,278.3 74.6,278.3 75.0,278.3 75.3,278.3 75.5,278.3 75.9,278.3 76.0,278.3 76.6,278.3 77.1,278.2 77.2,278.2 77.6,278.2 77.9,278.2 78.1,278.2 78.5,278.1 78.6,278.1 79.2,278.1 79.7,278.0 79.8,278.0 80.2,278.0 80.5,277.9 80.7,277.9 81.1,277.8 81.2,277.8 81.8,277.6 82.3,277.4 82.4,277.3 82.8,277.1 83.1,277.0 83.3,276.8 83.7,276.4 83.8,276.3 84.4,275.8 84.9,275.3 85.0,275.3 85.4,275.2 85.7,275.2 85.9,275.3 86.3,275.7 86.5,275.8 87.0,276.3 87.5,276.7 87.6,276.8 88.0,277.1 88.3,277.2 88.5,277.3 88.9,277.5 89.1,277.5 89.6,277.7 90.1,277.8 90.2,277.8 90.6,277.9 90.9,277.9 91.1,277.9 91.5,278.0 91.7,278.0 92.2,278.0 92.7,278.0 92.8,278.1 93.2,278.1 93.5,278.1 93.7,278.1 94.1,278.1 94.3,278.1 94.8,278.1 95.3,278.1 95.4,278.1 95.8,278.1 96.1,278.1 96.3,278.1 96.7,278.1 96.9,278.2 97.4,278.2 98.0,278.2 98.7,278.2 99.3,278.2 100.0,278.2 100.6,278.2 101.3,278.2 101.9,278.2 102.6,278.2 103.2,278.2 103.9,278.2 104.5,278.1 105.2,278.1 105.8,278.1 106.5,278.1 107.1,278.1 107.8,278.1 108.4,278.1 109.1,278.1 109.7,278.1 110.4,278.1 111.1,278.1 111.7,278.1 112.4,278.1 113.0,278.1 113.7,278.1 114.3,278.1 115.0,278.1 115.6,278.1 116.3,278.1 116.9,278.1 117.6,278.1 118.2,278.1 118.9,278.0 119.5,278.0 120.2,278.0 120.8,278.0 121.5,278.0 122.1,278.0 122.8,278.0 123.4,278.0 124.1,278.0 124.7,278.0 125.4,278.0 126.0,278.0 126.7,278.0 127.3,278.0 128.0,278.0 128.6,278.0 129.3,278.0 129.9,278.0 130.6,278.0 131.2,277.9 131.9,277.9 132.5,277.9 133.2,277.9 133.8,277.9 134.5,277.9 135.1,277.9 135.8,277.9 136.4,277.9 137.1,277.9 137.7,277.9 138.4,277.9 139.0,277.9 139.7,277.9 140.3,277.9 141.0,277.9 141.6,277.9 142.3,277.9 142.9,277.8 143.6,277.8 144.2,277.8 144.9,277.8 145.5,277.8 146.2,277.8 146.8,277.8 147.5,277.8 148.1,277.8 148.8,277.8 149.4,277.8 150.1,277.8 150.7,277.8 151.4,277.8 152.0,277.8 152.7,277.8 153.3,277.8 154.0,277.7 154.7,277.7 155.3,277.7 156.0,277.7 156.6,277.7 157.3,277.7 157.9,277.7 158.6,277.7 159.2,277.7 159.9,277.7 160.5,277.7 161.2,277.7 161.8,277.7 162.5,277.7 163.1,277.7 163.8,277.7 164.4,277.7 165.1,277.7 165.7,277.6 166.4,277.6 167.0,277.6 167.7,277.6 168.3,277.6 169.0,277.6 169.6,277.6 170.3,277.6 170.9,277.6 171.6,277.6 172.2,277.6 172.9,277.6 173.5,277.6 174.2,277.6 174.8,277.6 175.5,277.6 176.1,277.6 176.8,277.5 177.4,277.5 178.1,277.5 178.7,277.5 179.4,277.5 180.0,277.5 180.7,277.5 181.3,277.5 182.0,277.5 182.6,277.5 183.3,277.5 183.9,277.5 184.6,277.5 185.2,277.5 185.9,277.5 186.5,277.5 187.2,277.5 187.8,277.5 188.5,277.4 189.1,277.4 189.8,277.4 190.4,277.4 191.1,277.4 191.7,277.4 192.4,277.4 193.0,277.4 193.7,277.4 194.3,277.4 195.0,277.4 195.6,277.4 196.3,277.4 197.0,277.4 197.6,277.4 198.3,277.4 198.9,277.4 199.6,277.4 200.2,277.3 200.9,277.3 201.5,277.3 202.2,277.3 202.8,277.3 203.5,277.3 204.1,277.3 204.8,277.3 205.4,277.3"/>
<polyline fill="none" stroke="#c676e2" stroke-width="1.4" stroke-linejoin="round" points="23.2,311.9 23.9,311.9 24.5,311.9 25.2,311.9 25.8,311.9 26.5,311.9 27.1,311.9 27.8,311.9 28.4,311.9 29.1,311.9 29.7,311.9 30.4,311.9 31.0,311.9 31.7,311.9 32.3,311.9 33.0,311.8 33.6,311.8 34.3,311.8 34.9,311.8 35.6,311.8 36.2,311.8 36.9,311.8 37.5,311.8 38.2,311.8 38.8,311.8 39.5,311.8 40.1,311.8 40.8,311.8 41.4,311.8 42.1,311.8 42.7,311.8 43.4,311.8 44.0,311.8 44.7,311.8 45.3,311.8 46.0,311.8 46.6,311.8 47.3,311.8 47.9,311.8 48.6,311.8 49.2,311.8 49.9,311.8 50.5,311.8 51.2,311.8 51.8,311.8 52.5,311.7 53.1,311.7 53.8,311.7 54.4,311.7 55.1,311.7 55.7,311.7 56.4,311.7 57.0,311.7 57.7,311.7 58.3,311.7 59.0,311.7 59.6,311.7 60.3,311.7 60.9,311.7 61.6,311.7 62.2,311.7 62.9,311.7 63.5,311.7 64.2,311.7 64.8,311.7 65.5,311.7 66.1,311.7 66.8,311.7 67.5,311.7 68.1,311.7 68.8,311.6 69.4,311.6 70.1,311.6 70.7,311.6 71.4,311.6 72.0,311.6 72.7,311.6 73.3,311.6 74.0,311.6 74.6,311.6 75.3,311.6 75.5,311.6 75.9,311.6 76.3,311.6 76.6,311.5 76.7,311.5 77.1,311.5 77.2,311.5 77.5,311.5 77.9,311.5 78.3,311.5 78.5,311.5 78.6,311.5 79.0,311.4 79.2,311.4 79.4,311.4 79.8,311.4 80.2,311.4 80.5,311.3 80.6,311.3 81.0,311.3 81.1,311.2 81.4,311.2 81.8,311.1 82.2,311.0 82.4,310.9 82.5,310.8 82.9,310.6 83.1,310.5 83.3,310.3 83.7,309.9 84.1,309.5 84.4,309.3 84.5,309.1 84.9,309.0 85.0,309.0 85.3,309.1 85.7,309.5 86.1,309.9 86.3,310.2 86.5,310.3 86.8,310.6 87.0,310.6 87.2,310.8 87.6,310.9 88.0,311.1 88.3,311.1 88.4,311.1 88.8,311.2 88.9,311.2 89.2,311.3 89.6,311.3 90.0,311.3 90.2,311.4 90.4,311.4 90.7,311.4 90.9,311.4 91.1,311.4 91.4,311.4 91.5,311.4 91.9,311.4 91.9,311.4 92.2,311.4 92.3,311.4 92.7,311.4 92.8,311.4 92.8,311.4 93.1,311.4 93.2,311.4 93.5,311.4 93.7,311.4 93.9,311.4 94.1,311.4 94.3,311.4 94.6,311.5 94.8,311.5 95.0,311.4 95.4,311.4 95.5,311.4 96.0,311.4 96.1,311.4 96.4,311.4 96.7,311.4 96.9,311.4 97.3,311.4 97.4,311.4 97.8,311.4 98.0,311.4 98.2,311.4 98.7,311.4 99.1,311.3 99.3,311.3 99.6,311.3 100.0,311.3 100.1,311.3 100.5,311.2 100.6,311.2 101.0,311.1 101.3,311.0 101.4,311.0 101.9,310.9 101.9,310.9 102.3,310.9 102.6,310.9 102.8,310.9 103.2,311.0 103.7,311.1 103.9,311.1 104.2,311.2 104.5,311.2 104.6,311.2 105.1,311.3 105.2,311.3 105.5,311.3 105.8,311.4 106.0,311.4 106.4,311.4 106.5,311.4 106.9,311.4 107.1,311.4 107.3,311.4 107.8,311.4 108.3,311.4 108.4,311.4 108.7,311.4 109.1,311.4 109.2,311.4 109.6,311.4 109.7,311.4 110.1,311.4 110.4,311.4 110.5,311.4 111.0,311.4 111.1,311.4 111.4,311.4 111.7,311.4 111.9,311.4 112.4,311.4 112.8,311.4 113.0,311.4 113.3,311.4 113.7,311.4 114.3,311.4 115.0,311.4 115.6,311.4 116.3,311.4 116.9,311.4 117.6,311.4 118.2,311.4 118.9,311.4 119.5,311.4 120.2,311.4 120.8,311.4 121.5,311.4 122.1,311.4 122.8,311.4 123.4,311.4 124.1,311.4 124.7,311.4 125.4,311.4 126.0,311.4 126.7,311.4 127.3,311.4 128.0,311.4 128.6,311.4 129.3,311.4 129.9,311.4 130.6,311.4 131.2,311.4 131.9,311.4 132.5,311.4 133.2,311.4 133.8,311.3 134.5,311.3 135.1,311.3 135.8,311.3 136.4,311.3 137.1,311.3 137.7,311.3 138.4,311.3 139.0,311.3 139.7,311.3 140.3,311.3 141.0,311.3 141.6,311.3 142.3,311.3 142.9,311.3 143.6,311.3 144.2,311.3 144.9,311.3 145.5,311.3 146.2,311.3 146.8,311.3 147.5,311.3 148.1,311.3 148.8,311.3 149.4,311.3 150.1,311.3 150.7,311.3 151.4,311.3 152.0,311.3 152.7,311.3 153.3,311.3 154.0,311.3 154.7,311.2 155.3,311.2 156.0,311.2 156.6,311.2 157.3,311.2 157.9,311.2 158.6,311.2 159.2,311.2 159.9,311.2 160.5,311.2 161.2,311.2 161.8,311.2 162.5,311.2 163.1,311.2 163.8,311.2 164.4,311.2 165.1,311.2 165.7,311.2 166.4,311.2 167.0,311.2 167.7,311.2 168.3,311.2 169.0,311.2 169.6,311.2 170.3,311.2 170.9,311.2 171.6,311.2 172.2,311.2 172.9,311.2 173.5,311.2 174.2,311.2 174.8,311.1 175.5,311.1 176.1,311.1 176.8,311.1 177.4,311.1 178.1,311.1 178.7,311.1 179.4,311.1 180.0,311.1 180.7,311.1 181.3,311.1 182.0,311.1 182.6,311.1 183.3,311.1 183.9,311.1 184.6,311.1 185.2,311.1 185.9,311.1 186.5,311.1 187.2,311.1 187.8,311.1 188.5,311.1 189.1,311.1 189.8,311.1 190.4,311.1 191.1,311.1 191.7,311.1 192.4,311.1 193.0,311.1 193.7,311.1 194.3,311.1 195.0,311.1 195.6,311.0 196.3,311.0 197.0,311.0 197.6,311.0 198.3,311.0 198.9,311.0 199.6,311.0 200.2,311.0 200.9,311.0 201.5,311.0 202.2,311.0 202.8,311.0 203.5,311.0 204.1,311.0 204.8,311.0 205.4,311.0"/>
<polyline fill="none" stroke="#e1a32a" stroke-width="1.5" stroke-linejoin="round" points="23.2,324.9 23.9,324.9 24.5,324.9 25.2,324.9 25.8,324.9 26.5,324.9 27.1,324.9 27.8,324.9 28.4,324.9 29.1,324.8 29.7,324.8 30.4,324.8 31.0,324.8 31.7,324.8 32.3,324.8 33.0,324.8 33.6,324.8 34.3,324.8 34.9,324.8 35.6,324.8 36.2,324.8 36.9,324.8 37.5,324.8 38.2,324.8 38.8,324.8 39.5,324.8 40.1,324.8 40.8,324.8 41.4,324.7 42.1,324.7 42.7,324.7 43.4,324.7 44.0,324.7 44.7,324.7 45.3,324.7 46.0,324.7 46.6,324.7 47.3,324.7 47.9,324.7 48.6,324.7 49.2,324.7 49.9,324.7 50.5,324.7 51.2,324.7 51.8,324.7 52.5,324.7 53.1,324.6 53.8,324.6 54.4,324.6 55.1,324.6 55.7,324.6 56.4,324.6 57.0,324.6 57.7,324.6 58.3,324.6 59.0,324.6 59.6,324.6 60.3,324.6 60.9,324.6 61.6,324.6 62.2,324.6 62.9,324.6 63.5,324.6 64.2,324.5 64.8,324.5 65.5,324.5 66.1,324.5 66.8,324.5 67.5,324.5 68.1,324.5 68.8,324.5 69.4,324.5 70.1,324.5 70.7,324.5 71.4,324.5 72.0,324.5 72.7,324.4 73.3,324.4 74.0,324.4 74.6,324.4 75.3,324.4 75.5,324.4 75.9,324.4 76.3,324.4 76.6,324.4 76.7,324.4 77.1,324.3 77.2,324.3 77.5,324.3 77.9,324.3 78.3,324.3 78.5,324.3 78.6,324.3 79.0,324.3 79.2,324.2 79.4,324.2 79.8,324.2 80.2,324.1 80.5,324.1 80.6,324.1 81.0,324.0 81.1,324.0 81.4,324.0 81.8,323.9 82.2,323.7 82.4,323.6 82.5,323.5 82.9,323.3 83.1,323.2 83.3,323.0 83.7,322.6 84.1,322.2 84.4,321.9 84.5,321.8 84.9,321.6 85.0,321.6 85.3,321.7 85.7,322.1 86.1,322.6 86.3,322.9 86.5,323.0 86.8,323.3 87.0,323.4 87.2,323.5 87.6,323.7 88.0,323.8 88.3,323.9 88.4,323.9 88.8,324.0 88.9,324.0 89.2,324.0 89.6,324.1 90.0,324.1 90.2,324.1 90.4,324.1 90.7,324.1 90.9,324.1 91.1,324.2 91.4,324.2 91.5,324.2 91.9,324.2 91.9,324.2 92.2,324.2 92.3,324.2 92.7,324.2 92.8,324.2 92.8,324.2 93.1,324.2 93.2,324.2 93.5,324.2 93.7,324.2 93.9,324.2 94.1,324.2 94.3,324.2 94.6,324.2 94.8,324.2 95.0,324.2 95.4,324.2 95.5,324.2 96.0,324.2 96.1,324.2 96.4,324.2 96.7,324.2 96.9,324.2 97.3,324.2 97.4,324.2 97.8,324.2 98.0,324.2 98.2,324.1 98.7,324.1 99.1,324.1 99.3,324.1 99.6,324.1 100.0,324.0 100.1,324.0 100.5,323.9 100.6,323.9 101.0,323.8 101.3,323.8 101.4,323.8 101.9,323.7 101.9,323.7 102.3,323.6 102.6,323.6 102.8,323.7 103.2,323.7 103.7,323.8 103.9,323.9 104.2,323.9 104.5,324.0 104.6,324.0 105.1,324.0 105.2,324.0 105.5,324.1 105.8,324.1 106.0,324.1 106.4,324.1 106.5,324.1 106.9,324.1 107.1,324.1 107.3,324.1 107.8,324.1 108.3,324.1 108.4,324.1 108.7,324.1 109.1,324.1 109.2,324.1 109.6,324.1 109.7,324.1 110.1,324.1 110.4,324.1 110.5,324.1 111.0,324.1 111.1,324.1 111.4,324.1 111.7,324.1 111.9,324.1 112.4,324.1 112.8,324.1 113.0,324.1 113.3,324.1 113.7,324.1 114.3,324.1 115.0,324.1 115.6,324.1 116.3,324.1 116.9,324.1 117.6,324.1 118.2,324.1 118.9,324.1 119.5,324.1 120.2,324.1 120.8,324.1 121.5,324.1 122.1,324.1 122.8,324.1 123.4,324.1 124.1,324.1 124.7,324.1 125.4,324.1 126.0,324.0 126.7,324.0 127.3,324.0 128.0,324.0 128.6,324.0 129.3,324.0 129.9,324.0 130.6,324.0 131.2,324.0 131.9,324.0 132.5,324.0 133.2,324.0 133.8,324.0 134.5,324.0 135.1,324.0 135.8,324.0 136.4,324.0 137.1,324.0 137.7,324.0 138.4,323.9 139.0,323.9 139.7,323.9 140.3,323.9 141.0,323.9 141.6,323.9 142.3,323.9 142.9,323.9 143.6,323.9 144.2,323.9 144.9,323.9 145.5,323.9 146.2,323.9 146.8,323.9 147.5,323.9 148.1,323.9 148.8,323.9 149.4,323.9 150.1,323.9 150.7,323.8 151.4,323.8 152.0,323.8 152.7,323.8 153.3,323.8 154.0,323.8 154.7,323.8 155.3,323.8 156.0,323.8 156.6,323.8 157.3,323.8 157.9,323.8 158.6,323.8 159.2,323.8 159.9,323.8 160.5,323.8 161.2,323.8 161.8,323.8 162.5,323.8 163.1,323.7 163.8,323.7 164.4,323.7 165.1,323.7 165.7,323.7 166.4,323.7 167.0,323.7 167.7,323.7 168.3,323.7 169.0,323.7 169.6,323.7 170.3,323.7 170.9,323.7 171.6,323.7 172.2,323.7 172.9,323.7 173.5,323.7 174.2,323.7 174.8,323.7 175.5,323.6 176.1,323.6 176.8,323.6 177.4,323.6 178.1,323.6 178.7,323.6 179.4,323.6 180.0,323.6 180.7,323.6 181.3,323.6 182.0,323.6 182.6,323.6 183.3,323.6 183.9,323.6 184.6,323.6 185.2,323.6 185.9,323.6 186.5,323.6 187.2,323.5 187.8,323.5 188.5,323.5 189.1,323.5 189.8,323.5 190.4,323.5 191.1,323.5 191.7,323.5 192.4,323.5 193.0,323.5 193.7,323.5 194.3,323.5 195.0,323.5 195.6,323.5 196.3,323.5 197.0,323.5 197.6,323.5 198.3,323.5 198.9,323.5 199.6,323.4 200.2,323.4 200.9,323.4 201.5,323.4 202.2,323.4 202.8,323.4 203.5,323.4 204.1,323.4 204.8,323.4 205.4,323.4"/>
<polyline fill="none" stroke="#12e2f4" stroke-width="2.0" stroke-linejoin="round" points="23.2,336.2 23.9,336.2 24.5,336.2 25.2,336.2 25.8,336.2 26.5,336.2 27.1,336.2 27.8,336.2 28.4,336.2 29.1,336.2 29.7,336.2 30.4,336.1 31.0,336.1 31.7,336.1 32.3,336.1 33.0,336.1 33.6,336.1 34.3,336.1 34.9,336.1 35.6,336.1 36.2,336.1 36.9,336.1 37.5,336.1 38.2,336.1 38.8,336.1 39.5,336.1 40.1,336.1 40.8,336.1 41.4,336.1 42.1,336.1 42.7,336.1 43.4,336.1 44.0,336.1 44.7,336.1 45.3,336.0 46.0,336.0 46.6,336.0 47.3,336.0 47.9,336.0 48.6,336.0 49.2,336.0 49.9,336.0 50.5,336.0 51.2,336.0 51.8,336.0 52.5,336.0 53.1,336.0 53.8,336.0 54.4,336.0 55.1,336.0 55.7,336.0 56.4,336.0 57.0,336.0 57.7,336.0 58.3,336.0 59.0,335.9 59.6,335.9 60.3,335.9 60.9,335.9 61.6,335.9 62.2,335.9 62.9,335.9 63.5,335.9 64.2,335.9 64.8,335.9 65.5,335.9 66.1,335.9 66.8,335.9 67.5,335.9 68.1,335.9 68.8,335.9 69.4,335.9 70.1,335.8 70.7,335.8 71.4,335.8 72.0,335.8 72.7,335.8 73.3,335.8 74.0,335.8 74.6,335.8 75.3,335.7 75.9,335.7 76.6,335.7 77.1,335.7 77.2,335.7 77.4,335.7 77.7,335.6 77.9,335.6 78.1,335.6 78.4,335.6 78.5,335.6 78.7,335.6 79.0,335.6 79.2,335.5 79.4,335.5 79.7,335.5 79.8,335.5 80.0,335.4 80.3,335.4 80.5,335.4 80.7,335.3 81.0,335.2 81.1,335.2 81.3,335.1 81.6,335.0 81.8,334.9 82.0,334.8 82.3,334.6 82.4,334.5 82.6,334.4 82.9,334.0 83.1,333.8 83.3,333.5 83.6,332.9 83.7,332.6 83.9,332.1 84.2,331.1 84.4,330.8 84.6,330.3 84.9,330.0 85.0,330.0 85.2,330.3 85.5,331.1 85.7,331.5 85.9,332.1 86.2,332.9 86.3,333.1 86.5,333.5 86.8,334.0 87.0,334.1 87.2,334.3 87.5,334.6 87.6,334.7 87.8,334.8 88.1,335.0 88.3,335.0 88.5,335.1 88.8,335.2 88.9,335.2 89.1,335.2 89.4,335.3 89.6,335.3 89.8,335.3 89.8,335.4 90.1,335.4 90.2,335.4 90.4,335.4 90.4,335.4 90.7,335.5 90.9,335.5 91.1,335.5 91.4,335.5 91.5,335.5 91.7,335.5 91.9,335.5 92.0,335.5 92.2,335.5 92.4,335.5 92.4,335.5 92.7,335.5 92.8,335.5 93.0,335.5 93.5,335.6 94.0,335.6 94.1,335.6 94.5,335.6 94.8,335.6 95.0,335.6 95.4,335.6 95.6,335.6 96.1,335.5 96.6,335.5 96.7,335.5 97.1,335.5 97.4,335.5 97.6,335.5 98.0,335.5 98.2,335.5 98.7,335.4 99.2,335.3 99.3,335.3 99.7,335.3 100.0,335.2 100.2,335.2 100.6,335.0 100.8,335.0 101.3,334.8 101.8,334.7 101.9,334.7 102.3,334.6 102.6,334.7 102.9,334.7 103.2,334.8 103.4,334.8 103.9,335.0 104.4,335.1 104.5,335.2 104.9,335.2 105.2,335.3 105.5,335.3 105.8,335.4 106.0,335.4 106.5,335.4 107.0,335.5 107.1,335.5 107.5,335.5 107.8,335.5 108.1,335.5 108.4,335.5 108.6,335.5 109.1,335.5 109.6,335.5 109.7,335.5 110.1,335.5 110.4,335.5 110.7,335.6 111.1,335.6 111.2,335.6 111.7,335.6 112.2,335.6 112.4,335.6 112.7,335.6 113.0,335.6 113.3,335.6 113.7,335.6 113.8,335.6 114.3,335.6 115.0,335.6 115.6,335.6 116.3,335.6 116.9,335.6 117.6,335.6 118.2,335.5 118.9,335.5 119.5,335.5 120.2,335.5 120.8,335.5 121.5,335.5 122.1,335.5 122.8,335.5 123.4,335.5 124.1,335.5 124.7,335.5 125.4,335.5 126.0,335.5 126.7,335.5 127.3,335.5 128.0,335.5 128.6,335.5 129.3,335.5 129.9,335.5 130.6,335.5 131.2,335.5 131.9,335.5 132.5,335.5 133.2,335.5 133.8,335.5 134.5,335.5 135.1,335.5 135.8,335.5 136.4,335.4 137.1,335.4 137.7,335.4 138.4,335.4 139.0,335.4 139.7,335.4 140.3,335.4 141.0,335.4 141.6,335.4 142.3,335.4 142.9,335.4 143.6,335.4 144.2,335.4 144.9,335.4 145.5,335.4 146.2,335.4 146.8,335.4 147.5,335.4 148.1,335.4 148.8,335.4 149.4,335.4 150.1,335.4 150.7,335.4 151.4,335.4 152.0,335.3 152.7,335.3 153.3,335.3 154.0,335.3 154.7,335.3 155.3,335.3 156.0,335.3 156.6,335.3 157.3,335.3 157.9,335.3 158.6,335.3 159.2,335.3 159.9,335.3 160.5,335.3 161.2,335.3 161.8,335.3 162.5,335.3 163.1,335.3 163.8,335.3 164.4,335.3 165.1,335.3 165.7,335.3 166.4,335.3 167.0,335.3 167.7,335.2 168.3,335.2 169.0,335.2 169.6,335.2 170.3,335.2 170.9,335.2 171.6,335.2 172.2,335.2 172.9,335.2 173.5,335.2 174.2,335.2 174.8,335.2 175.5,335.2 176.1,335.2 176.8,335.2 177.4,335.2 178.1,335.2 178.7,335.2 179.4,335.2 180.0,335.2 180.7,335.2 181.3,335.2 182.0,335.2 182.6,335.1 183.3,335.1 183.9,335.1 184.6,335.1 185.2,335.1 185.9,335.1 186.5,335.1 187.2,335.1 187.8,335.1 188.5,335.1 189.1,335.1 189.8,335.1 190.4,335.1 191.1,335.1 191.7,335.1 192.4,335.1 193.0,335.1 193.7,335.1 194.3,335.1 195.0,335.1 195.6,335.1 196.3,335.1 197.0,335.1 197.6,335.1 198.3,335.0 198.9,335.0 199.6,335.0 200.2,335.0 200.9,335.0 201.5,335.0 202.2,335.0 202.8,335.0 203.5,335.0 204.1,335.0 204.8,335.0 205.4,335.0"/>
<circle cx="87.5" cy="199.6" r="2.85" fill="#7a78da"/>
<circle cx="87.5" cy="206.8" r="2.85" fill="#0c1565"/>
<path d="M87.5 210.2L90.4 213.1L87.5 216.0L84.6 213.1Z" fill="#1a72d8"/>
<path d="M87.5 216.7L90.2 221.6L84.8 221.6Z" fill="#fff" stroke="#e2e2e2" stroke-width="0.7"/>
<rect x="79.2" y="213.8" width="5.7" height="5.7" fill="#b4b4b4"/>
<polygon points="82.00,220.50 82.79,222.41 84.85,222.57 83.28,223.92 83.76,225.93 82.00,224.85 80.24,225.93 80.72,223.92 79.15,222.57 81.21,222.41" fill="#f6efa8"/>
<circle cx="79.2" cy="241.0" r="2.85" fill="#7a78da"/>
<rect x="92.1" y="238.2" width="5.7" height="5.7" fill="#b4b4b4"/>
<rect x="100.0" y="227.2" width="5.7" height="5.7" fill="#b4b4b4"/>
<polygon points="102.80,234.30 103.59,236.21 105.65,236.37 104.08,237.72 104.56,239.73 102.80,238.65 101.04,239.73 101.52,237.72 99.95,236.37 102.01,236.21" fill="#f6efa8"/>
<circle cx="108.0" cy="221.3" r="2.85" fill="#7a78da"/>
<circle cx="108.0" cy="227.6" r="2.85" fill="#0c1565"/>
<path d="M108.0 231.3L110.9 234.2L108.0 237.1L105.1 234.2Z" fill="#1a72d8"/>
<path d="M108.0 237.2L110.7 242.1L105.3 242.1Z" fill="#fff" stroke="#e2e2e2" stroke-width="0.7"/>
<circle cx="139.9" cy="234.8" r="2.85" fill="#0c1565"/>
<path d="M139.9 239.2L142.8 242.1L139.9 245.0L137.0 242.1Z" fill="#1a72d8"/>
<rect x="161.3" y="230.7" width="5.7" height="5.7" fill="#b4b4b4"/>
<polygon points="164.20,238.30 164.99,240.21 167.05,240.37 165.48,241.72 165.96,243.73 164.20,242.65 162.44,243.73 162.92,241.72 161.35,240.37 163.41,240.21" fill="#f6efa8"/>
<circle cx="170.9" cy="220.0" r="2.85" fill="#7a78da"/>
<circle cx="170.9" cy="226.7" r="2.85" fill="#0c1565"/>
<path d="M170.9 231.1L173.8 234.0L170.9 236.9L168.0 234.0Z" fill="#1a72d8"/>
<path d="M170.9 237.5L173.6 242.4L168.2 242.4Z" fill="#fff" stroke="#e2e2e2" stroke-width="0.7"/>
<circle cx="184.9" cy="234.0" r="2.85" fill="#0c1565"/>
<path d="M184.9 239.2L187.8 242.1L184.9 245.0L182.0 242.1Z" fill="#1a72d8"/>
<circle cx="96.8" cy="201.0" r="2.85" fill="#7a78da"/>
<text x="100.2" y="204.2" font-family="Liberation Serif" font-weight="bold" stroke="#111" stroke-width="0.3" font-size="9.5" fill="#111">-Co</text>
<polygon points="117.80,198.30 118.59,200.21 120.65,200.37 119.08,201.72 119.56,203.73 117.80,202.65 116.04,203.73 116.52,201.72 114.95,200.37 117.01,200.21" fill="#f6efa8"/>
<text x="120.8" y="204.2" font-family="Liberation Serif" font-weight="bold" stroke="#111" stroke-width="0.3" font-size="9.5" fill="#111">-Cu</text>
<rect x="137.1" y="198.2" width="5.7" height="5.7" fill="#b4b4b4"/>
<text x="143.6" y="204.2" font-family="Liberation Serif" font-weight="bold" stroke="#111" stroke-width="0.3" font-size="9.5" fill="#111">-Mn</text>
<path d="M165.5 198.3L168.2 203.2L162.8 203.2Z" fill="#fff" stroke="#e2e2e2" stroke-width="0.7"/>
<text x="169.4" y="204.2" font-family="Liberation Serif" font-weight="bold" stroke="#111" stroke-width="0.3" font-size="9.5" fill="#111">-Ni</text>
<path d="M185.6 198.1L188.5 201.0L185.6 203.9L182.7 201.0Z" fill="#1a72d8"/>
<text x="189.6" y="204.2" font-family="Liberation Serif" font-weight="bold" stroke="#111" stroke-width="0.3" font-size="9.5" fill="#111">-Cr</text>
<circle cx="96.8" cy="211.9" r="2.85" fill="#0c1565"/>
<text x="100.2" y="215.1" font-family="Liberation Serif" font-weight="bold" stroke="#111" stroke-width="0.3" font-size="9.5" fill="#111">-Fe</text>
<text x="118.3" y="215.1" font-family="Liberation Serif" font-weight="bold" stroke="#111" stroke-width="0.3" font-size="9.5" fill="#111">F-FCC</text>
<text x="149.9" y="215.1" font-family="Liberation Serif" font-weight="bold" stroke="#111" stroke-width="0.3" font-size="9.5" fill="#111">B-BCC</text>
<path d="M23.2 195.5H205.4V341.0H23.2Z" fill="none" stroke="#111" stroke-width="1.5"/>
<path d="M23.2 341.0V337.2M36.2 341.0V338.7M49.2 341.0V337.2M62.2 341.0V338.7M75.3 341.0V337.2M88.3 341.0V338.7M101.3 341.0V337.2M114.3 341.0V338.7M127.3 341.0V337.2M140.3 341.0V338.7M153.3 341.0V337.2M166.4 341.0V338.7M179.4 341.0V337.2M192.4 341.0V338.7M205.4 341.0V337.2" stroke="#1a1a1a" stroke-width="1.1"/>
<text x="23.6" y="350.3" font-family="Liberation Serif" font-weight="bold" stroke="#111" stroke-width="0.3" font-size="9.8" text-anchor="middle" fill="#111">20</text>
<text x="49.6" y="350.3" font-family="Liberation Serif" font-weight="bold" stroke="#111" stroke-width="0.3" font-size="9.8" text-anchor="middle" fill="#111">30</text>
<text x="75.7" y="350.3" font-family="Liberation Serif" font-weight="bold" stroke="#111" stroke-width="0.3" font-size="9.8" text-anchor="middle" fill="#111">40</text>
<text x="101.7" y="350.3" font-family="Liberation Serif" font-weight="bold" stroke="#111" stroke-width="0.3" font-size="9.8" text-anchor="middle" fill="#111">50</text>
<text x="127.7" y="350.3" font-family="Liberation Serif" font-weight="bold" stroke="#111" stroke-width="0.3" font-size="9.8" text-anchor="middle" fill="#111">60</text>
<text x="153.8" y="350.3" font-family="Liberation Serif" font-weight="bold" stroke="#111" stroke-width="0.3" font-size="9.8" text-anchor="middle" fill="#111">70</text>
<text x="179.8" y="350.3" font-family="Liberation Serif" font-weight="bold" stroke="#111" stroke-width="0.3" font-size="9.8" text-anchor="middle" fill="#111">80</text>
<text x="205.8" y="350.3" font-family="Liberation Serif" font-weight="bold" stroke="#111" stroke-width="0.3" font-size="9.8" text-anchor="middle" fill="#111">90</text>
<text x="76.5" y="364.0" font-family="Liberation Serif" font-weight="bold" stroke="#111" stroke-width="0.3" font-size="13" fill="#111">2</text>
<text x="88.0" y="364.1" font-family="Liberation Serif" font-weight="bold" stroke="#111" stroke-width="0.3" font-style="italic" font-size="14" fill="#111">&#952;</text>
<text x="97.4" y="364.0" font-family="Liberation Serif" font-weight="bold" stroke="#111" stroke-width="0.3" font-size="13.8" fill="#111">(degree)</text>
<text transform="translate(17.6 332.4) rotate(-90) scale(1 0.93)" font-family="Liberation Serif" font-weight="bold" stroke="#111" stroke-width="0.3" font-size="13.65" fill="#111">Intensity (arb.units)</text>
<text x="24.6" y="210.5" font-family="Liberation Serif" font-weight="bold" stroke="#111" stroke-width="0.3" font-size="16" fill="#111">(c)</text>
<text x="204.8" y="243.9" font-family="Liberation Serif" font-weight="bold" stroke="#111" stroke-width="0.3" font-size="8.6" text-anchor="end" fill="#111">0 h</text>
<text x="204.8" y="254.6" font-family="Liberation Serif" font-weight="bold" stroke="#111" stroke-width="0.3" font-size="8.6" text-anchor="end" fill="#111">5 h</text>
<text x="204.8" y="264.1" font-family="Liberation Serif" font-weight="bold" stroke="#111" stroke-width="0.3" font-size="8.6" text-anchor="end" fill="#111">10 h</text>
<text x="204.8" y="274.2" font-family="Liberation Serif" font-weight="bold" stroke="#111" stroke-width="0.3" font-size="8.6" text-anchor="end" fill="#111">15 h</text>
<text x="204.8" y="308.3" font-family="Liberation Serif" font-weight="bold" stroke="#111" stroke-width="0.3" font-size="8.6" text-anchor="end" fill="#111">30 h</text>
<text x="204.8" y="319.8" font-family="Liberation Serif" font-weight="bold" stroke="#111" stroke-width="0.3" font-size="8.6" text-anchor="end" fill="#111">45 h</text>
<text x="204.8" y="331.9" font-family="Liberation Serif" font-weight="bold" stroke="#111" stroke-width="0.3" font-size="8.6" text-anchor="end" fill="#111">50 h</text>
<text transform="translate(85.5 286.7) scale(0.85 1)" font-family="Liberation Serif" font-weight="bold" stroke="#111" stroke-width="0.3" font-size="9.6" text-anchor="middle" fill="#111">F</text>
<text transform="translate(87.8 308.1) rotate(-90) scale(1 0.84)" font-family="Liberation Serif" font-weight="bold" stroke="#111" stroke-width="0.3" font-size="8.8" fill="#111">(111)</text>
<text transform="translate(104.7 287.6) scale(0.85 1)" font-family="Liberation Serif" font-weight="bold" stroke="#111" stroke-width="0.3" font-size="9.6" text-anchor="middle" fill="#111">F</text>
<text transform="translate(106.5 308.5) rotate(-90) scale(1 0.84)" font-family="Liberation Serif" font-weight="bold" stroke="#111" stroke-width="0.3" font-size="8.8" fill="#111">(200)</text>
<text transform="translate(166.4 288.3) scale(0.85 1)" font-family="Liberation Serif" font-weight="bold" stroke="#111" stroke-width="0.3" font-size="9.6" text-anchor="middle" fill="#111">F</text>
<text transform="translate(168.9 309.0) rotate(-90) scale(1 0.84)" font-family="Liberation Serif" font-weight="bold" stroke="#111" stroke-width="0.3" font-size="8.8" fill="#111">(220)</text>
<rect x="342.6" y="196.7" width="90.5" height="21.0" fill="#fff" stroke="#a0a0a0" stroke-width="0.8"/>
<polyline fill="none" stroke="#5a5a5a" stroke-width="1.0" stroke-linejoin="round" points="250.9,250.6 251.6,250.6 252.2,250.6 252.9,250.6 253.5,250.6 254.2,250.7 254.8,250.7 255.5,250.7 256.1,250.7 256.8,250.7 257.4,250.7 258.1,250.7 258.7,250.7 259.4,250.8 260.0,250.8 260.7,250.8 261.3,250.8 262.0,250.8 262.6,250.8 263.3,250.8 263.9,250.8 264.6,250.9 265.2,250.9 265.9,250.9 266.5,250.9 267.2,250.9 267.8,250.9 268.5,250.9 269.1,250.9 269.8,250.9 270.4,251.0 271.1,251.0 271.7,251.0 272.4,251.0 273.0,251.0 273.7,251.0 274.3,251.0 275.0,251.0 275.6,251.1 276.3,251.1 276.9,251.1 277.6,251.1 278.2,251.1 278.9,251.1 279.5,251.1 280.2,251.1 280.8,251.2 281.5,251.2 282.1,251.2 282.8,251.2 283.4,251.2 284.1,251.2 284.7,251.2 285.4,251.2 286.0,251.2 286.7,251.3 287.3,251.3 288.0,251.3 288.6,251.3 289.3,251.3 289.9,251.3 290.6,251.3 291.2,251.3 291.9,251.4 292.5,251.4 293.2,251.4 293.8,251.4 294.5,251.4 295.2,251.4 295.8,251.4 296.5,251.4 297.1,251.5 297.8,251.5 298.4,251.5 299.1,251.5 299.7,251.5 300.4,251.5 301.0,251.5 301.7,251.5 302.3,251.5 303.0,251.6 303.6,251.6 304.3,251.6 304.9,251.6 305.6,251.6 306.2,251.6 306.9,251.6 307.5,251.6 308.2,251.7 308.8,251.7 309.5,251.7 309.5,251.7 309.6,251.7 309.7,251.7 309.8,251.7 309.9,251.7 309.9,251.7 310.0,251.7 310.1,251.7 310.1,251.7 310.2,251.7 310.3,251.7 310.4,251.7 310.5,251.7 310.6,251.7 310.7,251.6 310.8,251.4 310.9,251.0 311.0,250.3 311.0,249.0 311.1,246.9 311.2,243.9 311.3,240.2 311.4,236.1 311.4,235.6 311.5,232.4 311.6,229.7 311.7,228.7 311.8,229.7 311.9,232.4 312.0,236.2 312.0,240.2 312.1,241.3 312.1,243.9 312.2,246.9 312.3,249.0 312.4,250.3 312.5,251.0 312.6,251.4 312.6,251.5 312.7,251.6 312.7,251.6 312.7,251.7 312.8,251.7 312.8,251.7 312.9,251.7 312.9,251.7 313.0,251.7 313.0,251.7 313.0,251.7 313.1,251.7 313.1,251.7 313.2,251.7 313.2,251.7 313.3,251.7 313.3,251.8 313.3,251.8 313.4,251.8 313.4,251.8 313.4,251.8 313.5,251.8 313.5,251.7 313.6,251.7 313.6,251.7 313.7,251.7 313.7,251.7 313.8,251.6 313.8,251.6 313.9,251.4 314.0,250.9 314.0,250.5 314.1,249.9 314.2,248.2 314.3,245.6 314.3,241.8 314.4,237.0 314.5,231.8 314.6,227.0 314.7,224.8 314.7,223.5 314.8,222.3 314.9,223.5 315.0,227.0 315.1,231.8 315.2,237.0 315.3,241.8 315.3,244.6 315.4,245.6 315.4,248.3 315.5,249.9 315.6,250.9 315.7,251.4 315.8,251.6 315.9,251.7 316.0,251.8 316.0,251.8 316.1,251.8 316.2,251.8 316.3,251.8 316.4,251.8 316.4,251.8 316.5,251.8 316.6,251.8 316.7,251.8 316.8,251.8 316.9,251.8 317.3,251.8 317.9,251.9 318.6,251.9 319.2,251.9 319.9,251.9 320.5,251.9 321.2,251.9 321.8,252.0 322.5,252.0 323.1,252.0 323.8,252.0 324.4,252.0 325.1,252.0 325.7,252.1 326.4,252.1 327.0,252.1 327.7,252.1 328.0,252.1 328.1,252.1 328.2,252.1 328.2,252.1 328.3,252.1 328.4,252.1 328.5,252.1 328.6,252.1 328.7,252.1 328.8,252.1 328.9,252.1 329.0,252.1 329.0,252.1 329.1,252.1 329.2,252.1 329.3,252.1 329.3,251.9 329.4,251.7 329.5,251.3 329.6,250.7 329.6,250.5 329.7,249.8 329.8,248.7 329.9,247.4 330.0,246.3 330.1,245.5 330.2,245.2 330.3,245.5 330.3,245.8 330.3,246.3 330.4,247.4 330.5,248.7 330.6,249.8 330.7,250.7 330.8,251.3 330.9,251.8 330.9,251.9 331.0,252.0 331.1,252.1 331.2,252.2 331.3,252.2 331.3,252.2 331.4,252.2 331.5,252.2 331.5,252.2 331.6,252.2 331.6,252.2 331.6,252.2 331.7,252.2 331.7,252.2 331.8,252.2 331.8,252.2 331.9,252.2 331.9,252.2 331.9,252.2 332.0,252.2 332.0,252.2 332.1,252.2 332.1,252.2 332.2,252.2 332.2,252.2 332.2,252.2 332.3,252.2 332.3,252.2 332.4,252.2 332.5,252.2 332.6,252.2 332.7,252.2 332.8,252.1 332.9,252.0 332.9,251.9 332.9,251.7 333.0,251.2 333.1,250.4 333.2,249.2 333.3,247.8 333.4,246.2 333.5,244.7 333.5,244.0 333.6,243.6 333.7,243.3 333.8,243.6 333.9,244.7 333.9,246.2 334.0,247.8 334.1,249.2 334.2,250.1 334.2,250.4 334.3,251.2 334.4,251.7 334.5,252.0 334.6,252.2 334.7,252.2 334.8,252.3 334.8,252.3 334.9,252.3 335.0,252.3 335.0,252.3 335.1,252.3 335.2,252.3 335.3,252.3 335.4,252.3 335.5,252.3 335.6,252.3 335.7,252.3 335.8,252.3 336.1,252.3 336.8,252.3 337.4,252.4 338.1,252.4 338.8,252.4 339.4,252.4 340.1,252.4 340.7,252.4 341.4,252.5 342.0,252.5 342.7,252.5 343.3,252.5 344.0,252.5 344.6,252.5 345.3,252.6 345.9,252.6 346.6,252.6 347.2,252.6 347.9,252.6 348.5,252.7 349.2,252.7 349.8,252.7 350.5,252.7 351.1,252.7 351.8,252.7 352.4,252.8 353.1,252.8 353.7,252.8 354.4,252.8 355.0,252.8 355.7,252.8 356.3,252.9 357.0,252.9 357.6,252.9 358.3,252.9 358.9,252.9 359.6,252.9 360.2,253.0 360.9,253.0 361.5,253.0 362.2,253.0 362.8,253.0 363.5,253.0 364.1,253.1 364.8,253.1 365.4,253.1 366.1,253.1 366.7,253.1 367.4,253.1 368.0,253.2 368.7,253.2 369.3,253.2 370.0,253.2 370.6,253.2 371.3,253.2 371.9,253.3 372.6,253.3 373.2,253.3 373.9,253.3 374.5,253.3 375.2,253.3 375.8,253.4 376.5,253.4 377.1,253.4 377.8,253.4 378.4,253.4 379.1,253.4 379.7,253.5 380.4,253.5 381.1,253.5 381.7,253.5 382.4,253.6 383.0,253.6 383.7,253.6 384.3,253.7 385.0,253.7 385.6,253.7 386.3,253.8 386.9,253.8 387.6,253.8 388.2,253.8 388.9,253.9 389.0,253.9 389.1,253.9 389.3,253.9 389.4,253.9 389.5,253.9 389.6,253.9 389.8,253.9 389.9,253.9 390.0,253.9 390.1,253.9 390.2,253.9 390.3,253.9 390.4,253.9 390.5,253.9 390.6,253.9 390.7,253.9 390.8,253.9 390.9,253.9 391.0,253.9 391.1,253.7 391.2,253.6 391.4,253.3 391.5,253.1 391.5,253.0 391.6,252.6 391.7,252.3 391.9,252.1 392.0,252.0 392.1,252.1 392.1,252.1 392.2,252.4 392.4,252.7 392.5,253.0 392.6,253.4 392.7,253.6 392.8,253.7 392.8,253.8 393.0,253.9 393.1,254.0 393.2,254.1 393.3,254.1 393.4,254.1 393.5,254.1 393.6,254.1 393.7,254.1 393.8,254.1 394.0,254.1 394.1,254.1 394.1,254.1 394.2,254.1 394.3,254.1 394.5,254.1 394.6,254.1 394.7,254.2 394.7,254.2 394.8,254.2 395.0,254.2 395.0,254.2 395.1,254.2 395.2,254.2 395.4,254.2 395.4,254.2 395.5,254.2 395.6,254.2 395.7,254.2 395.9,254.2 396.0,254.2 396.0,254.2 396.1,254.2 396.2,254.2 396.4,254.2 396.5,254.2 396.6,254.2 396.7,254.2 396.7,254.2 396.9,254.2 397.0,254.1 397.1,254.0 397.2,253.9 397.3,253.7 397.4,253.6 397.5,253.3 397.6,252.9 397.7,252.6 397.8,252.4 398.0,252.3 398.1,252.4 398.2,252.6 398.3,253.0 398.5,253.3 398.6,253.7 398.6,253.7 398.7,253.9 398.8,254.1 399.0,254.2 399.1,254.3 399.2,254.3 399.3,254.4 399.3,254.4 399.5,254.4 399.6,254.4 399.7,254.4 399.8,254.4 399.9,254.4 399.9,254.4 400.1,254.4 400.2,254.4 400.3,254.4 400.4,254.4 400.6,254.4 400.6,254.4 400.7,254.4 400.8,254.4 400.9,254.5 401.2,254.5 401.9,254.5 402.5,254.5 403.2,254.6 403.8,254.6 404.5,254.6 405.1,254.7 405.8,254.7 406.4,254.7 407.1,254.8 407.7,254.8 408.4,254.8 409.0,254.8 409.7,254.9 410.3,254.9 411.0,254.9 411.6,255.0 412.3,255.0 412.9,255.0 413.6,255.1 414.2,255.1 414.9,255.1 415.5,255.2 416.2,255.2 416.8,255.2 417.5,255.2 418.1,255.3 418.8,255.3 419.4,255.3 420.1,255.4 420.7,255.4 421.4,255.4 422.0,255.5 422.7,255.5 423.3,255.5 424.0,255.6 424.7,255.6 425.3,255.6 426.0,255.7 426.6,255.7 427.3,255.7 427.9,255.8 428.6,255.8 429.2,255.8 429.9,255.8 430.5,255.9 431.2,255.9 431.8,255.9 432.5,256.0 433.1,256.0"/>
<polyline fill="none" stroke="#262626" stroke-width="1.15" points="250.9,250.6 251.6,250.6 252.2,250.6 252.9,250.6 253.5,250.6 254.2,250.7 254.8,250.7 255.5,250.7 256.1,250.7 256.8,250.7 257.4,250.7 258.1,250.7 258.7,250.7 259.4,250.8 260.0,250.8 260.7,250.8 261.3,250.8 262.0,250.8 262.6,250.8 263.3,250.8 263.9,250.8 264.6,250.9 265.2,250.9 265.9,250.9 266.5,250.9 267.2,250.9 267.8,250.9 268.5,250.9 269.1,250.9 269.8,250.9 270.4,251.0 271.1,251.0 271.7,251.0 272.4,251.0 273.0,251.0 273.7,251.0 274.3,251.0 275.0,251.0 275.6,251.1 276.3,251.1 276.9,251.1 277.6,251.1 278.2,251.1 278.9,251.1 279.5,251.1 280.2,251.1 280.8,251.2 281.5,251.2 282.1,251.2 282.8,251.2 283.4,251.2 284.1,251.2 284.7,251.2 285.4,251.2 286.0,251.2 286.7,251.3 287.3,251.3 288.0,251.3 288.6,251.3 289.3,251.3 289.9,251.3 290.6,251.3 291.2,251.3 291.9,251.4 292.5,251.4 293.2,251.4 293.8,251.4 294.5,251.4 295.2,251.4 295.8,251.4 296.5,251.4 297.1,251.5 297.8,251.5 298.4,251.5 299.1,251.5 299.7,251.5 300.4,251.5 301.0,251.5 301.7,251.5 302.3,251.5 303.0,251.6 303.6,251.6 304.3,251.6 304.9,251.6 305.6,251.6 306.2,251.6 306.9,251.6 307.5,251.6 308.2,251.7 308.8,251.7 309.5,251.7 310.1,251.7 310.8,251.7 311.4,251.7 312.1,251.7 312.7,251.7 313.4,251.8 314.0,251.8 314.7,251.8 315.3,251.8 316.0,251.8 316.6,251.8 317.3,251.8 317.9,251.9 318.6,251.9 319.2,251.9 319.9,251.9 320.5,251.9 321.2,251.9 321.8,252.0 322.5,252.0 323.1,252.0 323.8,252.0 324.4,252.0 325.1,252.0 325.7,252.1 326.4,252.1 327.0,252.1 327.7,252.1 328.3,252.1 329.0,252.1 329.6,252.2 330.3,252.2 330.9,252.2 331.6,252.2 332.2,252.2 332.9,252.2 333.5,252.3 334.2,252.3 334.8,252.3 335.5,252.3 336.1,252.3 336.8,252.3 337.4,252.4 338.1,252.4 338.8,252.4 339.4,252.4 340.1,252.4 340.7,252.4 341.4,252.5 342.0,252.5 342.7,252.5 343.3,252.5 344.0,252.5 344.6,252.5 345.3,252.6 345.9,252.6 346.6,252.6 347.2,252.6 347.9,252.6 348.5,252.7 349.2,252.7 349.8,252.7 350.5,252.7 351.1,252.7 351.8,252.7 352.4,252.8 353.1,252.8 353.7,252.8 354.4,252.8 355.0,252.8 355.7,252.8 356.3,252.9 357.0,252.9 357.6,252.9 358.3,252.9 358.9,252.9 359.6,252.9 360.2,253.0 360.9,253.0 361.5,253.0 362.2,253.0 362.8,253.0 363.5,253.0 364.1,253.1 364.8,253.1 365.4,253.1 366.1,253.1 366.7,253.1 367.4,253.1 368.0,253.2 368.7,253.2 369.3,253.2 370.0,253.2 370.6,253.2 371.3,253.2 371.9,253.3 372.6,253.3 373.2,253.3 373.9,253.3 374.5,253.3 375.2,253.3 375.8,253.4 376.5,253.4 377.1,253.4 377.8,253.4 378.4,253.4 379.1,253.4 379.7,253.5 380.4,253.5 381.1,253.5 381.7,253.5 382.4,253.6 383.0,253.6 383.7,253.6 384.3,253.7 385.0,253.7 385.6,253.7 386.3,253.8 386.9,253.8 387.6,253.8 388.2,253.8 388.9,253.9 389.5,253.9 390.2,253.9 390.8,254.0 391.5,254.0 392.1,254.0 392.8,254.1 393.4,254.1 394.1,254.1 394.7,254.2 395.4,254.2 396.0,254.2 396.7,254.2 397.3,254.3 398.0,254.3 398.6,254.3 399.3,254.4 399.9,254.4 400.6,254.4 401.2,254.5 401.9,254.5 402.5,254.5 403.2,254.6 403.8,254.6 404.5,254.6 405.1,254.7 405.8,254.7 406.4,254.7 407.1,254.8 407.7,254.8 408.4,254.8 409.0,254.8 409.7,254.9 410.3,254.9 411.0,254.9 411.6,255.0 412.3,255.0 412.9,255.0 413.6,255.1 414.2,255.1 414.9,255.1 415.5,255.2 416.2,255.2 416.8,255.2 417.5,255.2 418.1,255.3 418.8,255.3 419.4,255.3 420.1,255.4 420.7,255.4 421.4,255.4 422.0,255.5 422.7,255.5 423.3,255.5 424.0,255.6 424.7,255.6 425.3,255.6 426.0,255.7 426.6,255.7 427.3,255.7 427.9,255.8 428.6,255.8 429.2,255.8 429.9,255.8 430.5,255.9 431.2,255.9 431.8,255.9 432.5,256.0 433.1,256.0"/>
<polyline fill="none" stroke="#f4403c" stroke-width="1.4" stroke-linejoin="round" points="250.9,265.7 251.6,265.7 252.2,265.7 252.9,265.7 253.5,265.7 254.2,265.7 254.8,265.7 255.5,265.7 256.1,265.7 256.8,265.7 257.4,265.7 258.1,265.7 258.7,265.7 259.4,265.7 260.0,265.7 260.7,265.7 261.3,265.7 262.0,265.7 262.6,265.7 263.3,265.7 263.9,265.7 264.6,265.7 265.2,265.7 265.9,265.7 266.5,265.7 267.2,265.8 267.8,265.8 268.5,265.8 269.1,265.8 269.8,265.8 270.4,265.8 271.1,265.8 271.7,265.8 272.4,265.8 273.0,265.8 273.7,265.8 274.3,265.8 275.0,265.8 275.6,265.8 276.3,265.8 276.9,265.8 277.6,265.8 278.2,265.8 278.9,265.8 279.5,265.8 280.2,265.8 280.8,265.8 281.5,265.8 282.1,265.8 282.8,265.8 283.4,265.8 284.1,265.8 284.7,265.8 285.4,265.8 286.0,265.8 286.7,265.8 287.3,265.8 288.0,265.8 288.6,265.8 289.3,265.8 289.9,265.8 290.6,265.8 291.2,265.8 291.9,265.8 292.5,265.8 293.2,265.8 293.8,265.8 294.5,265.8 295.2,265.8 295.8,265.8 296.5,265.8 297.1,265.8 297.8,265.8 298.4,265.8 299.1,265.8 299.7,265.8 300.4,265.8 301.0,265.8 301.7,265.8 302.3,265.8 303.0,265.8 303.6,265.8 304.0,265.8 304.3,265.8 304.4,265.8 304.8,265.8 304.9,265.8 305.2,265.8 305.6,265.8 306.0,265.8 306.2,265.8 306.3,265.8 306.7,265.8 306.9,265.7 307.1,265.7 307.5,265.7 307.9,265.7 308.2,265.7 308.3,265.7 308.7,265.6 308.8,265.6 309.1,265.6 309.5,265.5 309.9,265.5 310.1,265.4 310.2,265.4 310.6,265.3 310.8,265.2 311.0,265.1 311.4,264.9 311.8,264.6 312.1,264.4 312.2,264.3 312.6,263.9 312.7,263.8 313.0,263.5 313.4,263.4 313.8,263.6 314.0,263.8 314.2,263.9 314.5,264.3 314.7,264.4 314.9,264.7 315.3,264.9 315.7,265.1 316.0,265.2 316.1,265.3 316.5,265.4 316.6,265.4 316.9,265.5 317.3,265.6 317.7,265.6 317.9,265.7 318.1,265.7 318.4,265.7 318.6,265.7 318.8,265.7 319.2,265.8 319.6,265.8 319.9,265.8 320.0,265.8 320.4,265.8 320.5,265.8 320.7,265.8 320.8,265.8 321.1,265.8 321.2,265.8 321.4,265.8 321.6,265.8 321.8,265.8 322.0,265.8 322.2,265.8 322.4,265.8 322.5,265.8 322.6,265.8 322.7,265.9 323.0,265.9 323.1,265.9 323.4,265.9 323.8,265.9 324.2,265.9 324.4,265.9 324.6,265.9 325.0,265.9 325.1,265.9 325.3,265.9 325.7,265.9 326.1,265.9 326.4,265.9 326.5,265.8 326.9,265.8 327.0,265.8 327.3,265.8 327.7,265.8 328.1,265.8 328.3,265.7 328.5,265.7 328.9,265.7 329.0,265.7 329.3,265.6 329.6,265.6 330.0,265.5 330.3,265.6 330.4,265.6 330.8,265.6 330.9,265.6 331.2,265.7 331.6,265.7 332.0,265.8 332.2,265.8 332.4,265.8 332.8,265.9 332.9,265.9 333.2,265.9 333.5,265.9 333.9,265.9 334.2,265.9 334.3,265.9 334.7,265.9 334.8,265.9 335.1,265.9 335.5,265.9 335.9,265.9 336.1,265.9 336.3,265.9 336.7,266.0 336.8,266.0 337.1,266.0 337.4,266.0 337.8,266.0 338.1,266.0 338.2,266.0 338.6,266.0 338.8,266.0 339.0,266.0 339.4,266.0 340.1,266.0 340.7,266.0 341.4,266.0 342.0,266.0 342.7,266.0 343.3,266.0 344.0,266.0 344.6,266.0 345.3,266.0 345.9,266.0 346.6,266.0 347.2,266.0 347.9,266.0 348.5,266.0 349.2,266.0 349.8,266.0 350.5,266.0 351.1,266.0 351.8,266.0 352.4,266.0 353.1,266.0 353.7,266.0 354.4,266.0 355.0,266.0 355.7,266.0 356.3,266.0 357.0,266.0 357.6,266.0 358.3,266.0 358.9,266.1 359.6,266.1 360.2,266.1 360.9,266.1 361.5,266.1 362.2,266.1 362.8,266.1 363.5,266.1 364.1,266.1 364.8,266.1 365.4,266.1 366.1,266.1 366.7,266.1 367.4,266.1 368.0,266.1 368.7,266.1 369.3,266.1 370.0,266.1 370.6,266.1 371.3,266.1 371.9,266.1 372.6,266.1 373.2,266.1 373.9,266.1 374.5,266.1 375.2,266.1 375.8,266.1 376.5,266.1 377.1,266.1 377.8,266.1 378.4,266.1 379.1,266.1 379.7,266.1 380.4,266.1 381.1,266.1 381.7,266.1 382.4,266.1 383.0,266.1 383.7,266.1 384.3,266.1 385.0,266.1 385.6,266.1 386.3,266.1 386.9,266.1 387.6,266.1 388.2,266.2 388.9,266.2 389.5,266.2 390.2,266.2 390.8,266.2 391.5,266.2 392.1,266.2 392.8,266.2 393.4,266.2 394.1,266.2 394.7,266.2 395.4,266.2 396.0,266.2 396.7,266.2 397.3,266.2 398.0,266.2 398.6,266.2 399.3,266.2 399.9,266.2 400.6,266.2 401.2,266.2 401.9,266.2 402.5,266.2 403.2,266.2 403.8,266.2 404.5,266.2 405.1,266.2 405.8,266.2 406.4,266.2 407.1,266.2 407.7,266.2 408.4,266.2 409.0,266.2 409.7,266.2 410.3,266.2 411.0,266.2 411.6,266.2 412.3,266.2 412.9,266.2 413.6,266.2 414.2,266.2 414.9,266.2 415.5,266.2 416.2,266.2 416.8,266.2 417.5,266.2 418.1,266.3 418.8,266.3 419.4,266.3 420.1,266.3 420.7,266.3 421.4,266.3 422.0,266.3 422.7,266.3 423.3,266.3 424.0,266.3 424.7,266.3 425.3,266.3 426.0,266.3 426.6,266.3 427.3,266.3 427.9,266.3 428.6,266.3 429.2,266.3 429.9,266.3 430.5,266.3 431.2,266.3 431.8,266.3 432.5,266.3 433.1,266.3"/>
<polyline fill="none" stroke="#2f7fe4" stroke-width="1.6" stroke-linejoin="round" points="250.9,274.7 251.6,274.7 252.2,274.7 252.9,274.7 253.5,274.7 254.2,274.7 254.8,274.7 255.5,274.7 256.1,274.7 256.8,274.7 257.4,274.7 258.1,274.7 258.7,274.7 259.4,274.7 260.0,274.7 260.7,274.7 261.3,274.7 262.0,274.7 262.6,274.7 263.3,274.7 263.9,274.7 264.6,274.7 265.2,274.7 265.9,274.7 266.5,274.7 267.2,274.7 267.8,274.7 268.5,274.7 269.1,274.7 269.8,274.7 270.4,274.8 271.1,274.8 271.7,274.8 272.4,274.8 273.0,274.8 273.7,274.8 274.3,274.8 275.0,274.8 275.6,274.8 276.3,274.8 276.9,274.8 277.6,274.8 278.2,274.8 278.9,274.8 279.5,274.8 280.2,274.8 280.8,274.8 281.5,274.8 282.1,274.8 282.8,274.8 283.4,274.8 284.1,274.8 284.7,274.8 285.4,274.8 286.0,274.8 286.7,274.8 287.3,274.8 288.0,274.8 288.6,274.8 289.3,274.8 289.9,274.8 290.6,274.8 291.2,274.8 291.9,274.8 292.5,274.8 293.2,274.8 293.8,274.8 294.5,274.8 295.2,274.8 295.8,274.8 296.5,274.8 297.1,274.8 297.8,274.8 298.4,274.8 299.1,274.8 299.7,274.8 300.4,274.8 301.0,274.8 301.7,274.8 302.3,274.8 303.0,274.8 303.6,274.8 304.3,274.8 304.9,274.8 305.3,274.8 305.6,274.8 305.8,274.8 306.1,274.8 306.2,274.8 306.3,274.7 306.6,274.7 306.9,274.7 307.1,274.7 307.4,274.7 307.5,274.7 307.6,274.7 307.9,274.6 308.2,274.6 308.4,274.6 308.7,274.5 308.8,274.5 308.9,274.5 309.2,274.4 309.5,274.3 309.7,274.2 310.0,274.0 310.1,273.9 310.2,273.8 310.5,273.5 310.8,273.1 311.0,272.7 311.3,272.3 311.4,272.2 311.5,272.2 311.8,272.3 312.1,272.7 312.3,273.1 312.6,273.5 312.7,273.7 312.9,273.8 313.1,274.0 313.4,274.2 313.6,274.3 313.9,274.4 314.0,274.5 314.2,274.5 314.4,274.6 314.7,274.6 314.9,274.6 315.2,274.7 315.3,274.7 315.5,274.7 315.7,274.7 316.0,274.7 316.2,274.7 316.5,274.8 316.6,274.8 316.8,274.8 317.0,274.8 317.3,274.8 317.5,274.8 317.9,274.8 318.6,274.8 319.2,274.8 319.9,274.8 320.5,274.8 320.7,274.8 321.1,274.8 321.2,274.8 321.4,274.8 321.8,274.8 322.2,274.8 322.5,274.8 322.6,274.8 323.0,274.8 323.1,274.8 323.4,274.8 323.8,274.8 324.2,274.8 324.4,274.8 324.6,274.8 325.0,274.8 325.1,274.8 325.3,274.8 325.7,274.8 326.1,274.8 326.4,274.8 326.5,274.8 326.9,274.8 327.0,274.8 327.3,274.8 327.7,274.7 328.1,274.7 328.3,274.6 328.5,274.6 328.9,274.5 329.0,274.5 329.3,274.4 329.6,274.3 330.0,274.3 330.3,274.3 330.4,274.3 330.8,274.4 330.9,274.5 331.2,274.5 331.6,274.6 332.0,274.7 332.2,274.7 332.4,274.7 332.8,274.8 332.9,274.8 333.2,274.8 333.5,274.8 333.9,274.8 334.2,274.8 334.3,274.9 334.7,274.9 334.8,274.9 335.1,274.9 335.5,274.9 335.9,274.9 336.1,274.9 336.3,274.9 336.7,274.9 336.8,274.9 337.1,274.9 337.4,274.9 337.8,274.9 338.1,274.9 338.2,274.9 338.6,274.9 338.8,274.9 339.0,274.9 339.4,274.9 340.1,274.9 340.7,274.9 341.4,274.9 342.0,274.9 342.7,274.9 343.3,274.9 344.0,274.9 344.6,274.9 345.3,275.0 345.9,275.0 346.6,275.0 347.2,275.0 347.9,275.0 348.5,275.0 349.2,275.0 349.8,275.0 350.5,275.0 351.1,275.0 351.8,275.0 352.4,275.0 353.1,275.0 353.7,275.0 354.4,275.0 355.0,275.0 355.7,275.0 356.3,275.0 357.0,275.0 357.6,275.0 358.3,275.0 358.9,275.0 359.6,275.0 360.2,275.0 360.9,275.0 361.5,275.0 362.2,275.0 362.8,275.0 363.5,275.0 364.1,275.0 364.8,275.0 365.4,275.0 366.1,275.0 366.7,275.0 367.4,275.0 368.0,275.0 368.7,275.0 369.3,275.0 370.0,275.0 370.6,275.0 371.3,275.0 371.9,275.0 372.6,275.0 373.2,275.0 373.9,275.0 374.5,275.0 375.2,275.0 375.8,275.0 376.5,275.0 377.1,275.0 377.8,275.0 378.4,275.0 379.1,275.1 379.7,275.1 380.4,275.1 381.1,275.1 381.7,275.1 382.4,275.1 383.0,275.1 383.7,275.1 384.3,275.1 385.0,275.1 385.6,275.1 386.3,275.1 386.9,275.1 387.6,275.1 388.2,275.1 388.9,275.1 389.5,275.1 390.2,275.1 390.8,275.1 391.5,275.1 392.1,275.1 392.8,275.1 393.4,275.1 394.1,275.1 394.7,275.1 395.4,275.1 396.0,275.1 396.7,275.1 397.3,275.1 398.0,275.1 398.6,275.1 399.3,275.1 399.9,275.1 400.6,275.1 401.2,275.1 401.9,275.1 402.5,275.1 403.2,275.1 403.8,275.1 404.5,275.1 405.1,275.1 405.8,275.1 406.4,275.1 407.1,275.1 407.7,275.1 408.4,275.1 409.0,275.1 409.7,275.1 410.3,275.1 411.0,275.1 411.6,275.1 412.3,275.1 412.9,275.1 413.6,275.1 414.2,275.1 414.9,275.1 415.5,275.2 416.2,275.2 416.8,275.2 417.5,275.2 418.1,275.2 418.8,275.2 419.4,275.2 420.1,275.2 420.7,275.2 421.4,275.2 422.0,275.2 422.7,275.2 423.3,275.2 424.0,275.2 424.7,275.2 425.3,275.2 426.0,275.2 426.6,275.2 427.3,275.2 427.9,275.2 428.6,275.2 429.2,275.2 429.9,275.2 430.5,275.2 431.2,275.2 431.8,275.2 432.5,275.2 433.1,275.2"/>
<polyline fill="none" stroke="#1aa362" stroke-width="1.4" stroke-linejoin="round" points="250.9,283.9 251.6,283.9 252.2,283.9 252.9,283.9 253.5,283.9 254.2,283.9 254.8,283.9 255.5,283.9 256.1,283.9 256.8,283.9 257.4,283.9 258.1,283.9 258.7,283.9 259.4,283.9 260.0,283.9 260.7,283.9 261.3,283.9 262.0,283.9 262.6,283.9 263.3,283.9 263.9,283.9 264.6,284.0 265.2,284.0 265.9,284.0 266.5,284.0 267.2,284.0 267.8,284.0 268.5,284.0 269.1,284.0 269.8,284.0 270.4,284.0 271.1,284.0 271.7,284.0 272.4,284.0 273.0,284.0 273.7,284.0 274.3,284.0 275.0,284.0 275.6,284.0 276.3,284.0 276.9,284.0 277.6,284.0 278.2,284.0 278.9,284.0 279.5,284.0 280.2,284.0 280.8,284.0 281.5,284.0 282.1,284.0 282.8,284.0 283.4,284.0 284.1,284.0 284.7,284.0 285.4,284.0 286.0,284.0 286.7,284.0 287.3,284.0 288.0,284.0 288.6,284.0 289.3,284.0 289.9,284.0 290.6,284.0 291.2,284.0 291.9,284.0 292.5,284.0 293.2,284.1 293.8,284.1 294.5,284.1 295.2,284.1 295.8,284.1 296.5,284.1 297.1,284.1 297.8,284.1 298.4,284.1 299.1,284.1 299.7,284.1 300.4,284.1 301.0,284.1 301.7,284.1 302.3,284.1 303.0,284.1 303.6,284.0 304.3,284.0 304.9,284.0 305.3,284.0 305.6,284.0 305.8,284.0 306.1,284.0 306.2,284.0 306.3,284.0 306.6,284.0 306.9,284.0 307.1,283.9 307.4,283.9 307.5,283.9 307.6,283.9 307.9,283.9 308.2,283.8 308.4,283.8 308.7,283.7 308.8,283.7 308.9,283.7 309.2,283.6 309.5,283.5 309.7,283.3 310.0,283.1 310.1,283.0 310.2,282.8 310.5,282.5 310.8,282.0 311.0,281.5 311.3,281.0 311.4,280.9 311.5,280.8 311.8,281.0 312.1,281.5 312.3,282.0 312.6,282.5 312.7,282.7 312.9,282.8 313.1,283.1 313.4,283.3 313.6,283.5 313.9,283.6 314.0,283.6 314.2,283.7 314.4,283.8 314.7,283.8 314.9,283.9 315.2,283.9 315.3,283.9 315.5,283.9 315.7,283.9 316.0,284.0 316.2,284.0 316.5,284.0 316.6,284.0 316.8,284.0 317.0,284.0 317.3,284.0 317.5,284.1 317.9,284.1 318.6,284.1 319.2,284.1 319.9,284.1 320.5,284.1 320.7,284.1 321.1,284.1 321.2,284.1 321.4,284.1 321.8,284.1 322.2,284.1 322.5,284.1 322.6,284.1 323.0,284.1 323.1,284.1 323.4,284.1 323.8,284.1 324.2,284.1 324.4,284.1 324.6,284.1 325.0,284.1 325.1,284.1 325.3,284.1 325.7,284.1 326.1,284.1 326.4,284.1 326.5,284.1 326.9,284.1 327.0,284.1 327.3,284.1 327.7,284.0 328.1,284.0 328.3,284.0 328.5,283.9 328.9,283.9 329.0,283.8 329.3,283.8 329.6,283.7 330.0,283.7 330.3,283.7 330.4,283.7 330.8,283.8 330.9,283.8 331.2,283.9 331.6,284.0 332.0,284.0 332.2,284.0 332.4,284.1 332.8,284.1 332.9,284.1 333.2,284.1 333.5,284.1 333.9,284.1 334.2,284.2 334.3,284.2 334.7,284.2 334.8,284.2 335.1,284.2 335.5,284.2 335.9,284.2 336.1,284.2 336.3,284.2 336.7,284.2 336.8,284.2 337.1,284.2 337.4,284.2 337.8,284.2 338.1,284.2 338.2,284.2 338.6,284.2 338.8,284.2 339.0,284.2 339.4,284.2 340.1,284.2 340.7,284.2 341.4,284.2 342.0,284.2 342.7,284.2 343.3,284.2 344.0,284.2 344.6,284.3 345.3,284.3 345.9,284.3 346.6,284.3 347.2,284.3 347.9,284.3 348.5,284.3 349.2,284.3 349.8,284.3 350.5,284.3 351.1,284.3 351.8,284.3 352.4,284.3 353.1,284.3 353.7,284.3 354.4,284.3 355.0,284.3 355.7,284.3 356.3,284.3 357.0,284.3 357.6,284.3 358.3,284.3 358.9,284.3 359.6,284.3 360.2,284.3 360.9,284.3 361.5,284.3 362.2,284.3 362.8,284.3 363.5,284.3 364.1,284.3 364.8,284.3 365.4,284.3 366.1,284.3 366.7,284.3 367.4,284.3 368.0,284.3 368.7,284.4 369.3,284.4 370.0,284.4 370.6,284.4 371.3,284.4 371.9,284.4 372.6,284.4 373.2,284.4 373.9,284.4 374.5,284.4 375.2,284.4 375.8,284.4 376.5,284.4 377.1,284.4 377.8,284.4 378.4,284.4 379.1,284.4 379.7,284.4 380.4,284.4 381.1,284.4 381.7,284.4 382.4,284.4 383.0,284.4 383.7,284.4 384.3,284.4 385.0,284.4 385.6,284.4 386.3,284.4 386.9,284.4 387.6,284.4 388.2,284.4 388.9,284.4 389.5,284.4 390.2,284.4 390.8,284.4 391.5,284.4 392.1,284.4 392.8,284.4 393.4,284.4 394.1,284.4 394.7,284.5 395.4,284.5 396.0,284.5 396.7,284.5 397.3,284.5 398.0,284.5 398.6,284.5 399.3,284.5 399.9,284.5 400.6,284.5 401.2,284.5 401.9,284.5 402.5,284.5 403.2,284.5 403.8,284.5 404.5,284.5 405.1,284.5 405.8,284.5 406.4,284.5 407.1,284.5 407.7,284.5 408.4,284.5 409.0,284.5 409.7,284.5 410.3,284.5 411.0,284.5 411.6,284.5 412.3,284.5 412.9,284.5 413.6,284.5 414.2,284.5 414.9,284.5 415.5,284.5 416.2,284.5 416.8,284.5 417.5,284.5 418.1,284.5 418.8,284.5 419.4,284.5 420.1,284.5 420.7,284.6 421.4,284.6 422.0,284.6 422.7,284.6 423.3,284.6 424.0,284.6 424.7,284.6 425.3,284.6 426.0,284.6 426.6,284.6 427.3,284.6 427.9,284.6 428.6,284.6 429.2,284.6 429.9,284.6 430.5,284.6 431.2,284.6 431.8,284.6 432.5,284.6 433.1,284.6"/>
<polyline fill="none" stroke="#c676e2" stroke-width="1.4" stroke-linejoin="round" points="250.9,316.5 251.6,316.5 252.2,316.5 252.9,316.5 253.5,316.5 254.2,316.5 254.8,316.5 255.5,316.5 256.1,316.5 256.8,316.5 257.4,316.5 258.1,316.5 258.7,316.5 259.4,316.5 260.0,316.5 260.7,316.5 261.3,316.5 262.0,316.5 262.6,316.5 263.3,316.5 263.9,316.5 264.6,316.5 265.2,316.5 265.9,316.5 266.5,316.5 267.2,316.5 267.8,316.5 268.5,316.5 269.1,316.5 269.8,316.5 270.4,316.5 271.1,316.5 271.7,316.5 272.4,316.5 273.0,316.5 273.7,316.5 274.3,316.5 275.0,316.5 275.6,316.5 276.3,316.5 276.9,316.5 277.6,316.5 278.2,316.5 278.9,316.5 279.5,316.5 280.2,316.5 280.8,316.5 281.5,316.5 282.1,316.5 282.8,316.5 283.4,316.5 284.1,316.5 284.7,316.5 285.4,316.5 286.0,316.5 286.7,316.5 287.3,316.5 288.0,316.5 288.6,316.5 289.3,316.5 289.9,316.5 290.6,316.5 291.2,316.5 291.9,316.5 292.5,316.5 293.2,316.5 293.8,316.5 294.5,316.5 295.2,316.5 295.8,316.5 296.5,316.5 297.1,316.5 297.8,316.5 298.4,316.5 299.1,316.5 299.7,316.5 300.4,316.5 301.0,316.5 301.7,316.5 302.3,316.5 303.0,316.4 303.6,316.4 304.3,316.4 304.5,316.4 304.8,316.4 304.9,316.4 305.1,316.4 305.4,316.4 305.6,316.4 305.7,316.4 306.0,316.4 306.2,316.4 306.3,316.4 306.6,316.3 306.9,316.3 307.2,316.3 307.5,316.3 307.5,316.3 307.7,316.2 308.0,316.2 308.2,316.2 308.3,316.1 308.6,316.1 308.8,316.0 308.9,316.0 309.2,315.9 309.5,315.8 309.5,315.8 309.8,315.6 310.1,315.3 310.1,315.3 310.4,315.0 310.7,314.6 310.8,314.4 311.0,314.1 311.3,313.7 311.4,313.5 311.5,313.5 311.8,313.7 312.1,314.0 312.1,314.1 312.4,314.6 312.7,315.0 313.0,315.3 313.3,315.6 313.4,315.6 313.6,315.8 313.9,315.9 314.0,315.9 314.2,316.0 314.5,316.1 314.7,316.1 314.8,316.1 315.1,316.2 315.3,316.2 315.4,316.2 315.6,316.3 315.9,316.3 316.0,316.3 316.2,316.3 316.5,316.3 316.6,316.3 316.8,316.3 317.1,316.4 317.3,316.4 317.4,316.4 317.7,316.4 317.9,316.4 318.0,316.4 318.3,316.4 318.6,316.4 319.2,316.4 319.9,316.4 320.5,316.4 320.7,316.4 321.1,316.4 321.2,316.4 321.4,316.4 321.8,316.4 322.2,316.4 322.5,316.4 322.6,316.4 323.0,316.4 323.1,316.4 323.4,316.4 323.8,316.4 324.2,316.4 324.4,316.4 324.6,316.4 325.0,316.4 325.1,316.4 325.3,316.4 325.7,316.4 326.1,316.4 326.4,316.4 326.5,316.3 326.9,316.3 327.0,316.3 327.3,316.3 327.7,316.2 328.1,316.2 328.3,316.1 328.5,316.1 328.9,316.0 329.0,315.9 329.3,315.8 329.6,315.7 330.0,315.7 330.3,315.7 330.4,315.7 330.8,315.8 330.9,315.9 331.2,316.0 331.6,316.1 332.0,316.2 332.2,316.2 332.4,316.2 332.8,316.3 332.9,316.3 333.2,316.3 333.5,316.4 333.9,316.4 334.2,316.4 334.3,316.4 334.7,316.4 334.8,316.4 335.1,316.4 335.5,316.4 335.9,316.4 336.1,316.4 336.3,316.4 336.7,316.5 336.8,316.5 337.1,316.5 337.4,316.5 337.8,316.5 338.1,316.5 338.2,316.5 338.6,316.5 338.8,316.5 339.0,316.5 339.4,316.5 340.1,316.5 340.7,316.5 341.4,316.5 342.0,316.5 342.7,316.5 343.3,316.5 344.0,316.5 344.6,316.5 345.3,316.5 345.9,316.5 346.6,316.5 347.2,316.5 347.9,316.5 348.5,316.5 349.2,316.5 349.8,316.5 350.5,316.5 351.1,316.5 351.8,316.5 352.4,316.5 353.1,316.5 353.7,316.5 354.4,316.5 355.0,316.5 355.7,316.5 356.3,316.5 357.0,316.5 357.6,316.5 358.3,316.5 358.9,316.5 359.6,316.5 360.2,316.5 360.9,316.5 361.5,316.5 362.2,316.5 362.8,316.5 363.5,316.5 364.1,316.5 364.8,316.5 365.4,316.5 366.1,316.5 366.7,316.5 367.4,316.5 368.0,316.5 368.7,316.5 369.3,316.5 370.0,316.5 370.6,316.5 371.3,316.5 371.9,316.5 372.6,316.5 373.2,316.5 373.9,316.5 374.5,316.5 375.2,316.5 375.8,316.5 376.5,316.5 377.1,316.5 377.8,316.5 378.4,316.5 379.1,316.5 379.7,316.5 380.4,316.5 381.1,316.5 381.7,316.5 382.4,316.5 383.0,316.5 383.7,316.5 384.3,316.5 385.0,316.5 385.6,316.5 386.3,316.5 386.9,316.5 387.6,316.5 388.2,316.5 388.9,316.5 389.5,316.5 390.2,316.5 390.8,316.5 391.5,316.5 392.1,316.5 392.8,316.5 393.4,316.5 394.1,316.5 394.7,316.5 395.4,316.5 396.0,316.5 396.7,316.5 397.3,316.5 398.0,316.5 398.6,316.5 399.3,316.5 399.9,316.5 400.6,316.5 401.2,316.5 401.9,316.5 402.5,316.5 403.2,316.5 403.8,316.5 404.5,316.5 405.1,316.5 405.8,316.5 406.4,316.5 407.1,316.5 407.7,316.5 408.4,316.5 409.0,316.5 409.7,316.5 410.3,316.5 411.0,316.5 411.6,316.5 412.3,316.5 412.9,316.5 413.6,316.5 414.2,316.5 414.9,316.5 415.5,316.5 416.2,316.5 416.8,316.5 417.5,316.5 418.1,316.5 418.8,316.5 419.4,316.5 420.1,316.5 420.7,316.5 421.4,316.5 422.0,316.5 422.7,316.5 423.3,316.5 424.0,316.5 424.7,316.5 425.3,316.5 426.0,316.5 426.6,316.5 427.3,316.5 427.9,316.5 428.6,316.5 429.2,316.5 429.9,316.5 430.5,316.5 431.2,316.5 431.8,316.5 432.5,316.5 433.1,316.5"/>
<polyline fill="none" stroke="#e1a32a" stroke-width="1.5" stroke-linejoin="round" points="250.9,324.8 251.6,324.8 252.2,324.8 252.9,324.8 253.5,324.8 254.2,324.8 254.8,324.8 255.5,324.8 256.1,324.8 256.8,324.8 257.4,324.8 258.1,324.8 258.7,324.8 259.4,324.8 260.0,324.8 260.7,324.8 261.3,324.8 262.0,324.8 262.6,324.8 263.3,324.9 263.9,324.9 264.6,324.9 265.2,324.9 265.9,324.9 266.5,324.9 267.2,324.9 267.8,324.9 268.5,324.9 269.1,324.9 269.8,324.9 270.4,324.9 271.1,324.9 271.7,324.9 272.4,324.9 273.0,324.9 273.7,324.9 274.3,324.9 275.0,324.9 275.6,324.9 276.3,324.9 276.9,324.9 277.6,324.9 278.2,324.9 278.9,324.9 279.5,324.9 280.2,324.9 280.8,324.9 281.5,324.9 282.1,324.9 282.8,324.9 283.4,324.9 284.1,324.9 284.7,324.9 285.4,324.9 286.0,324.9 286.7,324.9 287.3,325.0 288.0,325.0 288.6,325.0 289.3,325.0 289.9,325.0 290.6,325.0 291.2,325.0 291.9,325.0 292.5,325.0 293.2,325.0 293.8,325.0 294.5,325.0 295.2,325.0 295.8,325.0 296.5,325.0 297.1,325.0 297.8,325.0 298.4,325.0 299.1,325.0 299.7,325.0 300.4,325.0 301.0,325.0 301.7,325.0 302.3,325.0 303.0,325.0 303.6,325.0 304.3,325.0 304.5,325.0 304.8,324.9 304.9,324.9 305.1,324.9 305.4,324.9 305.6,324.9 305.7,324.9 306.0,324.9 306.2,324.9 306.3,324.9 306.6,324.9 306.9,324.9 307.2,324.8 307.5,324.8 307.5,324.8 307.7,324.8 308.0,324.7 308.2,324.7 308.3,324.7 308.6,324.6 308.8,324.6 308.9,324.6 309.2,324.5 309.5,324.3 309.5,324.3 309.8,324.1 310.1,323.9 310.1,323.9 310.4,323.6 310.7,323.1 310.8,323.0 311.0,322.7 311.3,322.2 311.4,322.1 311.5,322.1 311.8,322.2 312.1,322.6 312.1,322.7 312.4,323.1 312.7,323.6 313.0,323.9 313.3,324.1 313.4,324.2 313.6,324.3 313.9,324.5 314.0,324.5 314.2,324.6 314.5,324.7 314.7,324.7 314.8,324.7 315.1,324.8 315.3,324.8 315.4,324.8 315.6,324.8 315.9,324.9 316.0,324.9 316.2,324.9 316.5,324.9 316.6,324.9 316.8,324.9 317.1,325.0 317.3,325.0 317.4,325.0 317.7,325.0 317.9,325.0 318.0,325.0 318.3,325.0 318.6,325.0 319.2,325.0 319.9,325.0 320.5,325.0 320.7,325.0 321.1,325.0 321.2,325.0 321.4,325.0 321.8,325.0 322.2,325.0 322.5,325.0 322.6,325.0 323.0,325.0 323.1,325.0 323.4,325.0 323.8,325.0 324.2,325.0 324.4,325.0 324.6,325.0 325.0,325.0 325.1,325.0 325.3,325.0 325.7,325.0 326.1,325.0 326.4,325.0 326.5,325.0 326.9,325.0 327.0,324.9 327.3,324.9 327.7,324.9 328.1,324.8 328.3,324.8 328.5,324.7 328.9,324.6 329.0,324.6 329.3,324.5 329.6,324.4 330.0,324.3 330.3,324.4 330.4,324.4 330.8,324.5 330.9,324.5 331.2,324.6 331.6,324.7 332.0,324.8 332.2,324.9 332.4,324.9 332.8,325.0 332.9,325.0 333.2,325.0 333.5,325.0 333.9,325.0 334.2,325.1 334.3,325.1 334.7,325.1 334.8,325.1 335.1,325.1 335.5,325.1 335.9,325.1 336.1,325.1 336.3,325.1 336.7,325.1 336.8,325.1 337.1,325.1 337.4,325.1 337.8,325.1 338.1,325.1 338.2,325.1 338.6,325.2 338.8,325.2 339.0,325.2 339.4,325.2 340.1,325.2 340.7,325.2 341.4,325.2 342.0,325.2 342.7,325.2 343.3,325.2 344.0,325.2 344.6,325.2 345.3,325.2 345.9,325.2 346.6,325.2 347.2,325.2 347.9,325.2 348.5,325.2 349.2,325.2 349.8,325.2 350.5,325.2 351.1,325.2 351.8,325.2 352.4,325.2 353.1,325.2 353.7,325.2 354.4,325.2 355.0,325.3 355.7,325.3 356.3,325.3 357.0,325.3 357.6,325.3 358.3,325.3 358.9,325.3 359.6,325.3 360.2,325.3 360.9,325.3 361.5,325.3 362.2,325.3 362.8,325.3 363.5,325.3 364.1,325.3 364.8,325.3 365.4,325.3 366.1,325.3 366.7,325.3 367.4,325.3 368.0,325.3 368.7,325.3 369.3,325.3 370.0,325.3 370.6,325.3 371.3,325.3 371.9,325.3 372.6,325.3 373.2,325.3 373.9,325.3 374.5,325.3 375.2,325.3 375.8,325.3 376.5,325.3 377.1,325.4 377.8,325.4 378.4,325.4 379.1,325.4 379.7,325.4 380.4,325.4 381.1,325.4 381.7,325.4 382.4,325.4 383.0,325.4 383.7,325.4 384.3,325.4 385.0,325.4 385.6,325.4 386.3,325.4 386.9,325.4 387.6,325.4 388.2,325.4 388.9,325.4 389.5,325.4 390.2,325.4 390.8,325.4 391.5,325.4 392.1,325.4 392.8,325.4 393.4,325.4 394.1,325.4 394.7,325.4 395.4,325.4 396.0,325.4 396.7,325.4 397.3,325.4 398.0,325.4 398.6,325.4 399.3,325.5 399.9,325.5 400.6,325.5 401.2,325.5 401.9,325.5 402.5,325.5 403.2,325.5 403.8,325.5 404.5,325.5 405.1,325.5 405.8,325.5 406.4,325.5 407.1,325.5 407.7,325.5 408.4,325.5 409.0,325.5 409.7,325.5 410.3,325.5 411.0,325.5 411.6,325.5 412.3,325.5 412.9,325.5 413.6,325.5 414.2,325.5 414.9,325.5 415.5,325.5 416.2,325.5 416.8,325.5 417.5,325.5 418.1,325.5 418.8,325.5 419.4,325.5 420.1,325.5 420.7,325.5 421.4,325.5 422.0,325.6 422.7,325.6 423.3,325.6 424.0,325.6 424.7,325.6 425.3,325.6 426.0,325.6 426.6,325.6 427.3,325.6 427.9,325.6 428.6,325.6 429.2,325.6 429.9,325.6 430.5,325.6 431.2,325.6 431.8,325.6 432.5,325.6 433.1,325.6"/>
<polyline fill="none" stroke="#12e2f4" stroke-width="2.0" stroke-linejoin="round" points="250.9,332.2 251.6,332.2 252.2,332.2 252.9,332.2 253.5,332.2 254.2,332.2 254.8,332.2 255.5,332.2 256.1,332.2 256.8,332.2 257.4,332.2 258.1,332.2 258.7,332.2 259.4,332.2 260.0,332.2 260.7,332.2 261.3,332.2 262.0,332.3 262.6,332.3 263.3,332.3 263.9,332.3 264.6,332.3 265.2,332.3 265.9,332.3 266.5,332.3 267.2,332.3 267.8,332.3 268.5,332.3 269.1,332.3 269.8,332.3 270.4,332.3 271.1,332.3 271.7,332.3 272.4,332.3 273.0,332.3 273.7,332.3 274.3,332.3 275.0,332.3 275.6,332.3 276.3,332.3 276.9,332.3 277.6,332.3 278.2,332.3 278.9,332.3 279.5,332.3 280.2,332.3 280.8,332.3 281.5,332.3 282.1,332.4 282.8,332.4 283.4,332.4 284.1,332.4 284.7,332.4 285.4,332.4 286.0,332.4 286.7,332.4 287.3,332.4 288.0,332.4 288.6,332.4 289.3,332.4 289.9,332.4 290.6,332.4 291.2,332.4 291.9,332.4 292.5,332.4 293.2,332.4 293.8,332.4 294.5,332.4 295.2,332.4 295.8,332.4 296.5,332.4 297.1,332.4 297.8,332.4 298.4,332.4 299.1,332.4 299.7,332.4 300.4,332.4 301.0,332.4 301.7,332.4 302.3,332.4 303.0,332.3 303.6,332.3 304.3,332.3 304.5,332.3 304.8,332.3 304.9,332.3 305.1,332.3 305.4,332.2 305.6,332.2 305.7,332.2 306.0,332.2 306.2,332.2 306.3,332.2 306.6,332.1 306.9,332.1 307.2,332.0 307.5,332.0 307.5,331.9 307.7,331.9 308.0,331.8 308.2,331.7 308.3,331.7 308.6,331.6 308.8,331.5 308.9,331.4 309.2,331.2 309.5,330.9 309.5,330.9 309.8,330.5 310.1,329.9 310.1,329.9 310.4,329.2 310.7,328.3 310.8,327.9 311.0,327.2 311.3,326.2 311.4,325.9 311.5,325.8 311.8,326.3 312.1,327.0 312.1,327.3 312.4,328.4 312.7,329.4 313.0,330.2 313.3,330.8 313.4,331.0 313.6,331.3 313.9,331.7 314.0,331.8 314.2,331.9 314.5,332.1 314.7,332.3 314.8,332.3 315.1,332.5 315.3,332.6 315.4,332.6 315.6,332.7 315.9,332.8 316.0,332.8 316.2,332.9 316.5,332.9 316.6,333.0 316.8,333.0 317.1,333.1 317.3,333.1 317.4,333.1 317.5,333.1 317.7,333.2 317.9,333.2 318.0,333.2 318.1,333.2 318.3,333.3 318.6,333.3 319.1,333.4 319.2,333.4 319.6,333.4 319.9,333.5 320.1,333.5 320.5,333.6 320.7,333.6 321.2,333.6 321.7,333.6 321.8,333.6 322.2,333.7 322.5,333.7 322.7,333.7 323.1,333.7 323.3,333.7 323.8,333.7 324.3,333.7 324.4,333.7 324.8,333.6 325.1,333.6 325.3,333.6 325.7,333.6 325.9,333.6 326.4,333.5 326.9,333.5 327.0,333.5 327.4,333.4 327.7,333.3 327.9,333.3 328.3,333.1 328.5,333.1 329.0,332.9 329.5,332.7 329.6,332.7 330.0,332.7 330.3,332.7 330.6,332.7 330.9,332.9 331.1,332.9 331.6,333.2 332.1,333.4 332.2,333.4 332.6,333.5 332.9,333.6 333.2,333.6 333.5,333.7 333.7,333.7 334.2,333.8 334.7,333.8 334.8,333.9 335.2,333.9 335.5,333.9 335.8,333.9 336.1,334.0 336.3,334.0 336.8,334.0 337.3,334.0 337.4,334.0 337.8,334.0 338.1,334.1 338.4,334.1 338.8,334.1 338.9,334.1 339.4,334.1 339.9,334.1 340.1,334.1 340.4,334.1 340.7,334.1 341.0,334.2 341.4,334.2 341.5,334.2 342.0,334.2 342.7,334.2 343.3,334.2 344.0,334.2 344.6,334.2 345.3,334.3 345.9,334.3 346.6,334.3 347.2,334.3 347.9,334.3 348.5,334.3 349.2,334.4 349.8,334.4 350.5,334.4 351.1,334.4 351.8,334.4 352.4,334.4 353.1,334.4 353.7,334.5 354.4,334.5 355.0,334.5 355.7,334.5 356.3,334.5 357.0,334.5 357.6,334.6 358.3,334.6 358.9,334.6 359.6,334.6 360.2,334.6 360.9,334.6 361.5,334.7 362.2,334.7 362.8,334.7 363.5,334.7 364.1,334.7 364.8,334.8 365.4,334.8 366.1,334.8 366.7,334.8 367.4,334.8 368.0,334.8 368.7,334.9 369.3,334.9 370.0,334.9 370.6,334.9 371.3,334.9 371.9,334.9 372.6,335.0 373.2,335.0 373.9,335.0 374.5,335.0 375.2,335.0 375.8,335.1 376.5,335.1 377.1,335.1 377.8,335.1 378.4,335.1 379.1,335.1 379.7,335.2 380.4,335.2 381.1,335.2 381.7,335.2 382.4,335.2 383.0,335.2 383.7,335.3 384.3,335.3 385.0,335.3 385.6,335.3 386.3,335.3 386.9,335.4 387.6,335.4 388.2,335.4 388.9,335.4 389.5,335.4 390.2,335.4 390.8,335.5 391.5,335.5 392.1,335.5 392.8,335.5 393.4,335.5 394.1,335.5 394.7,335.6 395.4,335.6 396.0,335.6 396.7,335.6 397.3,335.6 398.0,335.7 398.6,335.7 399.3,335.7 399.9,335.7 400.6,335.7 401.2,335.7 401.9,335.8 402.5,335.8 403.2,335.8 403.8,335.8 404.5,335.8 405.1,335.8 405.8,335.9 406.4,335.9 407.1,335.9 407.7,335.9 408.4,335.9 409.0,336.0 409.7,336.0 410.3,336.0 411.0,336.0 411.6,336.0 412.3,336.0 412.9,336.1 413.6,336.1 414.2,336.1 414.9,336.1 415.5,336.1 416.2,336.1 416.8,336.2 417.5,336.2 418.1,336.2 418.8,336.2 419.4,336.2 420.1,336.2 420.7,336.3 421.4,336.3 422.0,336.3 422.7,336.3 423.3,336.3 424.0,336.4 424.7,336.4 425.3,336.4 426.0,336.4 426.6,336.4 427.3,336.4 427.9,336.5 428.6,336.5 429.2,336.5 429.9,336.5 430.5,336.5 431.2,336.5 431.8,336.6 432.5,336.6 433.1,336.6"/>
<circle cx="315.5" cy="200.4" r="2.85" fill="#7a78da"/>
<circle cx="315.5" cy="207.6" r="2.85" fill="#0c1565"/>
<path d="M315.5 211.0L318.4 213.9L315.5 216.8L312.6 213.9Z" fill="#1a72d8"/>
<path d="M315.5 217.9L318.2 222.8L312.8 222.8Z" fill="#fff" stroke="#e2e2e2" stroke-width="0.7"/>
<rect x="306.9" y="214.5" width="5.7" height="5.7" fill="#b4b4b4"/>
<polygon points="309.80,221.60 310.59,223.51 312.65,223.67 311.08,225.02 311.56,227.03 309.80,225.95 308.04,227.03 308.52,225.02 306.95,223.67 309.01,223.51" fill="#f6efa8"/>
<circle cx="306.9" cy="246.6" r="2.85" fill="#7a78da"/>
<rect x="319.8" y="242.1" width="5.7" height="5.7" fill="#b4b4b4"/>
<rect x="326.1" y="230.6" width="5.7" height="5.7" fill="#b4b4b4"/>
<polygon points="329.00,237.50 329.79,239.41 331.85,239.57 330.28,240.92 330.76,242.93 329.00,241.85 327.24,242.93 327.72,240.92 326.15,239.57 328.21,239.41" fill="#f6efa8"/>
<circle cx="335.4" cy="222.0" r="2.85" fill="#7a78da"/>
<circle cx="335.4" cy="228.7" r="2.85" fill="#0c1565"/>
<path d="M335.4 232.6L338.3 235.5L335.4 238.4L332.5 235.5Z" fill="#1a72d8"/>
<path d="M335.4 238.1L338.1 243.0L332.7 243.0Z" fill="#fff" stroke="#e2e2e2" stroke-width="0.7"/>
<circle cx="367.8" cy="240.8" r="2.85" fill="#0c1565"/>
<path d="M367.8 245.4L370.7 248.3L367.8 251.2L364.9 248.3Z" fill="#1a72d8"/>
<rect x="387.6" y="238.8" width="5.7" height="5.7" fill="#b4b4b4"/>
<polygon points="390.50,246.20 391.29,248.11 393.35,248.27 391.78,249.62 392.26,251.63 390.50,250.55 388.74,251.63 389.22,249.62 387.65,248.27 389.71,248.11" fill="#f6efa8"/>
<circle cx="398.5" cy="227.7" r="2.85" fill="#7a78da"/>
<circle cx="398.5" cy="234.6" r="2.85" fill="#0c1565"/>
<path d="M398.5 238.3L401.4 241.2L398.5 244.1L395.6 241.2Z" fill="#1a72d8"/>
<path d="M398.5 244.6L401.2 249.5L395.8 249.5Z" fill="#fff" stroke="#e2e2e2" stroke-width="0.7"/>
<circle cx="413.1" cy="241.8" r="2.85" fill="#0c1565"/>
<path d="M413.1 247.4L416.0 250.3L413.1 253.2L410.2 250.3Z" fill="#1a72d8"/>
<circle cx="346.8" cy="202.4" r="2.85" fill="#7a78da"/>
<text x="350.4" y="205.6" font-family="Liberation Serif" font-weight="bold" stroke="#111" stroke-width="0.3" font-size="9.5" fill="#111">-Co</text>
<polygon points="368.30,199.70 369.09,201.61 371.15,201.77 369.58,203.12 370.06,205.13 368.30,204.05 366.54,205.13 367.02,203.12 365.45,201.77 367.51,201.61" fill="#f6efa8"/>
<text x="371.2" y="205.6" font-family="Liberation Serif" font-weight="bold" stroke="#111" stroke-width="0.3" font-size="9.5" fill="#111">-Cu</text>
<rect x="388.2" y="199.6" width="5.7" height="5.7" fill="#b4b4b4"/>
<text x="393.7" y="205.6" font-family="Liberation Serif" font-weight="bold" stroke="#111" stroke-width="0.3" font-size="9.5" fill="#111">-Mn</text>
<path d="M415.3 199.7L418.0 204.6L412.6 204.6Z" fill="#fff" stroke="#e2e2e2" stroke-width="0.7"/>
<text x="418.4" y="205.6" font-family="Liberation Serif" font-weight="bold" stroke="#111" stroke-width="0.3" font-size="9.5" fill="#111">-Ni</text>
<circle cx="346.8" cy="212.3" r="2.85" fill="#0c1565"/>
<text x="350.4" y="215.5" font-family="Liberation Serif" font-weight="bold" stroke="#111" stroke-width="0.3" font-size="9.5" fill="#111">-Fe</text>
<path d="M368.3 209.4L371.2 212.3L368.3 215.2L365.4 212.3Z" fill="#1a72d8"/>
<text x="371.4" y="215.5" font-family="Liberation Serif" font-weight="bold" stroke="#111" stroke-width="0.3" font-size="9.5" fill="#111">-Cr</text>
<text x="389.3" y="215.5" font-family="Liberation Serif" font-weight="bold" stroke="#111" stroke-width="0.3" font-size="9.5" fill="#111">F-FCC</text>
<path d="M250.9 196.7H433.1V341.0H250.9Z" fill="none" stroke="#111" stroke-width="1.5"/>
<path d="M250.9 341.0V337.2M263.9 341.0V338.7M276.9 341.0V337.2M289.9 341.0V338.7M303.0 341.0V337.2M316.0 341.0V338.7M329.0 341.0V337.2M342.0 341.0V338.7M355.0 341.0V337.2M368.0 341.0V338.7M381.1 341.0V337.2M394.1 341.0V338.7M407.1 341.0V337.2M420.1 341.0V338.7M433.1 341.0V337.2" stroke="#1a1a1a" stroke-width="1.1"/>
<text x="251.3" y="350.3" font-family="Liberation Serif" font-weight="bold" stroke="#111" stroke-width="0.3" font-size="9.8" text-anchor="middle" fill="#111">20</text>
<text x="277.3" y="350.3" font-family="Liberation Serif" font-weight="bold" stroke="#111" stroke-width="0.3" font-size="9.8" text-anchor="middle" fill="#111">30</text>
<text x="303.4" y="350.3" font-family="Liberation Serif" font-weight="bold" stroke="#111" stroke-width="0.3" font-size="9.8" text-anchor="middle" fill="#111">40</text>
<text x="329.4" y="350.3" font-family="Liberation Serif" font-weight="bold" stroke="#111" stroke-width="0.3" font-size="9.8" text-anchor="middle" fill="#111">50</text>
<text x="355.4" y="350.3" font-family="Liberation Serif" font-weight="bold" stroke="#111" stroke-width="0.3" font-size="9.8" text-anchor="middle" fill="#111">60</text>
<text x="381.4" y="350.3" font-family="Liberation Serif" font-weight="bold" stroke="#111" stroke-width="0.3" font-size="9.8" text-anchor="middle" fill="#111">70</text>
<text x="407.5" y="350.3" font-family="Liberation Serif" font-weight="bold" stroke="#111" stroke-width="0.3" font-size="9.8" text-anchor="middle" fill="#111">80</text>
<text x="433.5" y="350.3" font-family="Liberation Serif" font-weight="bold" stroke="#111" stroke-width="0.3" font-size="9.8" text-anchor="middle" fill="#111">90</text>
<text x="304.2" y="364.0" font-family="Liberation Serif" font-weight="bold" stroke="#111" stroke-width="0.3" font-size="13" fill="#111">2</text>
<text x="315.7" y="364.1" font-family="Liberation Serif" font-weight="bold" stroke="#111" stroke-width="0.3" font-style="italic" font-size="14" fill="#111">&#952;</text>
<text x="325.1" y="364.0" font-family="Liberation Serif" font-weight="bold" stroke="#111" stroke-width="0.3" font-size="13.8" fill="#111">(degree)</text>
<text transform="translate(245.3 332.4) rotate(-90) scale(1 0.93)" font-family="Liberation Serif" font-weight="bold" stroke="#111" stroke-width="0.3" font-size="13.65" fill="#111">Intensity (arb.units)</text>
<text x="252.3" y="212.4" font-family="Liberation Serif" font-weight="bold" stroke="#111" stroke-width="0.3" font-size="16" fill="#111">(d)</text>
<text x="432.5" y="253.4" font-family="Liberation Serif" font-weight="bold" stroke="#111" stroke-width="0.3" font-size="8.6" text-anchor="end" fill="#111">0 h</text>
<text x="432.5" y="264.5" font-family="Liberation Serif" font-weight="bold" stroke="#111" stroke-width="0.3" font-size="8.6" text-anchor="end" fill="#111">5 h</text>
<text x="432.5" y="273.6" font-family="Liberation Serif" font-weight="bold" stroke="#111" stroke-width="0.3" font-size="8.6" text-anchor="end" fill="#111">10 h</text>
<text x="432.5" y="283.1" font-family="Liberation Serif" font-weight="bold" stroke="#111" stroke-width="0.3" font-size="8.6" text-anchor="end" fill="#111">15 h</text>
<text x="432.5" y="313.8" font-family="Liberation Serif" font-weight="bold" stroke="#111" stroke-width="0.3" font-size="8.6" text-anchor="end" fill="#111">30 h</text>
<text x="432.5" y="323.7" font-family="Liberation Serif" font-weight="bold" stroke="#111" stroke-width="0.3" font-size="8.6" text-anchor="end" fill="#111">45 h</text>
<text x="432.5" y="335.4" font-family="Liberation Serif" font-weight="bold" stroke="#111" stroke-width="0.3" font-size="8.6" text-anchor="end" fill="#111">50 h</text>
<text transform="translate(312.2 291.2) scale(0.85 1)" font-family="Liberation Serif" font-weight="bold" stroke="#111" stroke-width="0.3" font-size="9.6" text-anchor="middle" fill="#111">F</text>
<text transform="translate(314.6 312.5) rotate(-90) scale(1 0.84)" font-family="Liberation Serif" font-weight="bold" stroke="#111" stroke-width="0.3" font-size="8.8" fill="#111">(111)</text>
<text transform="translate(331.4 292.5) scale(0.85 1)" font-family="Liberation Serif" font-weight="bold" stroke="#111" stroke-width="0.3" font-size="9.6" text-anchor="middle" fill="#111">F</text>
<text transform="translate(333.8 313.0) rotate(-90) scale(1 0.84)" font-family="Liberation Serif" font-weight="bold" stroke="#111" stroke-width="0.3" font-size="8.8" fill="#111">(200)</text>
<text transform="translate(393.8 293.6) scale(0.85 1)" font-family="Liberation Serif" font-weight="bold" stroke="#111" stroke-width="0.3" font-size="9.6" text-anchor="middle" fill="#111">F</text>
<text transform="translate(396.0 313.9) rotate(-90) scale(1 0.84)" font-family="Liberation Serif" font-weight="bold" stroke="#111" stroke-width="0.3" font-size="8.8" fill="#111">(220)</text>
<rect x="115.0" y="372.5" width="90.4" height="21.5" fill="#fff" stroke="#a0a0a0" stroke-width="0.8"/>
<polyline fill="none" stroke="#5a5a5a" stroke-width="1.0" stroke-linejoin="round" points="23.2,430.1 23.9,430.1 24.5,430.1 25.2,430.2 25.8,430.2 26.5,430.2 27.1,430.2 27.8,430.3 28.4,430.3 29.1,430.3 29.7,430.3 30.4,430.3 31.0,430.4 31.7,430.4 32.3,430.4 33.0,430.4 33.6,430.4 34.3,430.5 34.9,430.5 35.6,430.5 36.2,430.5 36.9,430.6 37.5,430.6 38.2,430.6 38.8,430.6 39.5,430.6 40.1,430.7 40.8,430.7 41.4,430.7 42.1,430.7 42.7,430.7 43.4,430.8 44.0,430.8 44.7,430.8 45.3,430.8 46.0,430.9 46.6,430.9 47.3,430.9 47.9,430.9 48.6,430.9 49.2,431.0 49.9,431.0 50.5,431.0 51.2,431.0 51.8,431.1 52.5,431.1 53.1,431.1 53.8,431.1 54.4,431.1 55.1,431.2 55.7,431.2 56.4,431.2 57.0,431.2 57.7,431.2 58.3,431.3 59.0,431.3 59.6,431.3 60.3,431.3 60.9,431.4 61.6,431.4 62.2,431.4 62.9,431.4 63.5,431.4 64.2,431.5 64.8,431.5 65.5,431.5 66.1,431.5 66.8,431.5 67.5,431.6 68.1,431.6 68.8,431.6 69.4,431.6 70.1,431.7 70.7,431.7 71.4,431.7 72.0,431.7 72.7,431.7 73.3,431.8 74.0,431.8 74.6,431.8 75.3,431.8 75.9,431.8 76.6,431.9 77.2,431.9 77.9,431.9 78.5,431.9 79.2,432.0 79.8,432.0 80.5,432.0 81.1,432.0 81.6,432.0 81.7,432.0 81.8,432.1 81.9,432.1 81.9,432.1 82.0,432.1 82.1,432.1 82.2,432.1 82.3,432.1 82.4,432.1 82.4,432.1 82.5,432.1 82.6,432.1 82.7,432.1 82.8,432.0 82.9,431.9 83.0,431.6 83.0,431.0 83.1,430.8 83.1,430.0 83.2,428.4 83.3,426.1 83.4,423.2 83.5,420.1 83.6,417.2 83.7,415.1 83.7,414.6 83.8,414.3 83.9,415.1 84.0,417.2 84.0,420.1 84.1,423.2 84.2,426.1 84.3,428.4 84.4,429.4 84.4,430.0 84.5,431.1 84.6,431.6 84.7,431.9 84.8,432.1 84.9,432.1 85.0,432.2 85.0,432.2 85.0,432.2 85.1,432.2 85.2,432.2 85.3,432.2 85.4,432.2 85.5,432.2 85.6,432.2 85.7,432.2 85.7,432.2 85.8,432.2 85.9,432.2 86.0,432.2 86.0,432.2 86.1,432.2 86.2,432.0 86.3,431.8 86.4,431.1 86.5,430.0 86.6,427.9 86.7,424.6 86.8,419.9 86.9,414.0 87.0,407.5 87.0,406.6 87.1,401.6 87.1,397.3 87.2,395.8 87.3,397.3 87.4,401.6 87.5,407.6 87.6,414.0 87.6,415.8 87.7,419.9 87.8,424.6 87.9,427.9 88.0,430.0 88.1,431.2 88.1,431.8 88.2,432.1 88.3,432.2 88.3,432.2 88.4,432.3 88.5,432.3 88.6,432.3 88.7,432.3 88.8,432.3 88.9,432.3 88.9,432.3 89.0,432.3 89.1,432.3 89.1,432.4 89.2,432.4 89.3,432.4 89.6,432.4 90.2,432.4 90.9,432.4 91.5,432.4 92.2,432.5 92.8,432.5 93.5,432.5 94.1,432.6 94.8,432.6 95.4,432.6 96.1,432.6 96.7,432.7 97.4,432.7 98.0,432.7 98.7,432.7 99.3,432.8 100.0,432.8 100.2,432.8 100.3,432.8 100.4,432.8 100.5,432.8 100.6,432.8 100.6,432.8 100.7,432.8 100.7,432.8 100.8,432.8 100.9,432.8 101.0,432.8 101.1,432.8 101.2,432.8 101.3,432.8 101.4,432.8 101.5,432.7 101.6,432.6 101.7,432.3 101.7,431.8 101.8,431.0 101.9,429.8 101.9,429.6 102.0,428.4 102.1,426.8 102.2,425.3 102.3,424.3 102.4,423.9 102.5,424.3 102.6,425.3 102.6,425.7 102.7,426.8 102.7,428.4 102.8,429.9 102.9,431.0 103.0,431.8 103.1,432.4 103.2,432.7 103.2,432.7 103.3,432.8 103.4,432.9 103.5,432.9 103.6,432.9 103.7,432.9 103.7,432.9 103.8,432.9 103.9,432.9 103.9,433.0 104.0,433.0 104.0,433.0 104.1,433.0 104.1,433.0 104.2,433.0 104.2,433.0 104.3,433.0 104.3,433.0 104.4,433.0 104.4,433.0 104.5,433.0 104.5,433.0 104.5,433.0 104.6,433.0 104.7,433.0 104.8,433.0 104.9,433.0 105.0,433.0 105.1,433.0 105.1,433.0 105.2,432.9 105.2,432.9 105.3,432.8 105.4,432.5 105.5,432.0 105.6,431.0 105.7,429.6 105.8,427.4 105.8,425.6 105.9,424.8 106.0,421.9 106.1,419.2 106.1,417.2 106.2,416.5 106.3,417.2 106.4,419.2 106.5,421.5 106.5,421.9 106.6,424.8 106.7,427.5 106.8,429.6 106.9,431.1 107.0,432.0 107.1,432.6 107.1,432.9 107.2,433.0 107.3,433.1 107.4,433.1 107.5,433.1 107.6,433.1 107.7,433.1 107.8,433.1 107.8,433.1 107.9,433.1 108.0,433.1 108.1,433.1 108.1,433.1 108.2,433.1 108.3,433.1 108.4,433.1 109.1,433.2 109.7,433.2 110.4,433.2 111.1,433.2 111.7,433.3 112.4,433.3 113.0,433.3 113.7,433.3 114.3,433.4 115.0,433.4 115.6,433.4 116.3,433.5 116.9,433.5 117.6,433.5 118.2,433.5 118.9,433.6 119.5,433.6 120.2,433.6 120.8,433.6 121.5,433.7 122.1,433.7 122.8,433.7 123.4,433.7 124.1,433.8 124.7,433.8 125.4,433.8 126.0,433.8 126.7,433.9 127.3,433.9 128.0,433.9 128.6,434.0 129.3,434.0 129.9,434.0 130.6,434.0 131.2,434.1 131.9,434.1 132.5,434.1 133.2,434.2 133.8,434.2 134.5,434.2 135.1,434.2 135.8,434.3 136.4,434.3 137.1,434.3 137.7,434.4 138.4,434.4 139.0,434.4 139.7,434.4 140.3,434.5 141.0,434.5 141.6,434.5 142.3,434.6 142.9,434.6 143.6,434.6 144.2,434.6 144.9,434.7 145.5,434.7 146.2,434.7 146.8,434.8 147.5,434.8 148.1,434.8 148.8,434.8 149.4,434.9 150.1,434.9 150.7,434.9 151.4,434.9 152.0,435.0 152.7,435.0 153.3,435.0 154.0,435.1 154.7,435.1 155.3,435.1 156.0,435.1 156.6,435.2 157.3,435.2 157.9,435.2 158.6,435.3 159.2,435.3 159.9,435.3 160.5,435.3 161.2,435.4 161.6,435.4 161.7,435.4 161.8,435.4 161.8,435.4 161.9,435.4 162.1,435.4 162.2,435.4 162.3,435.4 162.4,435.4 162.5,435.4 162.6,435.4 162.7,435.4 162.8,435.4 162.9,435.4 163.1,435.5 163.1,435.5 163.2,435.4 163.3,435.4 163.4,435.4 163.6,435.3 163.7,435.2 163.8,435.0 163.8,435.0 163.9,434.7 164.0,434.2 164.2,433.8 164.3,433.4 164.4,433.1 164.4,433.1 164.5,433.0 164.7,433.1 164.8,433.4 164.9,433.8 165.0,434.3 165.1,434.4 165.2,434.7 165.3,435.0 165.4,435.3 165.5,435.4 165.7,435.5 165.7,435.5 165.8,435.5 165.9,435.6 166.0,435.6 166.1,435.6 166.3,435.6 166.4,435.6 166.4,435.6 166.5,435.6 166.6,435.6 166.8,435.6 166.9,435.6 167.0,435.6 167.1,435.6 167.3,435.6 167.4,435.6 167.5,435.6 167.6,435.6 167.7,435.7 167.7,435.7 167.8,435.7 167.9,435.7 168.1,435.7 168.2,435.7 168.3,435.7 168.3,435.7 168.4,435.7 168.6,435.7 168.7,435.7 168.8,435.7 168.9,435.7 169.0,435.7 169.0,435.7 169.2,435.7 169.3,435.7 169.4,435.7 169.5,435.6 169.6,435.5 169.7,435.4 169.8,435.2 169.9,434.9 170.0,434.5 170.2,434.1 170.3,433.7 170.3,433.7 170.4,433.4 170.5,433.3 170.7,433.4 170.8,433.7 170.9,434.1 170.9,434.2 171.0,434.5 171.1,434.9 171.3,435.3 171.4,435.5 171.5,435.7 171.6,435.7 171.6,435.7 171.8,435.8 171.9,435.8 172.0,435.8 172.1,435.8 172.2,435.8 172.3,435.8 172.4,435.8 172.5,435.9 172.6,435.9 172.8,435.9 172.9,435.9 172.9,435.9 173.0,435.9 173.1,435.9 173.2,435.9 173.4,435.9 173.5,435.9 173.5,435.9 174.2,435.9 174.8,435.9 175.5,436.0 176.1,436.0 176.8,436.0 177.4,436.1 178.1,436.1 178.7,436.1 179.4,436.1 180.0,436.2 180.7,436.2 181.3,436.2 182.0,436.2 182.6,436.3 183.3,436.3 183.9,436.3 184.6,436.3 185.2,436.4 185.9,436.4 186.5,436.4 187.2,436.5 187.8,436.5 188.5,436.5 189.1,436.5 189.8,436.6 190.4,436.6 191.1,436.6 191.7,436.6 192.4,436.7 193.0,436.7 193.7,436.7 194.3,436.7 195.0,436.8 195.6,436.8 196.3,436.8 197.0,436.9 197.6,436.9 198.3,436.9 198.9,436.9 199.6,437.0 200.2,437.0 200.9,437.0 201.5,437.0 202.2,437.1 202.8,437.1 203.5,437.1 204.1,437.1 204.8,437.2 205.4,437.2"/>
<polyline fill="none" stroke="#262626" stroke-width="1.15" points="23.2,430.1 23.9,430.1 24.5,430.1 25.2,430.2 25.8,430.2 26.5,430.2 27.1,430.2 27.8,430.3 28.4,430.3 29.1,430.3 29.7,430.3 30.4,430.3 31.0,430.4 31.7,430.4 32.3,430.4 33.0,430.4 33.6,430.4 34.3,430.5 34.9,430.5 35.6,430.5 36.2,430.5 36.9,430.6 37.5,430.6 38.2,430.6 38.8,430.6 39.5,430.6 40.1,430.7 40.8,430.7 41.4,430.7 42.1,430.7 42.7,430.7 43.4,430.8 44.0,430.8 44.7,430.8 45.3,430.8 46.0,430.9 46.6,430.9 47.3,430.9 47.9,430.9 48.6,430.9 49.2,431.0 49.9,431.0 50.5,431.0 51.2,431.0 51.8,431.1 52.5,431.1 53.1,431.1 53.8,431.1 54.4,431.1 55.1,431.2 55.7,431.2 56.4,431.2 57.0,431.2 57.7,431.2 58.3,431.3 59.0,431.3 59.6,431.3 60.3,431.3 60.9,431.4 61.6,431.4 62.2,431.4 62.9,431.4 63.5,431.4 64.2,431.5 64.8,431.5 65.5,431.5 66.1,431.5 66.8,431.5 67.5,431.6 68.1,431.6 68.8,431.6 69.4,431.6 70.1,431.7 70.7,431.7 71.4,431.7 72.0,431.7 72.7,431.7 73.3,431.8 74.0,431.8 74.6,431.8 75.3,431.8 75.9,431.8 76.6,431.9 77.2,431.9 77.9,431.9 78.5,431.9 79.2,432.0 79.8,432.0 80.5,432.0 81.1,432.0 81.8,432.1 82.4,432.1 83.1,432.1 83.7,432.1 84.4,432.2 85.0,432.2 85.7,432.2 86.3,432.2 87.0,432.3 87.6,432.3 88.3,432.3 88.9,432.3 89.6,432.4 90.2,432.4 90.9,432.4 91.5,432.4 92.2,432.5 92.8,432.5 93.5,432.5 94.1,432.6 94.8,432.6 95.4,432.6 96.1,432.6 96.7,432.7 97.4,432.7 98.0,432.7 98.7,432.7 99.3,432.8 100.0,432.8 100.6,432.8 101.3,432.8 101.9,432.9 102.6,432.9 103.2,432.9 103.9,432.9 104.5,433.0 105.2,433.0 105.8,433.0 106.5,433.1 107.1,433.1 107.8,433.1 108.4,433.1 109.1,433.2 109.7,433.2 110.4,433.2 111.1,433.2 111.7,433.3 112.4,433.3 113.0,433.3 113.7,433.3 114.3,433.4 115.0,433.4 115.6,433.4 116.3,433.5 116.9,433.5 117.6,433.5 118.2,433.5 118.9,433.6 119.5,433.6 120.2,433.6 120.8,433.6 121.5,433.7 122.1,433.7 122.8,433.7 123.4,433.7 124.1,433.8 124.7,433.8 125.4,433.8 126.0,433.8 126.7,433.9 127.3,433.9 128.0,433.9 128.6,434.0 129.3,434.0 129.9,434.0 130.6,434.0 131.2,434.1 131.9,434.1 132.5,434.1 133.2,434.2 133.8,434.2 134.5,434.2 135.1,434.2 135.8,434.3 136.4,434.3 137.1,434.3 137.7,434.4 138.4,434.4 139.0,434.4 139.7,434.4 140.3,434.5 141.0,434.5 141.6,434.5 142.3,434.6 142.9,434.6 143.6,434.6 144.2,434.6 144.9,434.7 145.5,434.7 146.2,434.7 146.8,434.8 147.5,434.8 148.1,434.8 148.8,434.8 149.4,434.9 150.1,434.9 150.7,434.9 151.4,434.9 152.0,435.0 152.7,435.0 153.3,435.0 154.0,435.1 154.7,435.1 155.3,435.1 156.0,435.1 156.6,435.2 157.3,435.2 157.9,435.2 158.6,435.3 159.2,435.3 159.9,435.3 160.5,435.3 161.2,435.4 161.8,435.4 162.5,435.4 163.1,435.5 163.8,435.5 164.4,435.5 165.1,435.5 165.7,435.6 166.4,435.6 167.0,435.6 167.7,435.7 168.3,435.7 169.0,435.7 169.6,435.7 170.3,435.8 170.9,435.8 171.6,435.8 172.2,435.8 172.9,435.9 173.5,435.9 174.2,435.9 174.8,435.9 175.5,436.0 176.1,436.0 176.8,436.0 177.4,436.1 178.1,436.1 178.7,436.1 179.4,436.1 180.0,436.2 180.7,436.2 181.3,436.2 182.0,436.2 182.6,436.3 183.3,436.3 183.9,436.3 184.6,436.3 185.2,436.4 185.9,436.4 186.5,436.4 187.2,436.5 187.8,436.5 188.5,436.5 189.1,436.5 189.8,436.6 190.4,436.6 191.1,436.6 191.7,436.6 192.4,436.7 193.0,436.7 193.7,436.7 194.3,436.7 195.0,436.8 195.6,436.8 196.3,436.8 197.0,436.9 197.6,436.9 198.3,436.9 198.9,436.9 199.6,437.0 200.2,437.0 200.9,437.0 201.5,437.0 202.2,437.1 202.8,437.1 203.5,437.1 204.1,437.1 204.8,437.2 205.4,437.2"/>
<polyline fill="none" stroke="#f4403c" stroke-width="1.4" stroke-linejoin="round" points="23.2,444.8 23.9,444.8 24.5,444.8 25.2,444.8 25.8,444.8 26.5,444.8 27.1,444.8 27.8,444.8 28.4,444.8 29.1,444.8 29.7,444.8 30.4,444.8 31.0,444.8 31.7,444.8 32.3,444.8 33.0,444.8 33.6,444.8 34.3,444.8 34.9,444.8 35.6,444.8 36.2,444.8 36.9,444.8 37.5,444.8 38.2,444.8 38.8,444.8 39.5,444.8 40.1,444.8 40.8,444.8 41.4,444.8 42.1,444.8 42.7,444.8 43.4,444.8 44.0,444.8 44.7,444.8 45.3,444.8 46.0,444.8 46.6,444.8 47.3,444.8 47.9,444.8 48.6,444.8 49.2,444.8 49.9,444.8 50.5,444.7 51.2,444.7 51.8,444.7 52.5,444.7 53.1,444.7 53.8,444.7 54.4,444.7 55.1,444.7 55.7,444.7 56.4,444.7 57.0,444.7 57.7,444.7 58.3,444.7 59.0,444.7 59.6,444.7 60.3,444.7 60.9,444.7 61.6,444.7 62.2,444.7 62.9,444.7 63.5,444.7 64.2,444.7 64.8,444.7 65.5,444.7 66.1,444.7 66.8,444.7 67.5,444.7 68.1,444.7 68.8,444.7 69.4,444.7 70.1,444.7 70.7,444.7 71.4,444.7 72.0,444.7 72.7,444.7 73.3,444.7 74.0,444.7 74.6,444.7 75.3,444.7 75.9,444.7 76.6,444.6 76.8,444.6 77.2,444.6 77.6,444.6 77.9,444.6 78.0,444.6 78.4,444.6 78.5,444.6 78.8,444.6 79.2,444.6 79.6,444.6 79.8,444.5 79.9,444.5 80.3,444.5 80.5,444.5 80.7,444.5 81.1,444.5 81.5,444.4 81.8,444.4 81.9,444.4 82.3,444.3 82.4,444.3 82.7,444.2 83.1,444.1 83.5,444.0 83.7,443.9 83.8,443.8 84.2,443.6 84.4,443.5 84.6,443.3 85.0,442.9 85.4,442.5 85.7,442.2 85.8,442.1 86.2,441.9 86.3,441.9 86.6,442.1 87.0,442.5 87.4,442.9 87.6,443.2 87.8,443.3 88.1,443.6 88.3,443.7 88.5,443.8 88.9,444.0 89.3,444.1 89.6,444.2 89.7,444.2 90.1,444.3 90.2,444.3 90.5,444.4 90.9,444.4 91.3,444.4 91.5,444.5 91.7,444.5 92.0,444.5 92.2,444.5 92.4,444.5 92.8,444.5 93.2,444.6 93.5,444.6 93.6,444.6 94.0,444.6 94.1,444.6 94.4,444.6 94.8,444.6 95.2,444.6 95.4,444.6 95.6,444.6 96.1,444.6 96.7,444.6 97.4,444.6 98.0,444.6 98.7,444.6 99.3,444.6 100.0,444.6 100.6,444.6 101.3,444.6 101.9,444.6 102.6,444.6 103.2,444.6 103.9,444.6 104.5,444.6 105.2,444.6 105.8,444.6 106.5,444.6 107.1,444.6 107.8,444.6 108.4,444.6 109.1,444.6 109.7,444.6 110.4,444.6 111.1,444.6 111.7,444.6 112.4,444.6 113.0,444.6 113.7,444.6 114.3,444.6 115.0,444.6 115.6,444.6 116.3,444.6 116.9,444.6 117.6,444.6 118.2,444.6 118.9,444.6 119.5,444.6 120.2,444.6 120.8,444.6 121.5,444.6 122.1,444.6 122.8,444.6 123.4,444.6 124.1,444.6 124.7,444.6 125.4,444.6 126.0,444.6 126.7,444.6 127.3,444.6 128.0,444.6 128.6,444.6 129.3,444.6 129.9,444.6 130.6,444.6 131.2,444.6 131.9,444.6 132.5,444.6 133.2,444.6 133.8,444.6 134.5,444.6 135.1,444.6 135.8,444.6 136.4,444.6 137.1,444.6 137.7,444.6 138.4,444.6 139.0,444.6 139.7,444.6 140.3,444.6 141.0,444.6 141.6,444.6 142.3,444.6 142.9,444.6 143.6,444.6 144.2,444.6 144.9,444.6 145.5,444.6 146.2,444.6 146.8,444.6 147.5,444.6 148.1,444.6 148.8,444.6 149.4,444.6 150.1,444.6 150.7,444.6 151.4,444.6 152.0,444.6 152.7,444.6 153.3,444.6 154.0,444.6 154.7,444.6 155.3,444.6 156.0,444.6 156.6,444.6 157.3,444.6 157.9,444.6 158.6,444.6 159.2,444.6 159.9,444.6 160.5,444.6 161.2,444.6 161.8,444.6 162.5,444.6 163.1,444.6 163.8,444.6 164.4,444.6 165.1,444.6 165.7,444.6 166.4,444.6 167.0,444.6 167.7,444.6 168.3,444.6 169.0,444.6 169.6,444.6 170.3,444.6 170.9,444.6 171.6,444.6 172.2,444.6 172.9,444.6 173.5,444.6 174.2,444.6 174.8,444.5 175.5,444.5 176.1,444.5 176.8,444.5 177.4,444.5 178.1,444.5 178.7,444.5 179.4,444.5 180.0,444.5 180.7,444.5 181.3,444.5 182.0,444.5 182.6,444.5 183.3,444.5 183.9,444.5 184.6,444.5 185.2,444.5 185.9,444.5 186.5,444.5 187.2,444.5 187.8,444.5 188.5,444.5 189.1,444.5 189.8,444.5 190.4,444.5 191.1,444.5 191.7,444.5 192.4,444.5 193.0,444.5 193.7,444.5 194.3,444.5 195.0,444.5 195.6,444.5 196.3,444.5 197.0,444.5 197.6,444.5 198.3,444.5 198.9,444.5 199.6,444.5 200.2,444.5 200.9,444.5 201.5,444.5 202.2,444.5 202.8,444.5 203.5,444.5 204.1,444.5 204.8,444.5 205.4,444.5"/>
<polyline fill="none" stroke="#2f7fe4" stroke-width="1.6" stroke-linejoin="round" points="23.2,452.4 23.9,452.4 24.5,452.4 25.2,452.4 25.8,452.4 26.5,452.4 27.1,452.4 27.8,452.4 28.4,452.4 29.1,452.4 29.7,452.4 30.4,452.4 31.0,452.4 31.7,452.4 32.3,452.4 33.0,452.4 33.6,452.4 34.3,452.4 34.9,452.4 35.6,452.4 36.2,452.4 36.9,452.4 37.5,452.4 38.2,452.4 38.8,452.4 39.5,452.5 40.1,452.5 40.8,452.5 41.4,452.5 42.1,452.5 42.7,452.5 43.4,452.5 44.0,452.5 44.7,452.5 45.3,452.5 46.0,452.5 46.6,452.5 47.3,452.5 47.9,452.5 48.6,452.5 49.2,452.5 49.9,452.5 50.5,452.5 51.2,452.5 51.8,452.5 52.5,452.5 53.1,452.5 53.8,452.5 54.4,452.5 55.1,452.5 55.7,452.5 56.4,452.5 57.0,452.5 57.7,452.5 58.3,452.5 59.0,452.5 59.6,452.5 60.3,452.5 60.9,452.5 61.6,452.5 62.2,452.5 62.9,452.5 63.5,452.5 64.2,452.5 64.8,452.5 65.5,452.5 66.1,452.5 66.8,452.5 67.5,452.5 68.1,452.5 68.8,452.5 69.4,452.5 70.1,452.5 70.7,452.5 71.4,452.5 72.0,452.5 72.7,452.5 73.3,452.5 74.0,452.5 74.6,452.5 75.3,452.5 75.9,452.5 76.6,452.5 77.2,452.5 77.6,452.5 77.9,452.5 78.1,452.5 78.4,452.5 78.5,452.5 78.6,452.5 78.9,452.5 79.2,452.4 79.4,452.4 79.7,452.4 79.8,452.4 79.9,452.4 80.2,452.4 80.5,452.3 80.7,452.3 81.0,452.2 81.1,452.2 81.2,452.2 81.5,452.1 81.8,452.0 82.0,451.9 82.3,451.7 82.4,451.6 82.5,451.4 82.8,451.1 83.1,450.7 83.3,450.2 83.6,449.8 83.7,449.6 83.8,449.6 84.1,449.8 84.4,450.2 84.6,450.7 84.9,451.1 85.0,451.3 85.2,451.4 85.4,451.7 85.7,451.9 85.9,452.0 86.2,452.1 86.3,452.2 86.5,452.2 86.7,452.3 87.0,452.3 87.2,452.3 87.5,452.4 87.6,452.4 87.8,452.4 88.0,452.4 88.3,452.5 88.5,452.5 88.8,452.5 88.9,452.5 89.1,452.5 89.3,452.5 89.6,452.5 89.8,452.5 90.2,452.5 90.9,452.5 91.5,452.6 92.2,452.6 92.8,452.6 93.0,452.6 93.4,452.6 93.5,452.6 93.7,452.6 94.1,452.6 94.5,452.6 94.8,452.6 94.9,452.6 95.3,452.6 95.4,452.6 95.7,452.6 96.1,452.6 96.5,452.6 96.7,452.6 96.9,452.6 97.3,452.6 97.4,452.6 97.6,452.6 98.0,452.6 98.4,452.6 98.7,452.6 98.8,452.6 99.2,452.5 99.3,452.5 99.6,452.5 100.0,452.5 100.4,452.4 100.6,452.4 100.8,452.4 101.2,452.3 101.3,452.3 101.6,452.2 101.9,452.2 102.3,452.2 102.6,452.2 102.7,452.2 103.1,452.3 103.2,452.3 103.5,452.3 103.9,452.4 104.3,452.5 104.5,452.5 104.7,452.5 105.1,452.5 105.2,452.5 105.5,452.6 105.8,452.6 106.2,452.6 106.5,452.6 106.6,452.6 107.0,452.6 107.1,452.6 107.4,452.6 107.8,452.6 108.2,452.6 108.4,452.6 108.6,452.6 109.0,452.7 109.1,452.7 109.4,452.7 109.7,452.7 110.1,452.7 110.4,452.7 110.5,452.7 110.9,452.7 111.1,452.7 111.3,452.7 111.7,452.7 112.4,452.7 113.0,452.7 113.7,452.7 114.3,452.7 115.0,452.7 115.6,452.7 116.3,452.7 116.9,452.7 117.6,452.7 118.2,452.7 118.9,452.7 119.5,452.7 120.2,452.7 120.8,452.7 121.5,452.7 122.1,452.7 122.8,452.7 123.4,452.7 124.1,452.7 124.7,452.7 125.4,452.7 126.0,452.7 126.7,452.7 127.3,452.7 128.0,452.7 128.6,452.7 129.3,452.7 129.9,452.7 130.6,452.8 131.2,452.8 131.9,452.8 132.5,452.8 133.2,452.8 133.8,452.8 134.5,452.8 135.1,452.8 135.8,452.8 136.4,452.8 137.1,452.8 137.7,452.8 138.4,452.8 139.0,452.8 139.7,452.8 140.3,452.8 141.0,452.8 141.6,452.8 142.3,452.8 142.9,452.8 143.6,452.8 144.2,452.8 144.9,452.8 145.5,452.8 146.2,452.8 146.8,452.8 147.5,452.8 148.1,452.8 148.8,452.8 149.4,452.8 150.1,452.8 150.7,452.8 151.4,452.8 152.0,452.8 152.7,452.8 153.3,452.8 154.0,452.8 154.7,452.8 155.3,452.8 156.0,452.8 156.6,452.8 157.3,452.8 157.9,452.8 158.6,452.8 159.2,452.8 159.9,452.8 160.5,452.9 161.2,452.9 161.8,452.9 162.5,452.9 163.1,452.9 163.8,452.9 164.4,452.9 165.1,452.9 165.7,452.9 166.4,452.9 167.0,452.9 167.7,452.9 168.3,452.9 169.0,452.9 169.6,452.9 170.3,452.9 170.9,452.9 171.6,452.9 172.2,452.9 172.9,452.9 173.5,452.9 174.2,452.9 174.8,452.9 175.5,452.9 176.1,452.9 176.8,452.9 177.4,452.9 178.1,452.9 178.7,452.9 179.4,452.9 180.0,452.9 180.7,452.9 181.3,452.9 182.0,452.9 182.6,452.9 183.3,452.9 183.9,452.9 184.6,452.9 185.2,452.9 185.9,452.9 186.5,452.9 187.2,452.9 187.8,452.9 188.5,452.9 189.1,452.9 189.8,452.9 190.4,453.0 191.1,453.0 191.7,453.0 192.4,453.0 193.0,453.0 193.7,453.0 194.3,453.0 195.0,453.0 195.6,453.0 196.3,453.0 197.0,453.0 197.6,453.0 198.3,453.0 198.9,453.0 199.6,453.0 200.2,453.0 200.9,453.0 201.5,453.0 202.2,453.0 202.8,453.0 203.5,453.0 204.1,453.0 204.8,453.0 205.4,453.0"/>
<polyline fill="none" stroke="#1aa362" stroke-width="1.4" stroke-linejoin="round" points="23.2,460.5 23.9,460.5 24.5,460.5 25.2,460.5 25.8,460.5 26.5,460.5 27.1,460.5 27.8,460.5 28.4,460.5 29.1,460.5 29.7,460.5 30.4,460.5 31.0,460.5 31.7,460.5 32.3,460.5 33.0,460.5 33.6,460.6 34.3,460.6 34.9,460.6 35.6,460.6 36.2,460.6 36.9,460.6 37.5,460.6 38.2,460.6 38.8,460.6 39.5,460.6 40.1,460.6 40.8,460.6 41.4,460.6 42.1,460.6 42.7,460.6 43.4,460.6 44.0,460.6 44.7,460.6 45.3,460.6 46.0,460.6 46.6,460.6 47.3,460.6 47.9,460.6 48.6,460.6 49.2,460.6 49.9,460.6 50.5,460.6 51.2,460.6 51.8,460.6 52.5,460.6 53.1,460.6 53.8,460.6 54.4,460.7 55.1,460.7 55.7,460.7 56.4,460.7 57.0,460.7 57.7,460.7 58.3,460.7 59.0,460.7 59.6,460.7 60.3,460.7 60.9,460.7 61.6,460.7 62.2,460.7 62.9,460.7 63.5,460.7 64.2,460.7 64.8,460.7 65.5,460.7 66.1,460.7 66.8,460.7 67.5,460.7 68.1,460.7 68.8,460.7 69.4,460.7 70.1,460.7 70.7,460.7 71.4,460.7 72.0,460.7 72.7,460.7 73.3,460.7 74.0,460.7 74.6,460.7 75.3,460.7 75.9,460.7 76.6,460.7 77.2,460.7 77.6,460.7 77.9,460.7 78.1,460.7 78.4,460.7 78.5,460.7 78.6,460.7 78.9,460.7 79.2,460.6 79.4,460.6 79.7,460.6 79.8,460.6 79.9,460.6 80.2,460.6 80.5,460.5 80.7,460.5 81.0,460.4 81.1,460.4 81.2,460.4 81.5,460.3 81.8,460.2 82.0,460.1 82.3,459.9 82.4,459.8 82.5,459.7 82.8,459.3 83.1,458.9 83.3,458.5 83.6,458.1 83.7,457.9 83.8,457.9 84.1,458.1 84.4,458.5 84.6,458.9 84.9,459.4 85.0,459.5 85.2,459.7 85.4,459.9 85.7,460.1 85.9,460.2 86.2,460.3 86.3,460.4 86.5,460.4 86.7,460.5 87.0,460.5 87.2,460.6 87.5,460.6 87.6,460.6 87.8,460.6 88.0,460.6 88.3,460.7 88.5,460.7 88.8,460.7 88.9,460.7 89.1,460.7 89.3,460.7 89.6,460.7 89.8,460.7 90.2,460.8 90.9,460.8 91.5,460.8 92.2,460.8 92.8,460.8 93.5,460.8 94.1,460.8 94.8,460.8 95.4,460.8 96.1,460.8 96.7,460.8 97.4,460.8 98.0,460.9 98.7,460.9 99.3,460.9 100.0,460.9 100.6,460.9 101.3,460.9 101.9,460.9 102.6,460.9 103.2,460.9 103.9,460.9 104.5,460.9 105.2,460.9 105.8,460.9 106.5,460.9 107.1,460.9 107.8,460.9 108.4,460.9 109.1,460.9 109.7,460.9 110.4,460.9 111.1,460.9 111.7,460.9 112.4,460.9 113.0,460.9 113.7,460.9 114.3,460.9 115.0,460.9 115.6,461.0 116.3,461.0 116.9,461.0 117.6,461.0 118.2,461.0 118.9,461.0 119.5,461.0 120.2,461.0 120.8,461.0 121.5,461.0 122.1,461.0 122.8,461.0 123.4,461.0 124.1,461.0 124.7,461.0 125.4,461.0 126.0,461.0 126.7,461.0 127.3,461.0 128.0,461.0 128.6,461.0 129.3,461.0 129.9,461.0 130.6,461.0 131.2,461.0 131.9,461.0 132.5,461.0 133.2,461.0 133.8,461.0 134.5,461.0 135.1,461.1 135.8,461.1 136.4,461.1 137.1,461.1 137.7,461.1 138.4,461.1 139.0,461.1 139.7,461.1 140.3,461.1 141.0,461.1 141.6,461.1 142.3,461.1 142.9,461.1 143.6,461.1 144.2,461.1 144.9,461.1 145.5,461.1 146.2,461.1 146.8,461.1 147.5,461.1 148.1,461.1 148.8,461.1 149.4,461.1 150.1,461.1 150.7,461.1 151.4,461.1 152.0,461.1 152.7,461.1 153.3,461.1 154.0,461.1 154.7,461.1 155.3,461.2 156.0,461.2 156.6,461.2 157.3,461.2 157.9,461.2 158.6,461.2 159.2,461.2 159.9,461.2 160.5,461.2 161.2,461.2 161.8,461.2 162.5,461.2 163.1,461.2 163.8,461.2 164.4,461.2 165.1,461.2 165.7,461.2 166.4,461.2 167.0,461.2 167.7,461.2 168.3,461.2 169.0,461.2 169.6,461.2 170.3,461.2 170.9,461.2 171.6,461.2 172.2,461.2 172.9,461.2 173.5,461.2 174.2,461.2 174.8,461.2 175.5,461.3 176.1,461.3 176.8,461.3 177.4,461.3 178.1,461.3 178.7,461.3 179.4,461.3 180.0,461.3 180.7,461.3 181.3,461.3 182.0,461.3 182.6,461.3 183.3,461.3 183.9,461.3 184.6,461.3 185.2,461.3 185.9,461.3 186.5,461.3 187.2,461.3 187.8,461.3 188.5,461.3 189.1,461.3 189.8,461.3 190.4,461.3 191.1,461.3 191.7,461.3 192.4,461.3 193.0,461.3 193.7,461.3 194.3,461.3 195.0,461.3 195.6,461.4 196.3,461.4 197.0,461.4 197.6,461.4 198.3,461.4 198.9,461.4 199.6,461.4 200.2,461.4 200.9,461.4 201.5,461.4 202.2,461.4 202.8,461.4 203.5,461.4 204.1,461.4 204.8,461.4 205.4,461.4"/>
<polyline fill="none" stroke="#c676e2" stroke-width="1.4" stroke-linejoin="round" points="23.2,494.7 23.9,494.7 24.5,494.7 25.2,494.7 25.8,494.7 26.5,494.7 27.1,494.7 27.8,494.7 28.4,494.7 29.1,494.7 29.7,494.7 30.4,494.7 31.0,494.7 31.7,494.7 32.3,494.7 33.0,494.7 33.6,494.7 34.3,494.7 34.9,494.7 35.6,494.7 36.2,494.7 36.9,494.7 37.5,494.7 38.2,494.7 38.8,494.7 39.5,494.7 40.1,494.7 40.8,494.7 41.4,494.7 42.1,494.7 42.7,494.7 43.4,494.7 44.0,494.7 44.7,494.6 45.3,494.6 46.0,494.6 46.6,494.6 47.3,494.6 47.9,494.6 48.6,494.6 49.2,494.6 49.9,494.6 50.5,494.6 51.2,494.6 51.8,494.6 52.5,494.6 53.1,494.6 53.8,494.6 54.4,494.6 55.1,494.6 55.7,494.6 56.4,494.6 57.0,494.6 57.7,494.6 58.3,494.6 59.0,494.6 59.6,494.6 60.3,494.6 60.9,494.6 61.6,494.6 62.2,494.6 62.9,494.6 63.5,494.6 64.2,494.6 64.8,494.6 65.5,494.6 66.1,494.6 66.8,494.6 67.5,494.6 68.1,494.6 68.8,494.6 69.4,494.6 70.1,494.6 70.7,494.6 71.4,494.6 72.0,494.6 72.7,494.6 73.3,494.5 74.0,494.5 74.6,494.5 75.3,494.5 75.9,494.5 76.6,494.5 76.8,494.5 77.1,494.5 77.2,494.5 77.4,494.5 77.7,494.5 77.9,494.5 78.0,494.4 78.3,494.4 78.5,494.4 78.6,494.4 78.9,494.4 79.2,494.4 79.5,494.3 79.8,494.3 79.8,494.3 80.0,494.3 80.3,494.2 80.5,494.2 80.6,494.2 80.9,494.1 81.1,494.0 81.2,494.0 81.5,493.9 81.8,493.7 81.8,493.7 82.1,493.5 82.4,493.2 82.4,493.2 82.7,492.9 83.0,492.4 83.1,492.2 83.3,491.8 83.6,491.4 83.7,491.2 83.8,491.2 84.1,491.4 84.4,491.7 84.4,491.8 84.7,492.4 85.0,492.9 85.3,493.2 85.6,493.5 85.7,493.6 85.9,493.7 86.2,493.9 86.3,493.9 86.5,494.0 86.8,494.1 87.0,494.1 87.1,494.2 87.4,494.2 87.6,494.3 87.7,494.3 87.9,494.3 88.2,494.3 88.3,494.3 88.5,494.3 88.8,494.4 88.9,494.4 89.1,494.4 89.4,494.4 89.6,494.4 89.7,494.4 90.0,494.4 90.2,494.4 90.3,494.4 90.6,494.4 90.9,494.4 91.5,494.5 92.2,494.5 92.8,494.5 93.0,494.5 93.4,494.5 93.5,494.5 93.7,494.5 94.1,494.5 94.5,494.5 94.8,494.5 94.9,494.5 95.3,494.5 95.4,494.5 95.7,494.5 96.1,494.5 96.5,494.5 96.7,494.5 96.9,494.5 97.3,494.4 97.4,494.4 97.6,494.4 98.0,494.4 98.4,494.4 98.7,494.4 98.8,494.4 99.2,494.4 99.3,494.3 99.6,494.3 100.0,494.3 100.4,494.2 100.6,494.1 100.8,494.1 101.2,494.0 101.3,494.0 101.6,493.9 101.9,493.8 102.3,493.7 102.6,493.7 102.7,493.8 103.1,493.9 103.2,493.9 103.5,494.0 103.9,494.1 104.3,494.2 104.5,494.2 104.7,494.3 105.1,494.3 105.2,494.3 105.5,494.3 105.8,494.4 106.2,494.4 106.5,494.4 106.6,494.4 107.0,494.4 107.1,494.4 107.4,494.4 107.8,494.4 108.2,494.5 108.4,494.5 108.6,494.5 109.0,494.5 109.1,494.5 109.4,494.5 109.7,494.5 110.1,494.5 110.4,494.5 110.5,494.5 110.9,494.5 111.1,494.5 111.3,494.5 111.7,494.5 112.4,494.5 113.0,494.5 113.7,494.5 114.3,494.5 115.0,494.5 115.6,494.5 116.3,494.5 116.9,494.5 117.6,494.5 118.2,494.5 118.9,494.5 119.5,494.5 120.2,494.5 120.8,494.5 121.5,494.5 122.1,494.5 122.8,494.5 123.4,494.5 124.1,494.5 124.7,494.5 125.4,494.5 126.0,494.5 126.7,494.5 127.3,494.5 128.0,494.5 128.6,494.5 129.3,494.5 129.9,494.5 130.6,494.5 131.2,494.5 131.9,494.5 132.5,494.5 133.2,494.5 133.8,494.5 134.5,494.5 135.1,494.5 135.8,494.4 136.4,494.4 137.1,494.4 137.7,494.4 138.4,494.4 139.0,494.4 139.7,494.4 140.3,494.4 141.0,494.4 141.6,494.4 142.3,494.4 142.9,494.4 143.6,494.4 144.2,494.4 144.9,494.4 145.5,494.4 146.2,494.4 146.8,494.4 147.5,494.4 148.1,494.4 148.8,494.4 149.4,494.4 150.1,494.4 150.7,494.4 151.4,494.4 152.0,494.4 152.7,494.4 153.3,494.4 154.0,494.4 154.7,494.4 155.3,494.4 156.0,494.4 156.6,494.4 157.3,494.4 157.9,494.4 158.6,494.4 159.2,494.4 159.9,494.4 160.5,494.4 161.2,494.4 161.8,494.4 162.5,494.4 163.1,494.4 163.8,494.4 164.4,494.4 165.1,494.4 165.7,494.4 166.4,494.4 167.0,494.4 167.7,494.4 168.3,494.4 169.0,494.4 169.6,494.4 170.3,494.4 170.9,494.4 171.6,494.4 172.2,494.4 172.9,494.4 173.5,494.4 174.2,494.4 174.8,494.4 175.5,494.4 176.1,494.4 176.8,494.4 177.4,494.4 178.1,494.4 178.7,494.4 179.4,494.4 180.0,494.4 180.7,494.4 181.3,494.4 182.0,494.4 182.6,494.3 183.3,494.3 183.9,494.3 184.6,494.3 185.2,494.3 185.9,494.3 186.5,494.3 187.2,494.3 187.8,494.3 188.5,494.3 189.1,494.3 189.8,494.3 190.4,494.3 191.1,494.3 191.7,494.3 192.4,494.3 193.0,494.3 193.7,494.3 194.3,494.3 195.0,494.3 195.6,494.3 196.3,494.3 197.0,494.3 197.6,494.3 198.3,494.3 198.9,494.3 199.6,494.3 200.2,494.3 200.9,494.3 201.5,494.3 202.2,494.3 202.8,494.3 203.5,494.3 204.1,494.3 204.8,494.3 205.4,494.3"/>
<polyline fill="none" stroke="#e1a32a" stroke-width="1.5" stroke-linejoin="round" points="23.2,503.2 23.9,503.2 24.5,503.2 25.2,503.2 25.8,503.2 26.5,503.2 27.1,503.2 27.8,503.2 28.4,503.2 29.1,503.2 29.7,503.2 30.4,503.2 31.0,503.2 31.7,503.2 32.3,503.2 33.0,503.2 33.6,503.2 34.3,503.2 34.9,503.2 35.6,503.2 36.2,503.2 36.9,503.2 37.5,503.2 38.2,503.2 38.8,503.2 39.5,503.2 40.1,503.2 40.8,503.2 41.4,503.2 42.1,503.2 42.7,503.2 43.4,503.2 44.0,503.2 44.7,503.2 45.3,503.2 46.0,503.2 46.6,503.2 47.3,503.2 47.9,503.2 48.6,503.2 49.2,503.2 49.9,503.2 50.5,503.2 51.2,503.2 51.8,503.2 52.5,503.2 53.1,503.2 53.8,503.2 54.4,503.2 55.1,503.2 55.7,503.2 56.4,503.2 57.0,503.2 57.7,503.2 58.3,503.2 59.0,503.2 59.6,503.1 60.3,503.1 60.9,503.1 61.6,503.1 62.2,503.1 62.9,503.1 63.5,503.1 64.2,503.1 64.8,503.1 65.5,503.1 66.1,503.1 66.8,503.1 67.5,503.1 68.1,503.1 68.8,503.1 69.4,503.1 70.1,503.1 70.7,503.1 71.4,503.1 72.0,503.1 72.7,503.1 73.3,503.1 74.0,503.1 74.6,503.1 75.3,503.1 75.9,503.1 76.6,503.0 76.8,503.0 77.1,503.0 77.2,503.0 77.4,503.0 77.7,503.0 77.9,503.0 78.0,503.0 78.3,503.0 78.5,503.0 78.6,502.9 78.9,502.9 79.2,502.9 79.5,502.9 79.8,502.8 79.8,502.8 80.0,502.8 80.3,502.7 80.5,502.7 80.6,502.7 80.9,502.6 81.1,502.5 81.2,502.5 81.5,502.3 81.8,502.2 81.8,502.1 82.1,501.9 82.4,501.6 82.4,501.5 82.7,501.1 83.0,500.6 83.1,500.4 83.3,499.9 83.6,499.4 83.7,499.2 83.8,499.1 84.1,499.4 84.4,499.8 84.4,499.9 84.7,500.6 85.0,501.1 85.3,501.6 85.6,501.9 85.7,502.0 85.9,502.1 86.2,502.3 86.3,502.4 86.5,502.5 86.8,502.6 87.0,502.6 87.1,502.7 87.4,502.7 87.6,502.8 87.7,502.8 87.9,502.8 88.2,502.9 88.3,502.9 88.5,502.9 88.8,502.9 88.9,502.9 89.1,502.9 89.4,502.9 89.6,503.0 89.7,503.0 90.0,503.0 90.2,503.0 90.3,503.0 90.6,503.0 90.9,503.0 91.5,503.0 92.2,503.0 92.8,503.0 93.0,503.0 93.4,503.0 93.5,503.0 93.7,503.0 94.1,503.0 94.5,503.0 94.8,503.0 94.9,503.0 95.3,503.0 95.4,503.0 95.7,503.0 96.1,503.0 96.5,503.0 96.7,503.0 96.9,503.0 97.3,503.0 97.4,503.0 97.6,503.0 98.0,503.0 98.4,503.0 98.7,502.9 98.8,502.9 99.2,502.9 99.3,502.9 99.6,502.8 100.0,502.8 100.4,502.7 100.6,502.6 100.8,502.6 101.2,502.5 101.3,502.4 101.6,502.3 101.9,502.2 102.3,502.1 102.6,502.1 102.7,502.2 103.1,502.3 103.2,502.4 103.5,502.5 103.9,502.6 104.3,502.7 104.5,502.8 104.7,502.8 105.1,502.9 105.2,502.9 105.5,502.9 105.8,502.9 106.2,503.0 106.5,503.0 106.6,503.0 107.0,503.0 107.1,503.0 107.4,503.0 107.8,503.0 108.2,503.0 108.4,503.0 108.6,503.0 109.0,503.0 109.1,503.0 109.4,503.0 109.7,503.1 110.1,503.1 110.4,503.1 110.5,503.1 110.9,503.1 111.1,503.1 111.3,503.1 111.7,503.1 112.4,503.1 113.0,503.1 113.7,503.1 114.3,503.1 115.0,503.1 115.6,503.1 116.3,503.1 116.9,503.1 117.6,503.1 118.2,503.1 118.9,503.1 119.5,503.1 120.2,503.1 120.8,503.1 121.5,503.1 122.1,503.1 122.8,503.1 123.4,503.1 124.1,503.1 124.7,503.1 125.4,503.1 126.0,503.1 126.7,503.1 127.3,503.1 128.0,503.1 128.6,503.1 129.3,503.1 129.9,503.1 130.6,503.1 131.2,503.1 131.9,503.1 132.5,503.1 133.2,503.1 133.8,503.1 134.5,503.1 135.1,503.1 135.8,503.1 136.4,503.1 137.1,503.1 137.7,503.1 138.4,503.1 139.0,503.1 139.7,503.1 140.3,503.1 141.0,503.1 141.6,503.1 142.3,503.1 142.9,503.1 143.6,503.1 144.2,503.1 144.9,503.1 145.5,503.1 146.2,503.1 146.8,503.1 147.5,503.1 148.1,503.1 148.8,503.1 149.4,503.1 150.1,503.1 150.7,503.1 151.4,503.1 152.0,503.1 152.7,503.1 153.3,503.1 154.0,503.1 154.7,503.1 155.3,503.1 156.0,503.1 156.6,503.1 157.3,503.1 157.9,503.1 158.6,503.0 159.2,503.0 159.9,503.0 160.5,503.0 161.2,503.0 161.8,503.0 162.5,503.0 163.1,503.0 163.8,503.0 164.4,503.0 165.1,503.0 165.7,503.0 166.4,503.0 167.0,503.0 167.7,503.0 168.3,503.0 169.0,503.0 169.6,503.0 170.3,503.0 170.9,503.0 171.6,503.0 172.2,503.0 172.9,503.0 173.5,503.0 174.2,503.0 174.8,503.0 175.5,503.0 176.1,503.0 176.8,503.0 177.4,503.0 178.1,503.0 178.7,503.0 179.4,503.0 180.0,503.0 180.7,503.0 181.3,503.0 182.0,503.0 182.6,503.0 183.3,503.0 183.9,503.0 184.6,503.0 185.2,503.0 185.9,503.0 186.5,503.0 187.2,503.0 187.8,503.0 188.5,503.0 189.1,503.0 189.8,503.0 190.4,503.0 191.1,503.0 191.7,503.0 192.4,503.0 193.0,503.0 193.7,503.0 194.3,503.0 195.0,503.0 195.6,503.0 196.3,503.0 197.0,503.0 197.6,503.0 198.3,503.0 198.9,503.0 199.6,503.0 200.2,503.0 200.9,503.0 201.5,503.0 202.2,503.0 202.8,503.0 203.5,503.0 204.1,503.0 204.8,503.0 205.4,503.0"/>
<polyline fill="none" stroke="#12e2f4" stroke-width="2.0" stroke-linejoin="round" points="23.2,511.5 23.9,511.5 24.5,511.5 25.2,511.5 25.8,511.5 26.5,511.5 27.1,511.5 27.8,511.5 28.4,511.5 29.1,511.4 29.7,511.4 30.4,511.4 31.0,511.4 31.7,511.4 32.3,511.4 33.0,511.4 33.6,511.4 34.3,511.4 34.9,511.4 35.6,511.4 36.2,511.4 36.9,511.4 37.5,511.4 38.2,511.4 38.8,511.4 39.5,511.4 40.1,511.3 40.8,511.3 41.4,511.3 42.1,511.3 42.7,511.3 43.4,511.3 44.0,511.3 44.7,511.3 45.3,511.3 46.0,511.3 46.6,511.3 47.3,511.3 47.9,511.3 48.6,511.3 49.2,511.3 49.9,511.3 50.5,511.3 51.2,511.2 51.8,511.2 52.5,511.2 53.1,511.2 53.8,511.2 54.4,511.2 55.1,511.2 55.7,511.2 56.4,511.2 57.0,511.2 57.7,511.2 58.3,511.2 59.0,511.2 59.6,511.2 60.3,511.2 60.9,511.1 61.6,511.1 62.2,511.1 62.9,511.1 63.5,511.1 64.2,511.1 64.8,511.1 65.5,511.1 66.1,511.1 66.8,511.1 67.5,511.1 68.1,511.1 68.8,511.1 69.4,511.0 70.1,511.0 70.7,511.0 71.4,511.0 72.0,511.0 72.7,511.0 73.3,511.0 74.0,510.9 74.6,510.9 75.3,510.9 75.9,510.9 76.6,510.8 76.8,510.8 77.1,510.8 77.2,510.8 77.4,510.8 77.7,510.8 77.9,510.7 78.0,510.7 78.3,510.7 78.5,510.7 78.6,510.7 78.9,510.6 79.2,510.6 79.5,510.5 79.8,510.4 79.8,510.4 80.0,510.4 80.3,510.2 80.5,510.2 80.6,510.1 80.9,510.0 81.1,509.9 81.2,509.9 81.5,509.6 81.8,509.4 81.8,509.3 82.1,508.9 82.4,508.3 82.4,508.2 82.7,507.5 83.0,506.5 83.1,506.2 83.3,505.4 83.6,504.4 83.7,504.0 83.8,504.0 84.1,504.4 84.4,505.3 84.4,505.5 84.7,506.7 85.0,507.8 85.3,508.6 85.6,509.3 85.7,509.4 85.9,509.8 86.2,510.2 86.3,510.3 86.5,510.4 86.8,510.7 87.0,510.8 87.1,510.9 87.4,511.0 87.6,511.1 87.7,511.2 87.9,511.3 88.2,511.4 88.3,511.4 88.5,511.5 88.8,511.5 88.9,511.6 89.1,511.6 89.4,511.7 89.6,511.7 89.7,511.7 89.8,511.8 90.0,511.8 90.2,511.8 90.3,511.9 90.4,511.9 90.6,511.9 90.9,512.0 91.4,512.0 91.5,512.1 91.9,512.1 92.2,512.2 92.4,512.2 92.8,512.2 93.0,512.3 93.5,512.3 94.0,512.3 94.1,512.3 94.5,512.3 94.8,512.3 95.0,512.3 95.4,512.3 95.6,512.3 96.1,512.3 96.6,512.3 96.7,512.3 97.1,512.3 97.4,512.3 97.6,512.3 98.0,512.3 98.2,512.3 98.7,512.2 99.2,512.1 99.3,512.1 99.7,512.0 100.0,512.0 100.2,511.9 100.6,511.8 100.8,511.7 101.3,511.5 101.8,511.4 101.9,511.3 102.3,511.3 102.6,511.3 102.9,511.4 103.2,511.5 103.4,511.6 103.9,511.8 104.4,512.0 104.5,512.0 104.9,512.1 105.2,512.2 105.5,512.3 105.8,512.3 106.0,512.3 106.5,512.4 107.0,512.5 107.1,512.5 107.5,512.5 107.8,512.5 108.1,512.5 108.4,512.6 108.6,512.6 109.1,512.6 109.6,512.6 109.7,512.6 110.1,512.6 110.4,512.7 110.7,512.7 111.1,512.7 111.2,512.7 111.7,512.7 112.2,512.7 112.4,512.7 112.7,512.7 113.0,512.7 113.3,512.7 113.7,512.7 113.8,512.7 114.3,512.8 115.0,512.8 115.6,512.8 116.3,512.8 116.9,512.8 117.6,512.8 118.2,512.8 118.9,512.8 119.5,512.9 120.2,512.9 120.8,512.9 121.5,512.9 122.1,512.9 122.8,512.9 123.4,512.9 124.1,512.9 124.7,512.9 125.4,513.0 126.0,513.0 126.7,513.0 127.3,513.0 128.0,513.0 128.6,513.0 129.3,513.0 129.9,513.0 130.6,513.1 131.2,513.1 131.9,513.1 132.5,513.1 133.2,513.1 133.8,513.1 134.5,513.1 135.1,513.1 135.8,513.2 136.4,513.2 137.1,513.2 137.7,513.2 138.4,513.2 139.0,513.2 139.7,513.2 140.3,513.2 141.0,513.3 141.6,513.3 142.3,513.3 142.9,513.3 143.6,513.3 144.2,513.3 144.9,513.3 145.5,513.3 146.2,513.4 146.8,513.4 147.5,513.4 148.1,513.4 148.8,513.4 149.4,513.4 150.1,513.4 150.7,513.4 151.4,513.5 152.0,513.5 152.7,513.5 153.3,513.5 154.0,513.5 154.7,513.5 155.3,513.5 156.0,513.5 156.6,513.6 157.3,513.6 157.9,513.6 158.6,513.6 159.2,513.6 159.9,513.6 160.5,513.6 161.2,513.6 161.8,513.7 162.5,513.7 163.1,513.7 163.8,513.7 164.4,513.7 165.1,513.7 165.7,513.7 166.4,513.7 167.0,513.8 167.7,513.8 168.3,513.8 169.0,513.8 169.6,513.8 170.3,513.8 170.9,513.8 171.6,513.8 172.2,513.9 172.9,513.9 173.5,513.9 174.2,513.9 174.8,513.9 175.5,513.9 176.1,513.9 176.8,513.9 177.4,514.0 178.1,514.0 178.7,514.0 179.4,514.0 180.0,514.0 180.7,514.0 181.3,514.0 182.0,514.0 182.6,514.1 183.3,514.1 183.9,514.1 184.6,514.1 185.2,514.1 185.9,514.1 186.5,514.1 187.2,514.1 187.8,514.2 188.5,514.2 189.1,514.2 189.8,514.2 190.4,514.2 191.1,514.2 191.7,514.2 192.4,514.2 193.0,514.3 193.7,514.3 194.3,514.3 195.0,514.3 195.6,514.3 196.3,514.3 197.0,514.3 197.6,514.3 198.3,514.4 198.9,514.4 199.6,514.4 200.2,514.4 200.9,514.4 201.5,514.4 202.2,514.4 202.8,514.4 203.5,514.5 204.1,514.5 204.8,514.5 205.4,514.5"/>
<circle cx="87.5" cy="376.6" r="2.85" fill="#7a78da"/>
<circle cx="87.5" cy="384.2" r="2.85" fill="#0c1565"/>
<path d="M87.5 387.5L90.4 390.4L87.5 393.3L84.6 390.4Z" fill="#1a72d8"/>
<path d="M87.5 392.8L90.2 397.7L84.8 397.7Z" fill="#fff" stroke="#e2e2e2" stroke-width="0.7"/>
<rect x="80.0" y="400.1" width="5.7" height="5.7" fill="#b4b4b4"/>
<polygon points="82.80,407.90 83.59,409.81 85.65,409.97 84.08,411.32 84.56,413.33 82.80,412.25 81.04,413.33 81.52,411.32 79.95,409.97 82.01,409.81" fill="#f6efa8"/>
<circle cx="79.2" cy="425.8" r="2.85" fill="#7a78da"/>
<rect x="92.6" y="426.1" width="5.7" height="5.7" fill="#b4b4b4"/>
<rect x="98.9" y="413.1" width="5.7" height="5.7" fill="#b4b4b4"/>
<polygon points="101.70,420.50 102.49,422.41 104.55,422.57 102.98,423.92 103.46,425.93 101.70,424.85 99.94,425.93 100.42,423.92 98.85,422.57 100.91,422.41" fill="#f6efa8"/>
<circle cx="108.0" cy="398.3" r="2.85" fill="#7a78da"/>
<circle cx="108.0" cy="404.9" r="2.85" fill="#0c1565"/>
<path d="M108.0 409.3L110.9 412.2L108.0 415.1L105.1 412.2Z" fill="#1a72d8"/>
<path d="M108.0 414.2L110.7 419.1L105.3 419.1Z" fill="#fff" stroke="#e2e2e2" stroke-width="0.7"/>
<circle cx="139.8" cy="422.9" r="2.85" fill="#0c1565"/>
<path d="M139.8 427.4L142.7 430.3L139.8 433.2L136.9 430.3Z" fill="#1a72d8"/>
<rect x="159.7" y="421.0" width="5.7" height="5.7" fill="#b4b4b4"/>
<polygon points="162.50,427.60 163.29,429.51 165.35,429.67 163.78,431.02 164.26,433.03 162.50,431.95 160.74,433.03 161.22,431.02 159.65,429.67 161.71,429.51" fill="#f6efa8"/>
<circle cx="170.2" cy="408.1" r="2.85" fill="#7a78da"/>
<circle cx="170.2" cy="415.2" r="2.85" fill="#0c1565"/>
<path d="M170.2 418.9L173.1 421.8L170.2 424.7L167.3 421.8Z" fill="#1a72d8"/>
<path d="M170.2 425.6L172.9 430.5L167.5 430.5Z" fill="#fff" stroke="#e2e2e2" stroke-width="0.7"/>
<circle cx="184.7" cy="423.7" r="2.85" fill="#0c1565"/>
<path d="M184.7 428.5L187.6 431.4L184.7 434.3L181.8 431.4Z" fill="#1a72d8"/>
<circle cx="119.0" cy="378.5" r="2.85" fill="#7a78da"/>
<text x="122.3" y="381.7" font-family="Liberation Serif" font-weight="bold" stroke="#111" stroke-width="0.3" font-size="9.5" fill="#111">-Co</text>
<polygon points="141.00,375.80 141.79,377.71 143.85,377.87 142.28,379.22 142.76,381.23 141.00,380.15 139.24,381.23 139.72,379.22 138.15,377.87 140.21,377.71" fill="#f6efa8"/>
<text x="143.6" y="381.7" font-family="Liberation Serif" font-weight="bold" stroke="#111" stroke-width="0.3" font-size="9.5" fill="#111">-Cu</text>
<rect x="160.0" y="375.6" width="5.7" height="5.7" fill="#b4b4b4"/>
<text x="165.6" y="381.7" font-family="Liberation Serif" font-weight="bold" stroke="#111" stroke-width="0.3" font-size="9.5" fill="#111">-Mn</text>
<path d="M186.4 375.8L189.1 380.7L183.7 380.7Z" fill="#fff" stroke="#e2e2e2" stroke-width="0.7"/>
<text x="190.3" y="381.7" font-family="Liberation Serif" font-weight="bold" stroke="#111" stroke-width="0.3" font-size="9.5" fill="#111">-Ni</text>
<circle cx="119.0" cy="389.6" r="2.85" fill="#0c1565"/>
<text x="122.3" y="392.8" font-family="Liberation Serif" font-weight="bold" stroke="#111" stroke-width="0.3" font-size="9.5" fill="#111">-Fe</text>
<path d="M141.5 386.7L144.4 389.6L141.5 392.5L138.6 389.6Z" fill="#1a72d8"/>
<text x="144.7" y="392.8" font-family="Liberation Serif" font-weight="bold" stroke="#111" stroke-width="0.3" font-size="9.5" fill="#111">-Cr</text>
<text x="162.8" y="392.8" font-family="Liberation Serif" font-weight="bold" stroke="#111" stroke-width="0.3" font-size="9.5" fill="#111">F-FCC</text>
<path d="M23.2 372.5H205.4V517.3H23.2Z" fill="none" stroke="#111" stroke-width="1.5"/>
<path d="M23.2 517.3V513.5M36.2 517.3V515.0M49.2 517.3V513.5M62.2 517.3V515.0M75.3 517.3V513.5M88.3 517.3V515.0M101.3 517.3V513.5M114.3 517.3V515.0M127.3 517.3V513.5M140.3 517.3V515.0M153.3 517.3V513.5M166.4 517.3V515.0M179.4 517.3V513.5M192.4 517.3V515.0M205.4 517.3V513.5" stroke="#1a1a1a" stroke-width="1.1"/>
<text x="23.6" y="526.6" font-family="Liberation Serif" font-weight="bold" stroke="#111" stroke-width="0.3" font-size="9.8" text-anchor="middle" fill="#111">20</text>
<text x="49.6" y="526.6" font-family="Liberation Serif" font-weight="bold" stroke="#111" stroke-width="0.3" font-size="9.8" text-anchor="middle" fill="#111">30</text>
<text x="75.7" y="526.6" font-family="Liberation Serif" font-weight="bold" stroke="#111" stroke-width="0.3" font-size="9.8" text-anchor="middle" fill="#111">40</text>
<text x="101.7" y="526.6" font-family="Liberation Serif" font-weight="bold" stroke="#111" stroke-width="0.3" font-size="9.8" text-anchor="middle" fill="#111">50</text>
<text x="127.7" y="526.6" font-family="Liberation Serif" font-weight="bold" stroke="#111" stroke-width="0.3" font-size="9.8" text-anchor="middle" fill="#111">60</text>
<text x="153.8" y="526.6" font-family="Liberation Serif" font-weight="bold" stroke="#111" stroke-width="0.3" font-size="9.8" text-anchor="middle" fill="#111">70</text>
<text x="179.8" y="526.6" font-family="Liberation Serif" font-weight="bold" stroke="#111" stroke-width="0.3" font-size="9.8" text-anchor="middle" fill="#111">80</text>
<text x="205.8" y="526.6" font-family="Liberation Serif" font-weight="bold" stroke="#111" stroke-width="0.3" font-size="9.8" text-anchor="middle" fill="#111">90</text>
<text x="76.5" y="540.3" font-family="Liberation Serif" font-weight="bold" stroke="#111" stroke-width="0.3" font-size="13" fill="#111">2</text>
<text x="88.0" y="540.4" font-family="Liberation Serif" font-weight="bold" stroke="#111" stroke-width="0.3" font-style="italic" font-size="14" fill="#111">&#952;</text>
<text x="97.4" y="540.3" font-family="Liberation Serif" font-weight="bold" stroke="#111" stroke-width="0.3" font-size="13.8" fill="#111">(degree)</text>
<text transform="translate(17.6 508.7) rotate(-90) scale(1 0.93)" font-family="Liberation Serif" font-weight="bold" stroke="#111" stroke-width="0.3" font-size="13.65" fill="#111">Intensity (arb.units)</text>
<text x="24.6" y="387.5" font-family="Liberation Serif" font-weight="bold" stroke="#111" stroke-width="0.3" font-size="16" fill="#111">(e)</text>
<text x="204.8" y="434.0" font-family="Liberation Serif" font-weight="bold" stroke="#111" stroke-width="0.3" font-size="8.6" text-anchor="end" fill="#111">0 h</text>
<text x="204.8" y="444.1" font-family="Liberation Serif" font-weight="bold" stroke="#111" stroke-width="0.3" font-size="8.6" text-anchor="end" fill="#111">5 h</text>
<text x="204.8" y="451.0" font-family="Liberation Serif" font-weight="bold" stroke="#111" stroke-width="0.3" font-size="8.6" text-anchor="end" fill="#111">10 h</text>
<text x="204.8" y="459.7" font-family="Liberation Serif" font-weight="bold" stroke="#111" stroke-width="0.3" font-size="8.6" text-anchor="end" fill="#111">15 h</text>
<text x="204.8" y="491.5" font-family="Liberation Serif" font-weight="bold" stroke="#111" stroke-width="0.3" font-size="8.6" text-anchor="end" fill="#111">30 h</text>
<text x="204.8" y="501.4" font-family="Liberation Serif" font-weight="bold" stroke="#111" stroke-width="0.3" font-size="8.6" text-anchor="end" fill="#111">45 h</text>
<text x="204.8" y="511.6" font-family="Liberation Serif" font-weight="bold" stroke="#111" stroke-width="0.3" font-size="8.6" text-anchor="end" fill="#111">50 h</text>
<text transform="translate(84.6 469.0) scale(0.85 1)" font-family="Liberation Serif" font-weight="bold" stroke="#111" stroke-width="0.3" font-size="9.6" text-anchor="middle" fill="#111">F</text>
<text transform="translate(87.0 490.2) rotate(-90) scale(1 0.84)" font-family="Liberation Serif" font-weight="bold" stroke="#111" stroke-width="0.3" font-size="8.8" fill="#111">(111)</text>
<text transform="translate(103.8 469.9) scale(0.85 1)" font-family="Liberation Serif" font-weight="bold" stroke="#111" stroke-width="0.3" font-size="9.6" text-anchor="middle" fill="#111">F</text>
<text transform="translate(105.9 490.2) rotate(-90) scale(1 0.84)" font-family="Liberation Serif" font-weight="bold" stroke="#111" stroke-width="0.3" font-size="8.8" fill="#111">(200)</text>
<text transform="translate(165.7 470.9) scale(0.85 1)" font-family="Liberation Serif" font-weight="bold" stroke="#111" stroke-width="0.3" font-size="9.6" text-anchor="middle" fill="#111">F</text>
<text transform="translate(167.7 491.6) rotate(-90) scale(1 0.84)" font-family="Liberation Serif" font-weight="bold" stroke="#111" stroke-width="0.3" font-size="8.8" fill="#111">(220)</text>
<text x="87.4" y="70.0" font-family="Liberation Serif" font-weight="bold" stroke="#111" stroke-width="0.3" font-size="8.6" text-anchor="middle" fill="#111">B</text>
<text x="314.9" y="81.0" font-family="Liberation Serif" font-weight="bold" stroke="#111" stroke-width="0.3" font-size="8.6" text-anchor="middle" fill="#111">B</text>
<text x="87.5" y="253.2" font-family="Liberation Serif" font-weight="bold" stroke="#111" stroke-width="0.3" font-size="8.6" text-anchor="middle" fill="#111">B</text>
</svg>
</body></html>
